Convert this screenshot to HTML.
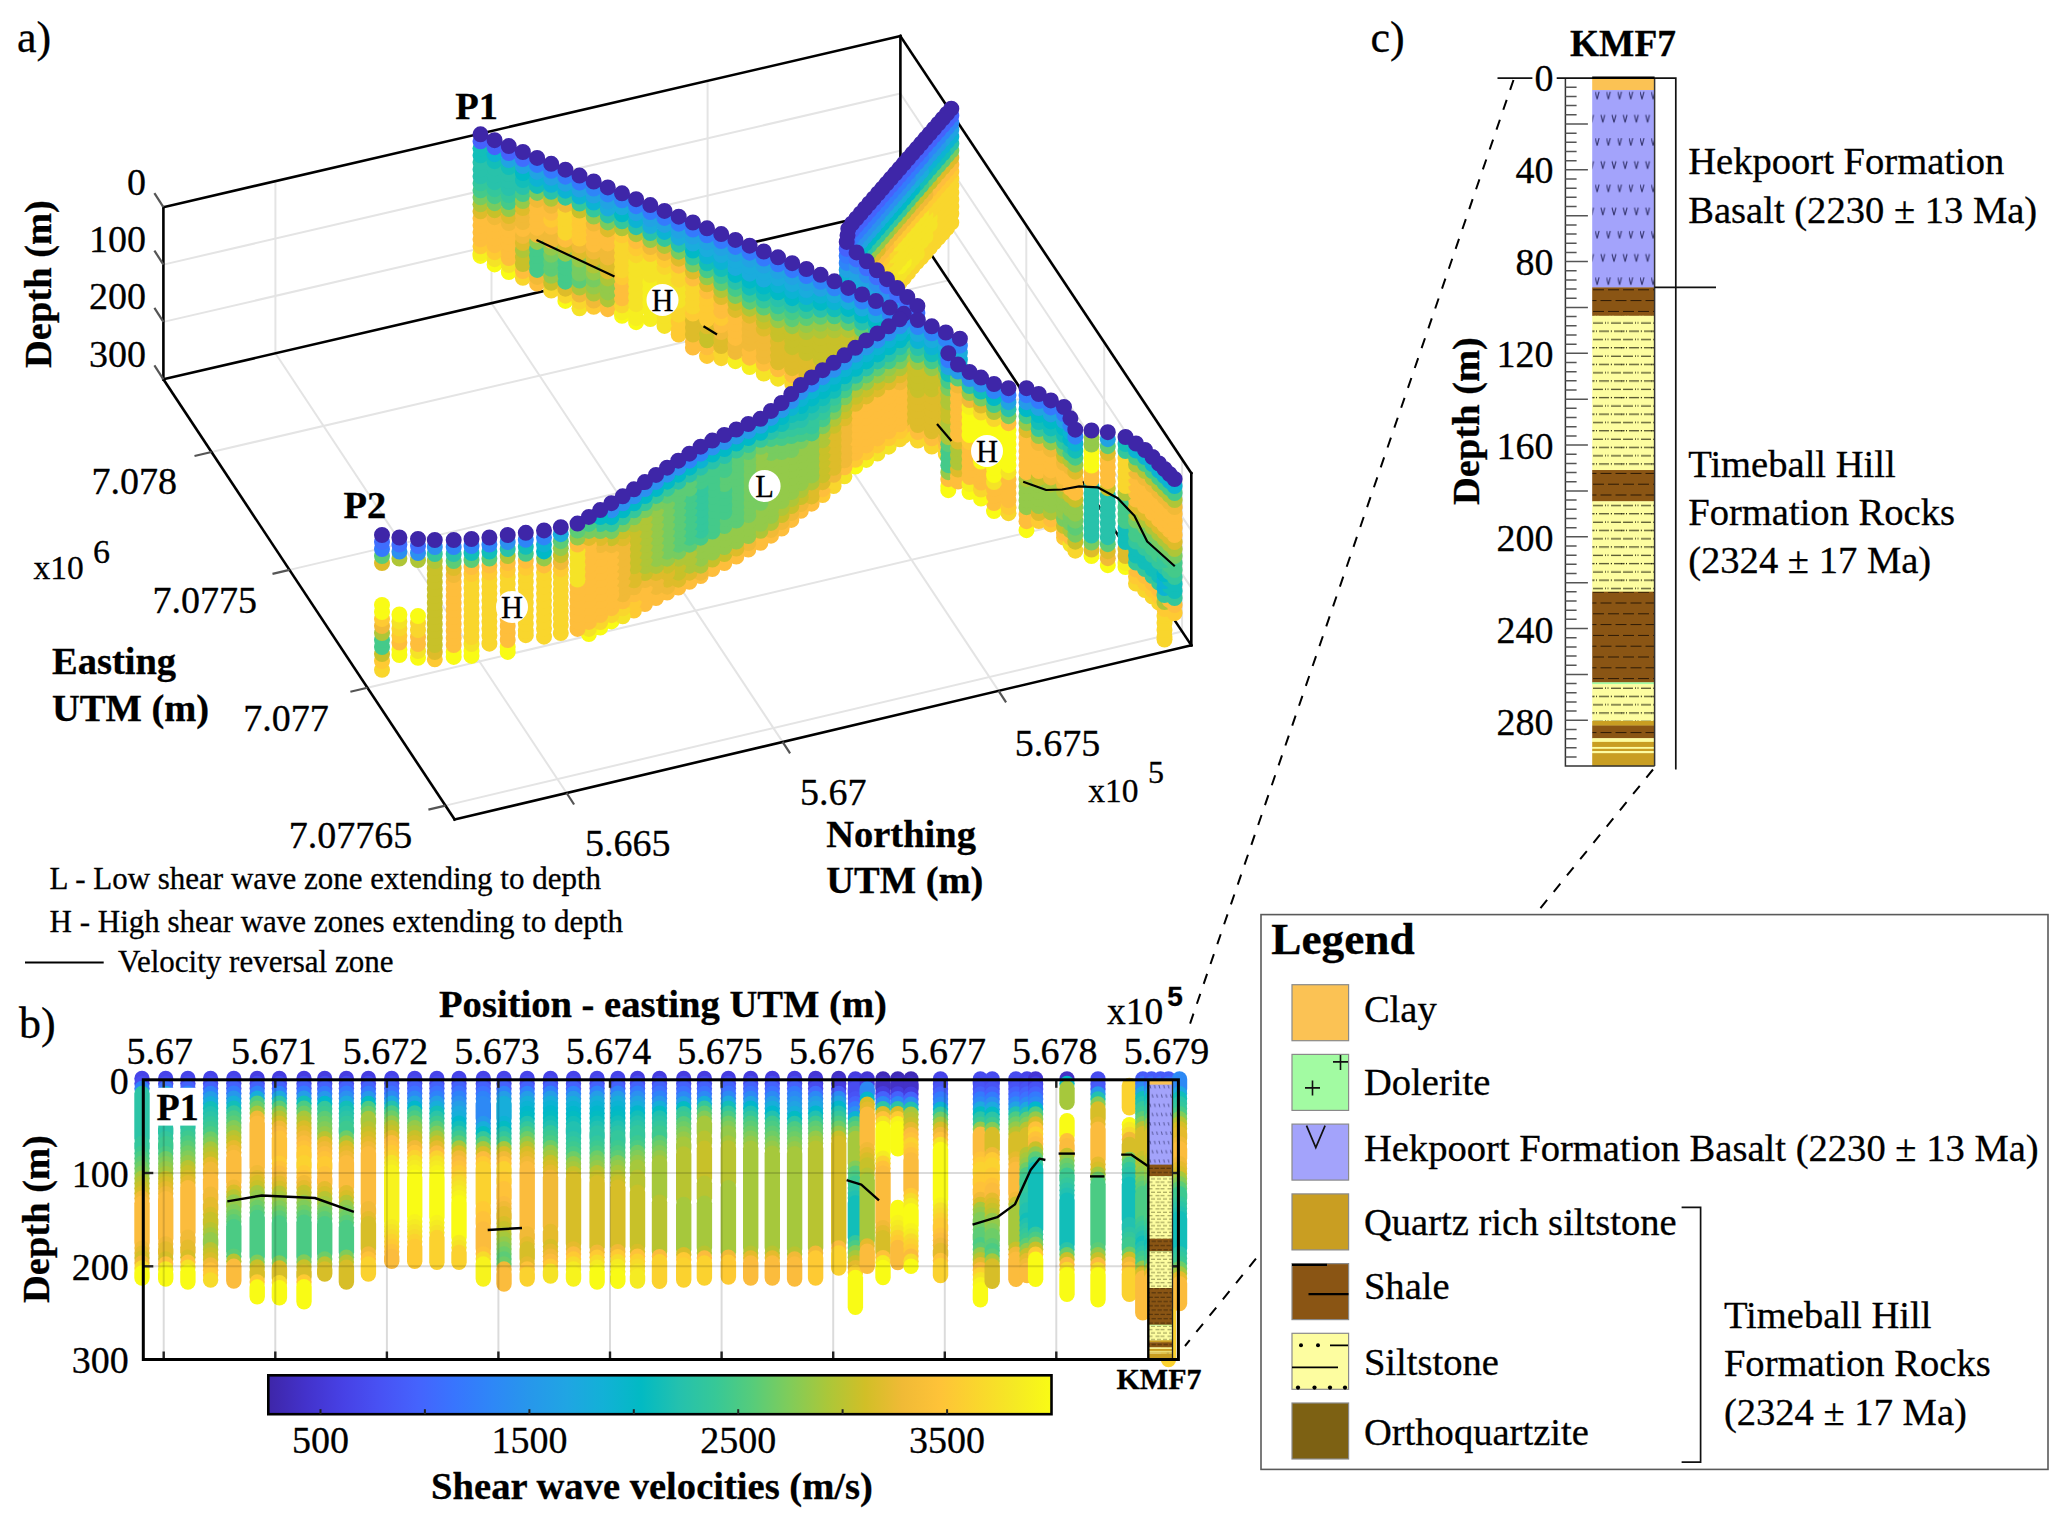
<!DOCTYPE html>
<html><head><meta charset="utf-8"><title>Figure</title>
<style>
html,body{margin:0;padding:0;background:#fff;}
svg{display:block;}
text{font-family:"Liberation Serif",serif;fill:#000;stroke:#000;stroke-width:0.3px;}
</style></head><body>
<svg width="2067" height="1524" viewBox="0 0 2067 1524">
<rect width="2067" height="1524" fill="#fff"/>
<g stroke="#e4e4e4" stroke-width="2" fill="none">
<line x1="566.6" y1="793" x2="275.4" y2="353.3" />
<line x1="275.4" y1="353.3" x2="275.4" y2="181.2" />
<line x1="782.6" y1="741.9" x2="491.5" y2="303.1" />
<line x1="491.5" y1="303.1" x2="491.5" y2="131" />
<line x1="998.6" y1="690.9" x2="707.6" y2="253" />
<line x1="707.6" y1="253" x2="707.6" y2="80.9" />
<line x1="211.5" y1="452" x2="948.5" y2="280.4" />
<line x1="948.5" y1="280.4" x2="948.5" y2="108.3" />
<line x1="289.5" y1="569.9" x2="1026.3" y2="397.4" />
<line x1="1026.3" y1="397.4" x2="1026.3" y2="225.3" />
<line x1="367.4" y1="687.7" x2="1104.2" y2="514.5" />
<line x1="1104.2" y1="514.5" x2="1104.2" y2="342.4" />
<line x1="445.4" y1="805.6" x2="1182.1" y2="631.5" />
<line x1="1182.1" y1="631.5" x2="1182.1" y2="459.4" />
<line x1="163.4" y1="321.9" x2="900.4" y2="150.8" />
<line x1="900.4" y1="150.8" x2="1191.3" y2="587.9" />
<line x1="163.4" y1="264.6" x2="900.4" y2="93.5" />
<line x1="900.4" y1="93.5" x2="1191.3" y2="530.6" />
</g>
<g stroke="#000" stroke-width="2.6" fill="none" stroke-linecap="square">
<line x1="163.4" y1="379.3" x2="163.4" y2="207.2" />
<line x1="163.4" y1="207.2" x2="900.4" y2="36.1" />
<line x1="900.4" y1="36.1" x2="1191.3" y2="473.2" />
<line x1="900.4" y1="208.2" x2="900.4" y2="36.1" />
<line x1="1191.3" y1="645.3" x2="1191.3" y2="473.2" />
<line x1="163.4" y1="379.3" x2="900.4" y2="208.2" />
<line x1="900.4" y1="208.2" x2="1191.3" y2="645.3" />
<line x1="163.4" y1="379.3" x2="454.6" y2="819.5" />
<line x1="454.6" y1="819.5" x2="1191.3" y2="645.3" />
</g>
<g stroke="#555" stroke-width="2.2" fill="none">
<line x1="566.6" y1="793" x2="574.1" y2="804.5" />
<line x1="782.6" y1="741.9" x2="790.1" y2="753.4" />
<line x1="998.6" y1="690.9" x2="1006.1" y2="702.4" />
<line x1="211.5" y1="452" x2="194.5" y2="456" />
<line x1="289.5" y1="569.9" x2="272.5" y2="573.9" />
<line x1="367.4" y1="687.7" x2="350.4" y2="691.7" />
<line x1="445.4" y1="805.6" x2="428.4" y2="809.6" />
<line x1="163.4" y1="207.2" x2="154.4" y2="193.2" />
<line x1="163.4" y1="264.6" x2="154.4" y2="250.6" />
<line x1="163.4" y1="321.9" x2="154.4" y2="307.9" />
<line x1="163.4" y1="379.3" x2="154.4" y2="365.3" />
</g>
<g fill="none" stroke-width="16" stroke-linecap="round">
<path d="M942.7 233.2h0" stroke="#f9d62d"/>
<path d="M951.3 222.6h0M947 228h0M942.7 230.7h0M938.3 237.9h0M934 242.6h0M929.7 247.6h0M925.4 252.8h0M921.1 257.6h0M916.8 262.2h0M912.4 267.2h0M908.1 272.5h0M903.8 277.8h0M899.5 282.7h0M895.2 287.5h0" stroke="#f9d62d"/>
<path d="M890.8 292.7h0M886.5 298h0M882.2 302.9h0M877.9 307.5h0M873.6 312.2h0" stroke="#feca33"/>
<path d="M869.2 317.3h0M864.9 322.5h0M860.6 327.4h0M856.3 332.1h0M852 337.3h0M848.3 343h0M847.5 349.8h0M846.7 356.1h0" stroke="#febe3c"/>
<path d="M951.3 213.7h0M947 218.7h0M942.7 223.7h0M938.3 228.7h0M934 233.7h0M929.7 238.7h0M925.4 243.6h0M921.1 248.6h0M890.8 283.6h0M886.5 288.6h0" stroke="#f9d62d"/>
<path d="M916.8 253.6h0M912.4 258.6h0M908.1 263.6h0M903.8 268.6h0M899.5 273.6h0M895.2 278.6h0" stroke="#f5e327"/>
<path d="M882.2 293.6h0M877.9 298.5h0M873.6 303.5h0" stroke="#feca33"/>
<path d="M869.2 308.5h0M864.9 313.5h0M860.6 318.5h0M856.3 323.5h0M852 328.5h0M848.3 333.8h0M847.5 340.3h0M846.7 346.9h0" stroke="#febe3c"/>
<path d="M951.3 206.7h0M947 211.7h0M942.7 216.7h0M938.3 221.7h0M934 226.7h0M929.7 231.7h0M886.5 281.6h0M882.2 286.6h0" stroke="#f9d62d"/>
<path d="M925.4 236.6h0M921.1 241.6h0M916.8 246.6h0M912.4 251.6h0M908.1 256.6h0M895.2 271.6h0M890.8 276.6h0" stroke="#f5e327"/>
<path d="M903.8 261.6h0M899.5 266.6h0" stroke="#f6ef20"/>
<path d="M877.9 291.5h0M873.6 296.5h0M869.2 301.5h0" stroke="#feca33"/>
<path d="M864.9 306.5h0M860.6 311.5h0M856.3 316.5h0M852 321.5h0M848.3 326.8h0M847.5 333.3h0M846.7 339.9h0" stroke="#febe3c"/>
<path d="M951.3 199.7h0M947 204.7h0M942.7 209.7h0M938.3 214.7h0M934 219.7h0M886.5 274.6h0M882.2 279.6h0M877.9 284.5h0" stroke="#f9d62d"/>
<path d="M929.7 224.7h0M925.4 229.6h0M921.1 234.6h0M916.8 239.6h0M912.4 244.6h0M908.1 249.6h0M903.8 254.6h0M899.5 259.6h0M895.2 264.6h0M890.8 269.6h0" stroke="#f5e327"/>
<path d="M873.6 289.5h0M869.2 294.5h0" stroke="#feca33"/>
<path d="M864.9 299.5h0M860.6 304.5h0M856.3 309.5h0M852 314.5h0M848.3 319.8h0M847.5 326.3h0M846.7 332.9h0" stroke="#febe3c"/>
<path d="M951.3 192.7h0M947 197.7h0M942.7 202.7h0M938.3 207.7h0M934 212.7h0M886.5 267.6h0M882.2 272.6h0M877.9 277.5h0" stroke="#f9d62d"/>
<path d="M929.7 217.7h0M925.4 222.6h0M921.1 227.6h0M916.8 232.6h0M912.4 237.6h0M908.1 242.6h0M903.8 247.6h0M899.5 252.6h0M895.2 257.6h0M890.8 262.6h0" stroke="#f5e327"/>
<path d="M873.6 282.5h0M869.2 287.5h0M864.9 292.5h0M860.6 297.5h0" stroke="#feca33"/>
<path d="M856.3 302.5h0M852 307.5h0M848.3 312.8h0M847.5 319.3h0M846.7 325.9h0" stroke="#febe3c"/>
<path d="M951.3 185.7h0M947 190.7h0M942.7 195.7h0M938.3 200.7h0M934 205.7h0M929.7 210.7h0M886.5 260.6h0M882.2 265.6h0M877.9 270.5h0M873.6 275.5h0" stroke="#f9d62d"/>
<path d="M925.4 215.6h0M921.1 220.6h0M916.8 225.6h0M912.4 230.6h0M908.1 235.6h0M903.8 240.6h0M899.5 245.6h0M895.2 250.6h0M890.8 255.6h0" stroke="#f5e327"/>
<path d="M869.2 280.5h0M864.9 285.5h0M860.6 290.5h0M856.3 295.5h0" stroke="#feca33"/>
<path d="M852 300.5h0M848.3 305.8h0M847.5 312.3h0M846.7 318.9h0" stroke="#febe3c"/>
<path d="M951.3 178.7h0M947 183.7h0M942.7 188.7h0M938.3 193.7h0M934 198.7h0M929.7 203.7h0M925.4 208.6h0M890.8 248.6h0M886.5 253.6h0" stroke="#f9d62d"/>
<path d="M921.1 213.6h0M916.8 218.6h0M912.4 223.6h0M908.1 228.6h0M903.8 233.6h0M899.5 238.6h0M895.2 243.6h0" stroke="#f5e327"/>
<path d="M882.2 258.6h0M877.9 263.5h0M873.6 268.5h0M869.2 273.5h0" stroke="#feca33"/>
<path d="M864.9 278.5h0M860.6 283.5h0M856.3 288.5h0M852 293.5h0M848.3 298.8h0M847.5 305.3h0M846.7 311.9h0" stroke="#febe3c"/>
<path d="M951.3 171.7h0M947 176.7h0M942.7 181.7h0M938.3 186.7h0M934 191.7h0M929.7 196.7h0M925.4 201.6h0M921.1 206.6h0M916.8 211.6h0M912.4 216.6h0M908.1 221.6h0M903.8 226.6h0M899.5 231.6h0M895.2 236.6h0M890.8 241.6h0" stroke="#feca33"/>
<path d="M886.5 246.6h0M882.2 251.6h0M877.9 256.5h0M873.6 261.5h0M869.2 266.5h0M864.9 271.5h0M860.6 276.5h0M856.3 281.5h0M852 286.5h0" stroke="#febe3c"/>
<path d="M848.3 291.8h0M847.5 298.3h0M846.7 304.9h0" stroke="#f1ba37"/>
<path d="M951.3 164.7h0M947 169.7h0M942.7 174.7h0M938.3 179.7h0M934 184.7h0M929.7 189.7h0" stroke="#febe3c"/>
<path d="M925.4 194.6h0M921.1 199.6h0M916.8 204.6h0M912.4 209.6h0M908.1 214.6h0M903.8 219.6h0M899.5 224.6h0M895.2 229.6h0M890.8 234.6h0M886.5 239.6h0M882.2 244.6h0" stroke="#f1ba37"/>
<path d="M877.9 249.5h0M873.6 254.5h0M869.2 259.5h0M864.9 264.5h0M860.6 269.5h0M856.3 274.5h0M852 279.5h0M848.3 284.8h0M847.5 291.3h0M846.7 297.9h0" stroke="#debc2a"/>
<path d="M951.3 157.7h0M947 162.7h0M942.7 167.7h0M938.3 172.7h0M934 177.7h0" stroke="#debc2a"/>
<path d="M929.7 182.7h0M925.4 187.6h0M921.1 192.6h0M916.8 197.6h0M912.4 202.6h0" stroke="#c8c129"/>
<path d="M908.1 207.6h0M903.8 212.6h0M899.5 217.6h0M895.2 222.6h0M890.8 227.6h0" stroke="#afc637"/>
<path d="M886.5 232.6h0M882.2 237.6h0M877.9 242.5h0M873.6 247.5h0M869.2 252.5h0M864.9 257.5h0M860.6 262.5h0" stroke="#94ca4a"/>
<path d="M856.3 267.5h0M852 272.5h0M848.3 277.8h0" stroke="#77cc60"/>
<path d="M847.5 284.3h0M846.7 290.9h0" stroke="#5ccc76"/>
<path d="M951.3 150.7h0M947 155.7h0" stroke="#77cc60"/>
<path d="M942.7 160.7h0M938.3 165.7h0M934 170.7h0M929.7 175.7h0M925.4 180.6h0" stroke="#5ccc76"/>
<path d="M921.1 185.6h0M916.8 190.6h0M912.4 195.6h0M908.1 200.6h0M903.8 205.6h0" stroke="#44ca8a"/>
<path d="M899.5 210.6h0M895.2 215.6h0M890.8 220.6h0M886.5 225.6h0M882.2 230.6h0M877.9 235.5h0M873.6 240.5h0M869.2 245.5h0" stroke="#34c79c"/>
<path d="M864.9 250.5h0M860.6 255.5h0M856.3 260.5h0M852 265.5h0M848.3 270.8h0" stroke="#28c2ab"/>
<path d="M847.5 277.3h0M846.7 283.9h0" stroke="#12beb9"/>
<path d="M951.3 143.7h0M947 148.7h0" stroke="#28c2ab"/>
<path d="M942.7 153.7h0M938.3 158.7h0M934 163.7h0M929.7 168.7h0M925.4 173.6h0M921.1 178.6h0M916.8 183.6h0" stroke="#12beb9"/>
<path d="M912.4 188.6h0M908.1 193.6h0M903.8 198.6h0M899.5 203.6h0M895.2 208.6h0M890.8 213.6h0M886.5 218.6h0M882.2 223.6h0M877.9 228.5h0M873.6 233.5h0M869.2 238.5h0M864.9 243.5h0M860.6 248.5h0" stroke="#01b9c6"/>
<path d="M856.3 253.5h0M852 258.5h0M848.3 263.8h0M847.5 270.3h0M846.7 276.9h0" stroke="#0cb3d3"/>
<path d="M951.3 136.7h0M947 141.7h0M942.7 146.7h0M938.3 151.7h0M934 156.7h0M929.7 161.7h0M925.4 166.6h0" stroke="#0cb3d3"/>
<path d="M921.1 171.6h0M916.8 176.6h0M912.4 181.6h0M908.1 186.6h0M903.8 191.6h0M899.5 196.6h0M895.2 201.6h0M890.8 206.6h0M886.5 211.6h0M882.2 216.6h0M877.9 221.5h0" stroke="#1aacdd"/>
<path d="M873.6 226.5h0M869.2 231.5h0M864.9 236.5h0M860.6 241.5h0M856.3 246.5h0M852 251.5h0M848.3 256.8h0M847.5 263.3h0M846.7 269.9h0" stroke="#21a3e3"/>
<path d="M951.3 129.7h0M947 134.7h0M942.7 139.7h0" stroke="#21a3e3"/>
<path d="M938.3 144.7h0M934 149.7h0M929.7 154.7h0M925.4 159.6h0M921.1 164.6h0M916.8 169.6h0M912.4 174.6h0" stroke="#269ae9"/>
<path d="M908.1 179.6h0M903.8 184.6h0M899.5 189.6h0M895.2 194.6h0M890.8 199.6h0M886.5 204.6h0M882.2 209.6h0M877.9 214.5h0M873.6 219.5h0M869.2 224.5h0M864.9 229.5h0M860.6 234.5h0M856.3 239.5h0M852 244.5h0M848.3 249.8h0M847.5 256.3h0" stroke="#2c90f0"/>
<path d="M846.7 262.9h0" stroke="#2e85f8"/>
<path d="M951.3 122.7h0M947 127.7h0M942.7 132.7h0M938.3 137.7h0M934 142.7h0M929.7 147.7h0M925.4 152.6h0" stroke="#2e85f8"/>
<path d="M921.1 157.6h0M916.8 162.6h0M912.4 167.6h0M908.1 172.6h0M903.8 177.6h0M899.5 182.6h0M895.2 187.6h0M890.8 192.6h0M886.5 197.6h0M882.2 202.6h0M877.9 207.5h0M873.6 212.5h0M869.2 217.5h0M864.9 222.5h0M860.6 227.5h0M856.3 232.5h0M852 237.5h0M848.3 242.8h0M847.5 249.3h0M846.7 255.9h0" stroke="#347afd"/>
<path d="M951.3 115.7h0M947 120.7h0M942.7 125.7h0M938.3 130.7h0M934 135.7h0M929.7 140.7h0M925.4 145.6h0M921.1 150.6h0M916.8 155.6h0M912.4 160.6h0M908.1 165.6h0M903.8 170.6h0M899.5 175.6h0M895.2 180.6h0M890.8 185.6h0M886.5 190.6h0M882.2 195.6h0M877.9 200.5h0M873.6 205.5h0M869.2 210.5h0M864.9 215.5h0M860.6 220.5h0M856.3 225.5h0M852 230.5h0M848.3 235.8h0M847.5 242.3h0M846.7 248.9h0" stroke="#4562fc"/>
<path d="M951.3 108.7h0M947 113.7h0M942.7 118.7h0M938.3 123.7h0M934 128.7h0M929.7 133.7h0M925.4 138.6h0M921.1 143.6h0M916.8 148.6h0M912.4 153.6h0M908.1 158.6h0M903.8 163.6h0M899.5 168.6h0M895.2 173.6h0M890.8 178.6h0M886.5 183.6h0M882.2 188.6h0M877.9 193.5h0M873.6 198.5h0M869.2 203.5h0M864.9 208.5h0M860.6 213.5h0M856.3 218.5h0M852 223.5h0M848.3 228.8h0M847.5 235.3h0M846.7 241.9h0" stroke="#3e26a8"/>
<path d="M866.8 377.2h0M876.9 387.2h0M887 394.4h0M917.4 420.7h0" stroke="#febe3c"/>
<path d="M856.6 365.8h0M866.8 373.3h0M876.9 382.3h0M887 391.2h0M897.2 401.6h0M907.3 410.8h0M917.4 417.9h0" stroke="#febe3c"/>
<path d="M856.6 357.4h0M866.8 366.3h0M876.9 375.3h0M887 384.2h0M897.2 393.1h0M907.3 402h0M917.4 410.9h0" stroke="#febe3c"/>
<path d="M856.6 350.4h0M866.8 359.3h0M876.9 368.3h0M887 377.2h0M897.2 386.1h0M907.3 395h0M917.4 403.9h0" stroke="#febe3c"/>
<path d="M856.6 343.4h0M866.8 352.3h0M876.9 361.3h0M887 370.2h0M897.2 379.1h0M907.3 388h0M917.4 396.9h0" stroke="#febe3c"/>
<path d="M856.6 336.4h0M866.8 345.3h0M876.9 354.3h0M887 363.2h0M897.2 372.1h0M907.3 381h0M917.4 389.9h0" stroke="#febe3c"/>
<path d="M856.6 329.4h0M866.8 338.3h0M876.9 347.3h0M887 356.2h0M897.2 365.1h0M907.3 374h0M917.4 382.9h0" stroke="#febe3c"/>
<path d="M856.6 322.4h0M866.8 331.3h0M876.9 340.3h0M887 349.2h0M897.2 358.1h0M907.3 367h0M917.4 375.9h0" stroke="#febe3c"/>
<path d="M856.6 315.4h0M866.8 324.3h0M876.9 333.3h0M887 342.2h0M897.2 351.1h0M907.3 360h0M917.4 368.9h0" stroke="#f1ba37"/>
<path d="M856.6 308.4h0M866.8 317.3h0M876.9 326.3h0M887 335.2h0M897.2 344.1h0M907.3 353h0M917.4 361.9h0" stroke="#debc2a"/>
<path d="M856.6 301.4h0M866.8 310.3h0M876.9 319.3h0M887 328.2h0M897.2 337.1h0M907.3 346h0M917.4 354.9h0" stroke="#94ca4a"/>
<path d="M856.6 294.4h0M866.8 303.3h0" stroke="#44ca8a"/>
<path d="M876.9 312.3h0M887 321.2h0M897.2 330.1h0M907.3 339h0M917.4 347.9h0" stroke="#5ccc76"/>
<path d="M856.6 287.4h0M866.8 296.3h0M876.9 305.3h0M887 314.2h0" stroke="#12beb9"/>
<path d="M897.2 323.1h0M907.3 332h0M917.4 340.9h0" stroke="#28c2ab"/>
<path d="M856.6 280.4h0M866.8 289.3h0M876.9 298.3h0M887 307.2h0M897.2 316.1h0" stroke="#1aacdd"/>
<path d="M907.3 325h0M917.4 333.9h0" stroke="#0cb3d3"/>
<path d="M856.6 273.4h0M866.8 282.3h0M876.9 291.3h0M887 300.2h0M897.2 309.1h0M907.3 318h0M917.4 326.9h0" stroke="#21a3e3"/>
<path d="M856.6 266.4h0M866.8 275.3h0M876.9 284.3h0M887 293.2h0M897.2 302.1h0" stroke="#2c90f0"/>
<path d="M907.3 311h0M917.4 319.9h0" stroke="#269ae9"/>
<path d="M856.6 259.4h0M866.8 268.3h0M876.9 277.3h0M887 286.2h0M897.2 295.1h0M907.3 304h0M917.4 312.9h0" stroke="#3f6efe"/>
<path d="M856.6 252.4h0M866.8 261.3h0M876.9 270.3h0M887 279.2h0M897.2 288.1h0M907.3 297h0M917.4 305.9h0" stroke="#3e26a8"/>
<path d="M565.4 300.9h0" stroke="#f9fb15"/>
<path d="M579.5 308.3h0" stroke="#f5e327"/>
<path d="M480.5 255.9h0M494.6 264.4h0M508.8 272h0M622 315.8h0M636.1 322.2h0" stroke="#f9fb15"/>
<path d="M522.9 277.8h0M551.2 290.6h0M565.4 295.7h0M579.5 301.6h0M721.2 358.2h0M820.6 397.8h0M834.4 405h0M848.3 410.6h0M862.1 416.4h0M875.9 423.5h0M889.8 430.6h0M903.8 435.9h0M945.8 454h0M959.9 461.1h0" stroke="#f9d62d"/>
<path d="M537.1 283.5h0M607.8 309.2h0M692.9 347.5h0" stroke="#febe3c"/>
<path d="M593.7 306.8h0M707 355.9h0" stroke="#feca33"/>
<path d="M763.8 373.5h0" stroke="#f5e327"/>
<path d="M480.5 253.3h0M622 312.3h0M636.1 318.2h0M735.4 361.2h0M749.6 367h0" stroke="#f6ef20"/>
<path d="M494.6 259.2h0M508.8 265.1h0M664.5 325.9h0M763.8 370.5h0M778 378.7h0" stroke="#f5e327"/>
<path d="M522.9 271h0M607.8 306.4h0M692.9 341.5h0M707 347.3h0" stroke="#febe3c"/>
<path d="M537.1 276.9h0M579.5 294.6h0M593.7 300.5h0" stroke="#f1ba37"/>
<path d="M551.2 282.8h0" stroke="#c8c129"/>
<path d="M565.4 288.7h0" stroke="#debc2a"/>
<path d="M678.7 334.6h0" stroke="#feca33"/>
<path d="M721.2 353.1h0M792.2 383.7h0M806.4 390.2h0M820.6 393.8h0M834.4 400.3h0M848.3 406.9h0M862.1 413.5h0M875.9 420.1h0M889.8 426.6h0M903.8 432.8h0M917.8 440.5h0M931.8 446.5h0M945.8 451.5h0M959.9 457.7h0" stroke="#f9d62d"/>
<path d="M480.5 246.3h0M494.6 252.2h0M678.7 328.7h0" stroke="#feca33"/>
<path d="M508.8 258.1h0M749.6 357.7h0M763.8 363.5h0M778 369.3h0M792.2 375.2h0M806.4 381h0M820.6 386.8h0M834.4 393.3h0M848.3 399.9h0M862.1 406.5h0M875.9 413.1h0M889.8 419.6h0M903.8 425.8h0M917.8 432h0M931.8 438.3h0M945.8 444.5h0M959.9 450.7h0" stroke="#febe3c"/>
<path d="M522.9 264h0M707 340.3h0" stroke="#c8c129"/>
<path d="M537.1 269.9h0M565.4 281.7h0" stroke="#44ca8a"/>
<path d="M551.2 275.8h0" stroke="#94ca4a"/>
<path d="M579.5 287.6h0M593.7 293.5h0M607.8 299.4h0" stroke="#afc637"/>
<path d="M622 305.3h0" stroke="#f9d62d"/>
<path d="M636.1 311.2h0M650.3 319h0" stroke="#f6ef20"/>
<path d="M664.5 322.9h0" stroke="#f5e327"/>
<path d="M692.9 334.5h0M721.2 346.1h0" stroke="#debc2a"/>
<path d="M735.4 351.9h0" stroke="#f1ba37"/>
<path d="M480.5 239.3h0M494.6 245.2h0M508.8 251.1h0M622 298.3h0M749.6 350.7h0" stroke="#febe3c"/>
<path d="M522.9 257h0M707 333.3h0" stroke="#c8c129"/>
<path d="M537.1 262.9h0M565.4 274.7h0" stroke="#44ca8a"/>
<path d="M551.2 268.8h0M579.5 280.6h0" stroke="#5ccc76"/>
<path d="M593.7 286.5h0M607.8 292.4h0" stroke="#94ca4a"/>
<path d="M636.1 304.2h0M664.5 315.9h0" stroke="#f5e327"/>
<path d="M650.3 310.1h0" stroke="#f6ef20"/>
<path d="M678.7 321.7h0" stroke="#feca33"/>
<path d="M692.9 327.5h0M721.2 339.1h0M778 362.3h0M792.2 368.2h0M806.4 374h0M820.6 379.8h0M834.4 386.3h0M848.3 392.9h0M862.1 399.5h0M875.9 406.1h0M889.8 412.6h0M903.8 418.8h0M917.8 425h0M931.8 431.3h0" stroke="#debc2a"/>
<path d="M735.4 344.9h0M763.8 356.5h0M945.8 437.5h0M959.9 443.7h0" stroke="#f1ba37"/>
<path d="M480.5 232.3h0M494.6 238.2h0M508.8 244.1h0M622 291.3h0M735.4 337.9h0" stroke="#febe3c"/>
<path d="M522.9 250h0" stroke="#afc637"/>
<path d="M537.1 255.9h0M565.4 267.7h0" stroke="#44ca8a"/>
<path d="M551.2 261.8h0" stroke="#5ccc76"/>
<path d="M579.5 273.6h0M593.7 279.5h0" stroke="#77cc60"/>
<path d="M607.8 285.4h0" stroke="#94ca4a"/>
<path d="M636.1 297.2h0M664.5 308.9h0" stroke="#f5e327"/>
<path d="M650.3 303.1h0" stroke="#f6ef20"/>
<path d="M678.7 314.7h0" stroke="#f9d62d"/>
<path d="M692.9 320.5h0M707 326.3h0M778 355.3h0M792.2 361.2h0M806.4 367h0M820.6 372.8h0M834.4 379.3h0M848.3 385.9h0M862.1 392.5h0M875.9 399.1h0M889.8 405.6h0M903.8 411.8h0M917.8 418h0M931.8 424.3h0M945.8 430.5h0M959.9 436.7h0" stroke="#debc2a"/>
<path d="M721.2 332.1h0M749.6 343.7h0M763.8 349.5h0" stroke="#f1ba37"/>
<path d="M480.5 225.3h0M494.6 231.2h0M508.8 237.1h0M622 284.3h0M721.2 325.1h0M735.4 330.9h0" stroke="#febe3c"/>
<path d="M522.9 243h0M778 348.3h0M792.2 354.2h0M806.4 360h0M820.6 365.8h0M834.4 372.3h0M848.3 378.9h0M862.1 385.5h0M875.9 392.1h0M889.8 398.6h0M903.8 404.8h0M917.8 411h0M931.8 417.3h0M945.8 423.5h0M959.9 429.7h0" stroke="#debc2a"/>
<path d="M537.1 248.9h0M565.4 260.7h0" stroke="#44ca8a"/>
<path d="M551.2 254.8h0M579.5 266.6h0" stroke="#77cc60"/>
<path d="M593.7 272.5h0" stroke="#94ca4a"/>
<path d="M607.8 278.4h0" stroke="#afc637"/>
<path d="M636.1 290.2h0M664.5 301.9h0" stroke="#f5e327"/>
<path d="M650.3 296.1h0" stroke="#f6ef20"/>
<path d="M678.7 307.7h0" stroke="#f9d62d"/>
<path d="M692.9 313.5h0M707 319.3h0" stroke="#feca33"/>
<path d="M749.6 336.7h0M763.8 342.5h0" stroke="#f1ba37"/>
<path d="M480.5 218.3h0M494.6 224.2h0M508.8 230.1h0M735.4 323.9h0" stroke="#febe3c"/>
<path d="M522.9 236h0M749.6 329.7h0M763.8 335.5h0" stroke="#f1ba37"/>
<path d="M537.1 241.9h0M551.2 247.8h0M565.4 253.7h0M579.5 259.6h0" stroke="#94ca4a"/>
<path d="M593.7 265.5h0" stroke="#afc637"/>
<path d="M607.8 271.4h0M778 341.3h0M848.3 371.9h0M862.1 378.5h0M875.9 385.1h0M889.8 391.6h0M903.8 397.8h0M917.8 404h0M931.8 410.3h0M945.8 416.5h0M959.9 422.7h0" stroke="#debc2a"/>
<path d="M622 277.3h0M707 312.3h0M721.2 318.1h0" stroke="#feca33"/>
<path d="M636.1 283.2h0M664.5 294.9h0M678.7 300.7h0" stroke="#f5e327"/>
<path d="M650.3 289.1h0" stroke="#f6ef20"/>
<path d="M692.9 306.5h0" stroke="#f9d62d"/>
<path d="M792.2 347.2h0M806.4 353h0M820.6 358.8h0M834.4 365.3h0" stroke="#c8c129"/>
<path d="M480.5 211.3h0M565.4 246.7h0M579.5 252.6h0M593.7 258.5h0M607.8 264.4h0M763.8 328.5h0M903.8 390.8h0M917.8 397h0M931.8 403.3h0M945.8 409.5h0M959.9 415.7h0" stroke="#debc2a"/>
<path d="M494.6 217.2h0M508.8 223.1h0M537.1 234.9h0M551.2 240.8h0M749.6 322.7h0" stroke="#f1ba37"/>
<path d="M522.9 229h0M721.2 311.1h0M735.4 316.9h0" stroke="#febe3c"/>
<path d="M622 270.3h0M692.9 299.5h0" stroke="#f9d62d"/>
<path d="M636.1 276.2h0M664.5 287.9h0M678.7 293.7h0" stroke="#f5e327"/>
<path d="M650.3 282.1h0" stroke="#f6ef20"/>
<path d="M707 305.3h0" stroke="#feca33"/>
<path d="M778 334.3h0M792.2 340.2h0M806.4 346h0M820.6 351.8h0M834.4 358.3h0M848.3 364.9h0M862.1 371.5h0M875.9 378.1h0M889.8 384.6h0" stroke="#c8c129"/>
<path d="M480.5 204.3h0" stroke="#afc637"/>
<path d="M494.6 210.2h0M763.8 321.5h0M778 327.3h0M792.2 333.2h0M806.4 339h0M820.6 344.8h0M834.4 351.3h0M848.3 357.9h0M862.1 364.5h0M875.9 371.1h0M889.8 377.6h0M903.8 383.8h0M917.8 390h0" stroke="#c8c129"/>
<path d="M508.8 216.1h0M735.4 309.9h0M749.6 315.7h0M931.8 396.3h0M945.8 402.5h0M959.9 408.7h0" stroke="#debc2a"/>
<path d="M522.9 222h0M551.2 233.8h0M579.5 245.6h0M593.7 251.5h0M607.8 257.4h0" stroke="#f1ba37"/>
<path d="M537.1 227.9h0M565.4 239.7h0M721.2 304.1h0" stroke="#febe3c"/>
<path d="M622 263.3h0M692.9 292.5h0" stroke="#f9d62d"/>
<path d="M636.1 269.2h0M650.3 275.1h0M664.5 280.9h0M678.7 286.7h0" stroke="#f5e327"/>
<path d="M707 298.3h0" stroke="#feca33"/>
<path d="M480.5 197.3h0M494.6 203.2h0" stroke="#77cc60"/>
<path d="M508.8 209.1h0M778 320.3h0M792.2 326.2h0" stroke="#94ca4a"/>
<path d="M522.9 215h0M607.8 250.4h0" stroke="#f1ba37"/>
<path d="M537.1 220.9h0M551.2 226.8h0M593.7 244.5h0M707 291.3h0" stroke="#febe3c"/>
<path d="M565.4 232.7h0M622 256.3h0M678.7 279.7h0M692.9 285.5h0" stroke="#f9d62d"/>
<path d="M579.5 238.6h0" stroke="#feca33"/>
<path d="M636.1 262.2h0M650.3 268.1h0M664.5 273.9h0" stroke="#f5e327"/>
<path d="M721.2 297.1h0M945.8 395.5h0M959.9 401.7h0" stroke="#debc2a"/>
<path d="M735.4 302.9h0M820.6 337.8h0M834.4 344.3h0M848.3 350.9h0M862.1 357.5h0M875.9 364.1h0M889.8 370.6h0M903.8 376.8h0M917.8 383h0M931.8 389.3h0" stroke="#c8c129"/>
<path d="M749.6 308.7h0M763.8 314.5h0M806.4 332h0" stroke="#afc637"/>
<path d="M480.5 190.3h0M494.6 196.2h0M508.8 202.1h0" stroke="#44ca8a"/>
<path d="M522.9 208h0M707 284.3h0M945.8 388.5h0M959.9 394.7h0" stroke="#debc2a"/>
<path d="M537.1 213.9h0M593.7 237.5h0M607.8 243.4h0M692.9 278.5h0" stroke="#febe3c"/>
<path d="M551.2 219.8h0M579.5 231.6h0" stroke="#feca33"/>
<path d="M565.4 225.7h0M622 249.3h0M636.1 255.2h0M664.5 266.9h0M678.7 272.7h0" stroke="#f9d62d"/>
<path d="M650.3 261.1h0" stroke="#f5e327"/>
<path d="M721.2 290.1h0M820.6 330.8h0" stroke="#afc637"/>
<path d="M735.4 295.9h0" stroke="#77cc60"/>
<path d="M749.6 301.7h0M763.8 307.5h0M778 313.3h0M792.2 319.2h0" stroke="#5ccc76"/>
<path d="M806.4 325h0" stroke="#94ca4a"/>
<path d="M834.4 337.3h0M848.3 343.9h0M862.1 350.5h0M875.9 357.1h0M889.8 363.6h0M903.8 369.8h0M917.8 376h0M931.8 382.3h0" stroke="#c8c129"/>
<path d="M480.5 183.3h0M494.6 189.2h0M508.8 195.1h0M749.6 294.7h0M763.8 300.5h0M778 306.3h0" stroke="#34c79c"/>
<path d="M522.9 201h0M707 277.3h0M820.6 323.8h0" stroke="#94ca4a"/>
<path d="M537.1 206.9h0M551.2 212.8h0M593.7 230.5h0M607.8 236.4h0M678.7 265.7h0" stroke="#febe3c"/>
<path d="M565.4 218.7h0M622 242.3h0" stroke="#f9d62d"/>
<path d="M579.5 224.6h0M636.1 248.2h0M650.3 254.1h0M664.5 259.9h0" stroke="#feca33"/>
<path d="M692.9 271.5h0" stroke="#debc2a"/>
<path d="M721.2 283.1h0M806.4 318h0" stroke="#5ccc76"/>
<path d="M735.4 288.9h0M792.2 312.2h0" stroke="#44ca8a"/>
<path d="M834.4 330.3h0" stroke="#afc637"/>
<path d="M848.3 336.9h0M862.1 343.5h0M875.9 350.1h0M889.8 356.6h0M903.8 362.8h0M917.8 369h0M931.8 375.3h0M945.8 381.5h0M959.9 387.7h0" stroke="#c8c129"/>
<path d="M480.5 176.3h0M494.6 182.2h0M508.8 188.1h0M735.4 281.9h0M778 299.3h0M792.2 305.2h0" stroke="#28c2ab"/>
<path d="M522.9 194h0M707 270.3h0" stroke="#44ca8a"/>
<path d="M537.1 199.9h0M551.2 205.8h0M593.7 223.5h0M650.3 247.1h0M664.5 252.9h0" stroke="#f1ba37"/>
<path d="M565.4 211.7h0" stroke="#f9d62d"/>
<path d="M579.5 217.6h0M622 235.3h0" stroke="#feca33"/>
<path d="M607.8 229.4h0M678.7 258.7h0" stroke="#debc2a"/>
<path d="M636.1 241.2h0" stroke="#febe3c"/>
<path d="M692.9 264.5h0" stroke="#77cc60"/>
<path d="M721.2 276.1h0M806.4 311h0" stroke="#34c79c"/>
<path d="M749.6 287.7h0M763.8 293.5h0" stroke="#12beb9"/>
<path d="M820.6 316.8h0" stroke="#5ccc76"/>
<path d="M834.4 323.3h0M889.8 349.6h0M903.8 355.8h0M917.8 362h0M931.8 368.3h0M945.8 374.5h0M959.9 380.7h0" stroke="#94ca4a"/>
<path d="M848.3 329.9h0M862.1 336.5h0M875.9 343.1h0" stroke="#afc637"/>
<path d="M480.5 169.3h0M494.6 175.2h0M508.8 181.1h0M522.9 187h0M820.6 309.8h0" stroke="#28c2ab"/>
<path d="M537.1 192.9h0M607.8 222.4h0M678.7 251.7h0" stroke="#77cc60"/>
<path d="M551.2 198.8h0M622 228.3h0M636.1 234.2h0M664.5 245.9h0" stroke="#afc637"/>
<path d="M565.4 204.7h0" stroke="#f1ba37"/>
<path d="M579.5 210.6h0" stroke="#c8c129"/>
<path d="M593.7 216.5h0M650.3 240.1h0" stroke="#94ca4a"/>
<path d="M692.9 257.5h0" stroke="#34c79c"/>
<path d="M707 263.3h0M721.2 269.1h0M806.4 304h0" stroke="#12beb9"/>
<path d="M735.4 274.9h0M749.6 280.7h0M763.8 286.5h0M778 292.3h0M792.2 298.2h0" stroke="#01b9c6"/>
<path d="M834.4 316.3h0M917.8 355h0M931.8 361.3h0M945.8 367.5h0M959.9 373.7h0" stroke="#44ca8a"/>
<path d="M848.3 322.9h0M862.1 329.5h0M875.9 336.1h0M889.8 342.6h0M903.8 348.8h0" stroke="#5ccc76"/>
<path d="M480.5 162.3h0M494.6 168.2h0M508.8 174.1h0M551.2 191.8h0M607.8 215.4h0M636.1 227.2h0M650.3 233.1h0M678.7 244.7h0M848.3 315.9h0M862.1 322.5h0M875.9 329.1h0M889.8 335.6h0M903.8 341.8h0M917.8 348h0" stroke="#28c2ab"/>
<path d="M522.9 180h0M537.1 185.9h0M834.4 309.3h0M931.8 354.3h0M945.8 360.5h0M959.9 366.7h0" stroke="#12beb9"/>
<path d="M565.4 197.7h0M579.5 203.6h0M593.7 209.5h0M622 221.3h0M664.5 238.9h0" stroke="#34c79c"/>
<path d="M692.9 250.5h0M820.6 302.8h0" stroke="#01b9c6"/>
<path d="M707 256.3h0M721.2 262.1h0M778 285.3h0M792.2 291.2h0M806.4 297h0" stroke="#0cb3d3"/>
<path d="M735.4 267.9h0M749.6 273.7h0M763.8 279.5h0" stroke="#1aacdd"/>
<path d="M480.5 155.3h0M494.6 161.2h0M508.8 167.1h0" stroke="#12beb9"/>
<path d="M522.9 173h0M622 214.3h0M848.3 308.9h0M862.1 315.5h0M875.9 322.1h0M889.8 328.6h0M903.8 334.8h0" stroke="#01b9c6"/>
<path d="M537.1 178.9h0M551.2 184.8h0M565.4 190.7h0M579.5 196.6h0M593.7 202.5h0M636.1 220.2h0M664.5 231.9h0M820.6 295.8h0M834.4 302.3h0M917.8 341h0M931.8 347.3h0M945.8 353.5h0M959.9 359.7h0" stroke="#0cb3d3"/>
<path d="M607.8 208.4h0M650.3 226.1h0M678.7 237.7h0M692.9 243.5h0M707 249.3h0M721.2 255.1h0M735.4 260.9h0M749.6 266.7h0M763.8 272.5h0M778 278.3h0M792.2 284.2h0M806.4 290h0" stroke="#1aacdd"/>
<path d="M480.5 148.3h0" stroke="#12beb9"/>
<path d="M494.6 154.2h0" stroke="#0cb3d3"/>
<path d="M508.8 160.1h0M522.9 166h0M537.1 171.9h0M551.2 177.8h0M565.4 183.7h0M579.5 189.6h0M593.7 195.5h0M607.8 201.4h0M636.1 213.2h0M650.3 219.1h0M664.5 224.9h0M678.7 230.7h0M692.9 236.5h0M707 242.3h0M721.2 248.1h0M735.4 253.9h0M749.6 259.7h0M763.8 265.5h0M778 271.3h0M792.2 277.2h0M806.4 283h0M820.6 288.8h0" stroke="#21a3e3"/>
<path d="M622 207.3h0M834.4 295.3h0M848.3 301.9h0M862.1 308.5h0M875.9 315.1h0M889.8 321.6h0M903.8 327.8h0M917.8 334h0M931.8 340.3h0M945.8 346.5h0M959.9 352.7h0" stroke="#1aacdd"/>
<path d="M480.5 141.3h0M494.6 147.2h0M508.8 153.1h0" stroke="#4562fc"/>
<path d="M522.9 159h0" stroke="#3f6efe"/>
<path d="M537.1 164.9h0M551.2 170.8h0M565.4 176.7h0M579.5 182.6h0M636.1 206.2h0M650.3 212.1h0M664.5 217.9h0M678.7 223.7h0M692.9 229.5h0M707 235.3h0M721.2 241.1h0M735.4 246.9h0M749.6 252.7h0M763.8 258.5h0M778 264.3h0M792.2 270.2h0M806.4 276h0" stroke="#347afd"/>
<path d="M593.7 188.5h0M607.8 194.4h0M622 200.3h0M820.6 281.8h0M834.4 288.3h0M848.3 294.9h0M862.1 301.5h0M875.9 308.1h0M889.8 314.6h0M903.8 320.8h0M917.8 327h0M931.8 333.3h0M945.8 339.5h0M959.9 345.7h0" stroke="#2e85f8"/>
<path d="M480.5 134.3h0M494.6 140.2h0M508.8 146.1h0M522.9 152h0M537.1 157.9h0M551.2 163.8h0M565.4 169.7h0M579.5 175.6h0M593.7 181.5h0M607.8 187.4h0M622 193.3h0M636.1 199.2h0M650.3 205.1h0M664.5 210.9h0M678.7 216.7h0M692.9 222.5h0M707 228.3h0M721.2 234.1h0M735.4 239.9h0M749.6 245.7h0M763.8 251.5h0M778 257.3h0M792.2 263.2h0M806.4 269h0M820.6 274.8h0M834.4 281.3h0M848.3 287.9h0M862.1 294.5h0M875.9 301.1h0M889.8 307.6h0M903.8 313.8h0M917.8 320h0M931.8 326.3h0M945.8 332.5h0M959.9 338.7h0" stroke="#3e26a8"/>
<path d="M382 669.8h0" stroke="#f9d62d"/>
<path d="M700.6 576.1h0M712.3 569.1h0" stroke="#febe3c"/>
<path d="M382 661h0M822.6 495h0" stroke="#feca33"/>
<path d="M644.9 604h0M656 598h0M667.1 592.6h0M678.3 587.5h0M689.4 581.8h0M712.3 566.6h0M724.3 563h0M736.3 556.5h0M748.3 549.5h0M760.4 542.8h0M771 535.7h0M781.6 528.6h0M791.3 519.9h0M800.8 510.8h0M811.6 503.7h0" stroke="#febe3c"/>
<path d="M700.6 572.7h0" stroke="#f1ba37"/>
<path d="M833.6 486h0" stroke="#f9d62d"/>
<path d="M382 654h0M712.3 559.6h0M724.3 554h0" stroke="#c8c129"/>
<path d="M399.4 655h0M418 657.8h0M453.7 656.9h0M471.5 655.9h0M507.7 651.9h0M588.9 634.1h0M600.2 627.5h0M611.4 621.4h0M855.3 466.6h0" stroke="#f9fb15"/>
<path d="M434.8 659.3h0M633.9 610.5h0" stroke="#feca33"/>
<path d="M622.7 616.3h0M844.4 476.3h0M877.4 453.6h0M888.6 446.7h0" stroke="#f5e327"/>
<path d="M644.9 601.1h0M656 593.9h0M760.4 537.8h0M822.6 489.2h0" stroke="#febe3c"/>
<path d="M667.1 586.7h0M748.3 543h0M771 529.9h0M781.6 522h0M791.3 513.1h0M800.8 504h0" stroke="#f1ba37"/>
<path d="M678.3 579.7h0M689.4 572.7h0M736.3 548.5h0M811.6 496.4h0" stroke="#debc2a"/>
<path d="M700.6 565.7h0" stroke="#afc637"/>
<path d="M833.6 481.8h0M899.7 439.3h0" stroke="#f9d62d"/>
<path d="M866.2 459.9h0" stroke="#f6ef20"/>
<path d="M382 647h0" stroke="#44ca8a"/>
<path d="M399.4 649.5h0M453.7 652h0M471.5 651h0M507.7 647h0" stroke="#f9fb15"/>
<path d="M418 651h0M588.9 628.9h0" stroke="#f5e327"/>
<path d="M434.8 652h0M667.1 579.7h0M811.6 489.4h0M822.6 482.2h0" stroke="#debc2a"/>
<path d="M600.2 622.1h0M611.4 615.2h0M622.7 608.3h0" stroke="#f9d62d"/>
<path d="M633.9 601.3h0M855.3 459.8h0M866.2 452.4h0M877.4 445.4h0M888.6 438.3h0M899.7 431.3h0" stroke="#feca33"/>
<path d="M644.9 594.1h0M844.4 467.3h0" stroke="#febe3c"/>
<path d="M656 586.9h0M833.6 474.8h0" stroke="#f1ba37"/>
<path d="M678.3 572.7h0M781.6 515h0M791.3 506.1h0M800.8 497h0" stroke="#c8c129"/>
<path d="M689.4 565.7h0M760.4 530.8h0M771 522.9h0" stroke="#afc637"/>
<path d="M700.6 558.7h0M712.3 552.6h0M724.3 547h0M736.3 541.5h0M748.3 536h0" stroke="#94ca4a"/>
<path d="M382 640h0" stroke="#44ca8a"/>
<path d="M399.4 642.5h0M418 644h0M453.7 645h0M507.7 640h0M577.5 628.9h0M588.9 621.9h0M600.2 615.1h0M611.4 608.2h0M622.7 601.3h0M633.9 594.3h0M644.9 587.1h0M855.3 452.8h0M866.2 445.4h0M877.4 438.4h0M888.6 431.3h0M899.7 424.3h0" stroke="#febe3c"/>
<path d="M434.8 645h0M678.3 565.7h0M822.6 475.2h0" stroke="#c8c129"/>
<path d="M471.5 644h0" stroke="#f5e327"/>
<path d="M489.4 643.7h0M525.8 635.2h0M544 636.7h0M560.8 633.1h0" stroke="#f9d62d"/>
<path d="M656 579.9h0M844.4 460.3h0" stroke="#f1ba37"/>
<path d="M667.1 572.7h0M833.6 467.8h0" stroke="#debc2a"/>
<path d="M689.4 558.7h0M781.6 508h0M791.3 499.1h0M800.8 490h0M811.6 482.4h0" stroke="#afc637"/>
<path d="M700.6 551.7h0M712.3 545.6h0M724.3 540h0M736.3 534.5h0M748.3 529h0M760.4 523.8h0M771 515.9h0" stroke="#94ca4a"/>
<path d="M382 633h0M678.3 558.7h0M689.4 551.7h0" stroke="#afc637"/>
<path d="M399.4 635.5h0" stroke="#feca33"/>
<path d="M418 637h0M453.7 638h0M507.7 633h0M577.5 621.6h0M588.9 614.9h0M600.2 608.1h0M611.4 601.2h0M855.3 445.8h0M866.2 438.4h0M877.4 431.4h0M888.6 424.3h0M899.7 417.3h0" stroke="#febe3c"/>
<path d="M434.8 638h0M667.1 565.7h0M822.6 468.2h0" stroke="#c8c129"/>
<path d="M471.5 637h0M489.4 635.5h0M525.8 630.8h0M544 628.4h0M560.8 625.2h0" stroke="#f9d62d"/>
<path d="M622.7 594.3h0M633.9 587.3h0M644.9 580.1h0M844.4 453.3h0" stroke="#f1ba37"/>
<path d="M656 572.9h0M833.6 460.8h0" stroke="#debc2a"/>
<path d="M700.6 544.7h0M712.3 538.6h0M724.3 533h0M736.3 527.5h0M748.3 522h0M760.4 516.8h0M771 508.9h0M781.6 501h0M791.3 492.1h0M800.8 483h0M811.6 475.4h0" stroke="#94ca4a"/>
<path d="M382 626h0M622.7 587.3h0M844.4 446.3h0" stroke="#f1ba37"/>
<path d="M399.4 628.5h0M418 630h0M471.5 630h0M489.4 628.5h0M525.8 623.8h0M544 621.4h0M560.8 618.2h0" stroke="#f9d62d"/>
<path d="M434.8 631h0M644.9 573.1h0M822.6 461.2h0" stroke="#c8c129"/>
<path d="M453.7 631h0M507.7 626h0M577.5 614.6h0M588.9 607.9h0M600.2 601.1h0M611.4 594.2h0M855.3 438.8h0M866.2 431.4h0M877.4 424.4h0M888.6 417.3h0M899.7 410.3h0" stroke="#febe3c"/>
<path d="M633.9 580.3h0M833.6 453.8h0" stroke="#debc2a"/>
<path d="M656 565.9h0" stroke="#afc637"/>
<path d="M667.1 558.7h0M760.4 509.8h0M771 501.9h0M781.6 494h0M791.3 485.1h0M800.8 476h0M811.6 468.4h0" stroke="#94ca4a"/>
<path d="M678.3 551.7h0M748.3 515h0" stroke="#77cc60"/>
<path d="M689.4 544.7h0M724.3 526h0M736.3 520.5h0" stroke="#5ccc76"/>
<path d="M700.6 537.7h0M712.3 531.6h0" stroke="#44ca8a"/>
<path d="M382 619h0" stroke="#feca33"/>
<path d="M399.4 621.5h0" stroke="#f5e327"/>
<path d="M418 623h0M471.5 623h0M489.4 621.5h0M525.8 616.8h0M544 614.4h0M560.8 611.2h0" stroke="#f9d62d"/>
<path d="M434.8 624h0M822.6 454.2h0" stroke="#c8c129"/>
<path d="M453.7 624h0M507.7 619h0M577.5 607.6h0M588.9 600.9h0M600.2 594.1h0M611.4 587.2h0M855.3 431.8h0M866.2 424.4h0M877.4 417.4h0M888.6 410.3h0M899.7 403.3h0" stroke="#febe3c"/>
<path d="M622.7 580.3h0M844.4 439.3h0" stroke="#f1ba37"/>
<path d="M633.9 573.3h0M833.6 446.8h0" stroke="#debc2a"/>
<path d="M644.9 566.1h0" stroke="#afc637"/>
<path d="M656 558.9h0M771 494.9h0M781.6 487h0M791.3 478.1h0M800.8 469h0M811.6 461.4h0" stroke="#94ca4a"/>
<path d="M667.1 551.7h0M748.3 508h0M760.4 502.8h0" stroke="#77cc60"/>
<path d="M678.3 544.7h0M724.3 519h0M736.3 513.5h0" stroke="#5ccc76"/>
<path d="M689.4 537.7h0M712.3 524.6h0" stroke="#44ca8a"/>
<path d="M700.6 530.7h0" stroke="#34c79c"/>
<path d="M382 612h0M399.4 614.5h0M418 616h0" stroke="#f9fb15"/>
<path d="M434.8 617h0M633.9 566.3h0M822.6 447.2h0" stroke="#c8c129"/>
<path d="M453.7 617h0M577.5 600.6h0M588.9 593.9h0M600.2 587.1h0M611.4 580.2h0M855.3 424.8h0M866.2 417.4h0M877.4 410.4h0M888.6 403.3h0M899.7 396.3h0" stroke="#febe3c"/>
<path d="M471.5 616h0M489.4 614.5h0M525.8 609.8h0M544 607.4h0M560.8 604.2h0" stroke="#f9d62d"/>
<path d="M507.7 612h0" stroke="#feca33"/>
<path d="M622.7 573.3h0M844.4 432.3h0" stroke="#f1ba37"/>
<path d="M644.9 559.1h0" stroke="#afc637"/>
<path d="M656 551.9h0M781.6 480h0M791.3 471.1h0M800.8 462h0M811.6 454.4h0" stroke="#94ca4a"/>
<path d="M667.1 544.7h0M748.3 501h0M760.4 495.8h0M771 487.9h0" stroke="#77cc60"/>
<path d="M678.3 537.7h0M736.3 506.5h0" stroke="#5ccc76"/>
<path d="M689.4 530.7h0M712.3 517.6h0M724.3 512h0" stroke="#44ca8a"/>
<path d="M700.6 523.7h0" stroke="#34c79c"/>
<path d="M833.6 439.8h0" stroke="#debc2a"/>
<path d="M382 605h0" stroke="#f9fb15"/>
<path d="M434.8 610h0M633.9 559.3h0" stroke="#c8c129"/>
<path d="M453.7 610h0M577.5 593.6h0M588.9 586.9h0M600.2 580.1h0M611.4 573.2h0M855.3 417.8h0M866.2 410.4h0M877.4 403.4h0M888.6 396.3h0M899.7 389.3h0" stroke="#febe3c"/>
<path d="M471.5 609h0M489.4 607.5h0M507.7 605h0M525.8 602.8h0M544 600.4h0M560.8 597.2h0" stroke="#f9d62d"/>
<path d="M622.7 566.3h0M844.4 425.3h0" stroke="#f1ba37"/>
<path d="M644.9 552.1h0M822.6 440.2h0" stroke="#afc637"/>
<path d="M656 544.9h0M771 480.9h0M781.6 473h0M791.3 464.1h0M800.8 455h0M811.6 447.4h0" stroke="#94ca4a"/>
<path d="M667.1 537.7h0M748.3 494h0M760.4 488.8h0" stroke="#77cc60"/>
<path d="M678.3 530.7h0M736.3 499.5h0" stroke="#5ccc76"/>
<path d="M689.4 523.7h0M712.3 510.6h0M724.3 505h0" stroke="#44ca8a"/>
<path d="M700.6 516.7h0" stroke="#34c79c"/>
<path d="M833.6 432.8h0" stroke="#debc2a"/>
<path d="M434.8 603h0M633.9 552.3h0M833.6 425.8h0" stroke="#c8c129"/>
<path d="M453.7 603h0M577.5 586.6h0M588.9 579.9h0M600.2 573.1h0M611.4 566.2h0M855.3 410.8h0M866.2 403.4h0M877.4 396.4h0M888.6 389.3h0" stroke="#febe3c"/>
<path d="M471.5 602h0M489.4 600.5h0M507.7 598h0M525.8 595.8h0M544 593.4h0M560.8 590.2h0" stroke="#f9d62d"/>
<path d="M622.7 559.3h0M899.7 382.3h0" stroke="#f1ba37"/>
<path d="M644.9 545.1h0M822.6 433.2h0" stroke="#afc637"/>
<path d="M656 537.9h0M760.4 481.8h0M771 473.9h0M781.6 466h0M791.3 457.1h0M800.8 448h0M811.6 440.4h0" stroke="#94ca4a"/>
<path d="M667.1 530.7h0M748.3 487h0" stroke="#77cc60"/>
<path d="M678.3 523.7h0M736.3 492.5h0" stroke="#5ccc76"/>
<path d="M689.4 516.7h0M712.3 503.6h0M724.3 498h0" stroke="#44ca8a"/>
<path d="M700.6 509.7h0" stroke="#34c79c"/>
<path d="M844.4 418.3h0" stroke="#debc2a"/>
<path d="M434.8 596h0M633.9 545.3h0M844.4 411.3h0" stroke="#c8c129"/>
<path d="M453.7 596h0M588.9 572.9h0M600.2 566.1h0M611.4 559.2h0" stroke="#febe3c"/>
<path d="M471.5 595h0M489.4 593.5h0M507.7 591h0M525.8 588.8h0M544 586.4h0M560.8 583.2h0" stroke="#f9d62d"/>
<path d="M577.5 579.6h0" stroke="#f5e327"/>
<path d="M622.7 552.3h0" stroke="#f1ba37"/>
<path d="M644.9 538.1h0M833.6 418.8h0" stroke="#afc637"/>
<path d="M656 530.9h0M760.4 474.8h0M771 466.9h0M781.6 459h0" stroke="#94ca4a"/>
<path d="M667.1 523.7h0M748.3 480h0M791.3 450.1h0M800.8 441h0M822.6 426.2h0" stroke="#77cc60"/>
<path d="M678.3 516.7h0M736.3 485.5h0" stroke="#5ccc76"/>
<path d="M689.4 509.7h0M712.3 496.6h0M724.3 491h0M811.6 433.4h0" stroke="#44ca8a"/>
<path d="M700.6 502.7h0" stroke="#34c79c"/>
<path d="M855.3 403.8h0M866.2 396.4h0M877.4 389.4h0M888.6 382.3h0M899.7 375.3h0" stroke="#debc2a"/>
<path d="M434.8 589h0M633.9 538.3h0M855.3 396.8h0M866.2 389.4h0M877.4 382.4h0" stroke="#c8c129"/>
<path d="M453.7 589h0M588.9 565.9h0M600.2 559.1h0M611.4 552.2h0" stroke="#febe3c"/>
<path d="M471.5 588h0M489.4 586.5h0M507.7 584h0M525.8 581.8h0M544 579.4h0M560.8 576.2h0" stroke="#f9d62d"/>
<path d="M577.5 572.6h0" stroke="#f5e327"/>
<path d="M622.7 545.3h0" stroke="#f1ba37"/>
<path d="M644.9 531.1h0M844.4 404.3h0M888.6 375.3h0M899.7 368.3h0" stroke="#afc637"/>
<path d="M656 523.9h0M760.4 467.8h0M771 459.9h0" stroke="#94ca4a"/>
<path d="M667.1 516.7h0M748.3 473h0M781.6 452h0M791.3 443.1h0M833.6 411.8h0" stroke="#77cc60"/>
<path d="M678.3 509.7h0M724.3 484h0M736.3 478.5h0" stroke="#5ccc76"/>
<path d="M689.4 502.7h0M712.3 489.6h0M800.8 434h0M822.6 419.2h0" stroke="#44ca8a"/>
<path d="M700.6 495.7h0M811.6 426.4h0" stroke="#34c79c"/>
<path d="M434.8 582h0M633.9 531.3h0" stroke="#c8c129"/>
<path d="M453.7 582h0M588.9 558.9h0M600.2 552.1h0" stroke="#febe3c"/>
<path d="M471.5 581h0M489.4 579.5h0M507.7 577h0M525.8 574.8h0M544 572.4h0" stroke="#f9d62d"/>
<path d="M560.8 569.2h0" stroke="#feca33"/>
<path d="M577.5 565.6h0" stroke="#f5e327"/>
<path d="M611.4 545.2h0" stroke="#f1ba37"/>
<path d="M622.7 538.3h0" stroke="#debc2a"/>
<path d="M644.9 524.1h0M855.3 389.8h0" stroke="#afc637"/>
<path d="M656 516.9h0M760.4 460.8h0M866.2 382.4h0M877.4 375.4h0M888.6 368.3h0" stroke="#94ca4a"/>
<path d="M667.1 509.7h0M748.3 466h0M771 452.9h0M781.6 445h0M844.4 397.3h0M899.7 361.3h0" stroke="#77cc60"/>
<path d="M678.3 502.7h0M724.3 477h0M736.3 471.5h0" stroke="#5ccc76"/>
<path d="M689.4 495.7h0M712.3 482.6h0M791.3 436.1h0M833.6 404.8h0" stroke="#44ca8a"/>
<path d="M700.6 488.7h0M800.8 427h0M811.6 419.4h0M822.6 412.2h0" stroke="#34c79c"/>
<path d="M434.8 575h0M611.4 538.2h0M622.7 531.3h0" stroke="#c8c129"/>
<path d="M453.7 575h0M560.8 562.2h0M600.2 545.1h0" stroke="#f1ba37"/>
<path d="M471.5 574h0M489.4 572.5h0M507.7 570h0M525.8 567.8h0" stroke="#feca33"/>
<path d="M544 565.4h0M588.9 551.9h0" stroke="#febe3c"/>
<path d="M577.5 558.6h0" stroke="#f5e327"/>
<path d="M633.9 524.3h0M644.9 517.1h0" stroke="#afc637"/>
<path d="M656 509.9h0M760.4 453.8h0" stroke="#94ca4a"/>
<path d="M667.1 502.7h0M748.3 459h0M771 445.9h0" stroke="#77cc60"/>
<path d="M678.3 495.7h0M689.4 488.7h0M736.3 464.5h0M855.3 382.8h0M866.2 375.4h0M877.4 368.4h0" stroke="#5ccc76"/>
<path d="M700.6 481.7h0M712.3 475.6h0M724.3 470h0M781.6 438h0M844.4 390.3h0M888.6 361.3h0M899.7 354.3h0" stroke="#44ca8a"/>
<path d="M791.3 429.1h0M833.6 397.8h0" stroke="#34c79c"/>
<path d="M800.8 420h0M811.6 412.4h0M822.6 405.2h0" stroke="#28c2ab"/>
<path d="M382 563h0M453.7 568h0M600.2 538.1h0" stroke="#debc2a"/>
<path d="M434.8 568h0M560.8 555.2h0" stroke="#c8c129"/>
<path d="M471.5 567h0M489.4 565.5h0M507.7 563h0M525.8 560.8h0M588.9 544.9h0" stroke="#febe3c"/>
<path d="M544 558.4h0" stroke="#94ca4a"/>
<path d="M577.5 551.6h0" stroke="#f5e327"/>
<path d="M611.4 531.2h0M622.7 524.3h0M633.9 517.3h0M644.9 510.1h0M656 502.9h0M760.4 446.8h0" stroke="#77cc60"/>
<path d="M667.1 495.7h0M678.3 488.7h0M689.4 481.7h0M736.3 457.5h0M748.3 452h0" stroke="#5ccc76"/>
<path d="M700.6 474.7h0M712.3 468.6h0M724.3 463h0M771 438.9h0" stroke="#44ca8a"/>
<path d="M781.6 431h0" stroke="#34c79c"/>
<path d="M791.3 422.1h0M844.4 383.3h0M855.3 375.8h0M866.2 368.4h0M877.4 361.4h0M888.6 354.3h0M899.7 347.3h0" stroke="#28c2ab"/>
<path d="M800.8 413h0M811.6 405.4h0M822.6 398.2h0M833.6 390.8h0" stroke="#12beb9"/>
<path d="M382 556h0M453.7 561h0M471.5 560h0M489.4 558.5h0" stroke="#5ccc76"/>
<path d="M399.4 558.5h0M418 560h0M434.8 561h0M507.7 556h0" stroke="#afc637"/>
<path d="M525.8 553.8h0" stroke="#44ca8a"/>
<path d="M544 551.4h0M800.8 406h0M811.6 398.4h0M822.6 391.2h0M833.6 383.8h0M844.4 376.3h0M855.3 368.8h0M866.2 361.4h0M877.4 354.4h0M888.6 347.3h0M899.7 340.3h0" stroke="#01b9c6"/>
<path d="M560.8 548.2h0" stroke="#94ca4a"/>
<path d="M577.5 544.6h0" stroke="#febe3c"/>
<path d="M588.9 537.9h0" stroke="#debc2a"/>
<path d="M600.2 531.1h0" stroke="#77cc60"/>
<path d="M611.4 524.2h0M622.7 517.3h0M633.9 510.3h0M644.9 503.1h0M656 495.9h0M667.1 488.7h0M736.3 450.5h0M748.3 445h0M760.4 439.8h0" stroke="#34c79c"/>
<path d="M678.3 481.7h0M689.4 474.7h0M700.6 467.7h0M712.3 461.6h0M724.3 456h0M771 431.9h0" stroke="#28c2ab"/>
<path d="M781.6 424h0M791.3 415.1h0" stroke="#12beb9"/>
<path d="M382 549h0" stroke="#347afd"/>
<path d="M399.4 551.5h0M418 553h0" stroke="#2c90f0"/>
<path d="M434.8 554h0M600.2 524.1h0" stroke="#34c79c"/>
<path d="M453.7 554h0M507.7 549h0" stroke="#28c2ab"/>
<path d="M471.5 553h0M489.4 551.5h0M525.8 546.8h0" stroke="#12beb9"/>
<path d="M544 544.4h0M700.6 460.7h0M791.3 408.1h0M800.8 399h0M811.6 391.4h0M822.6 384.2h0M833.6 376.8h0M844.4 369.3h0M855.3 361.8h0M866.2 354.4h0M877.4 347.4h0M888.6 340.3h0M899.7 333.3h0" stroke="#0cb3d3"/>
<path d="M560.8 541.2h0" stroke="#5ccc76"/>
<path d="M577.5 537.6h0" stroke="#94ca4a"/>
<path d="M588.9 530.9h0" stroke="#77cc60"/>
<path d="M611.4 517.2h0M622.7 510.3h0M633.9 503.3h0M644.9 496.1h0M656 488.9h0M667.1 481.7h0M678.3 474.7h0M689.4 467.7h0M712.3 454.6h0M724.3 449h0M736.3 443.5h0M748.3 438h0M760.4 432.8h0M771 424.9h0M781.6 417h0" stroke="#01b9c6"/>
<path d="M382 542h0M399.4 544.5h0M418 546h0" stroke="#3f6efe"/>
<path d="M434.8 547h0M507.7 542h0M611.4 510.2h0M622.7 503.3h0M633.9 496.3h0M644.9 489.1h0M656 481.9h0M667.1 474.7h0M678.3 467.7h0M712.3 447.6h0M724.3 442h0M791.3 401.1h0M800.8 392h0M822.6 377.2h0M833.6 369.8h0M844.4 362.3h0M877.4 340.4h0M888.6 333.3h0M899.7 326.3h0" stroke="#2c90f0"/>
<path d="M453.7 547h0M471.5 546h0M489.4 544.5h0M525.8 539.8h0M544 537.4h0M689.4 460.7h0M700.6 453.7h0M811.6 384.4h0" stroke="#2e85f8"/>
<path d="M560.8 534.2h0" stroke="#1aacdd"/>
<path d="M577.5 530.6h0" stroke="#5ccc76"/>
<path d="M588.9 523.9h0" stroke="#44ca8a"/>
<path d="M600.2 517.1h0" stroke="#01b9c6"/>
<path d="M736.3 436.5h0M748.3 431h0M771 417.9h0M781.6 410h0M855.3 354.8h0M866.2 347.4h0" stroke="#269ae9"/>
<path d="M760.4 425.8h0" stroke="#21a3e3"/>
<path d="M382 535h0M399.4 537.5h0M418 539h0M434.8 540h0M453.7 540h0M471.5 539h0M489.4 537.5h0M507.7 535h0M525.8 532.8h0M544 530.4h0M560.8 527.2h0M577.5 523.6h0M588.9 516.9h0M600.2 510.1h0M611.4 503.2h0M622.7 496.3h0M633.9 489.3h0M644.9 482.1h0M656 474.9h0M667.1 467.7h0M678.3 460.7h0M689.4 453.7h0M700.6 446.7h0M712.3 440.6h0M724.3 435h0M736.3 429.5h0M748.3 424h0M760.4 418.8h0M771 410.9h0M781.6 403h0M791.3 394.1h0M800.8 385h0M811.6 377.4h0M822.6 370.2h0M833.6 362.8h0M844.4 355.3h0M855.3 347.8h0M866.2 340.4h0M877.4 333.4h0M888.6 326.3h0M899.7 319.3h0" stroke="#3e26a8"/>
<path d="M1164.5 639.5h0" stroke="#f9d62d"/>
<path d="M1164.5 637h0" stroke="#f9d62d"/>
<path d="M1164.5 630h0" stroke="#f9d62d"/>
<path d="M1164.5 623h0" stroke="#f9d62d"/>
<path d="M1164.5 616h0" stroke="#f9d62d"/>
<path d="M948.3 490.2h0M1026.5 530.2h0" stroke="#f9fb15"/>
<path d="M1136 583.5h0M1145 590h0M1152.5 596.5h0M1159 602.5h0M1169.5 614h0" stroke="#f9d62d"/>
<path d="M1164.5 609h0" stroke="#feca33"/>
<path d="M948.3 486.2h0M1107.8 565.2h0M1125.5 567h0" stroke="#f9fb15"/>
<path d="M1026.5 521.2h0" stroke="#febe3c"/>
<path d="M1064 537.5h0M1136 576.5h0M1145 583h0M1152.5 590h0M1159 596.5h0M1169.5 607h0M1174.6 613h0" stroke="#feca33"/>
<path d="M1164.5 602h0" stroke="#afc637"/>
<path d="M948.3 479.2h0M1026.5 514.2h0M1064 533h0M1136 569.5h0M1145 576h0M1152.5 583h0M1159 589.5h0M1169.5 600h0M1174.6 605h0" stroke="#febe3c"/>
<path d="M994 511h0M1091.5 556h0" stroke="#f9fb15"/>
<path d="M1008.5 513.2h0" stroke="#f9d62d"/>
<path d="M1038.7 521h0M1050.9 524.4h0" stroke="#feca33"/>
<path d="M1070.4 544.3h0" stroke="#f5e327"/>
<path d="M1107.8 558.2h0" stroke="#f1ba37"/>
<path d="M1125.5 563h0" stroke="#f6ef20"/>
<path d="M1164.5 595h0" stroke="#34c79c"/>
<path d="M948.3 472.2h0M1026.5 507.2h0" stroke="#94ca4a"/>
<path d="M958 481.6h0M994 503h0M1050.9 519.4h0M1070.4 537.3h0" stroke="#febe3c"/>
<path d="M969.5 492h0M981 498.6h0" stroke="#f9fb15"/>
<path d="M1008.5 507.2h0" stroke="#feca33"/>
<path d="M1038.7 513h0M1091.5 549.5h0M1107.8 551.2h0M1125.5 556h0" stroke="#debc2a"/>
<path d="M1064 526h0" stroke="#c8c129"/>
<path d="M1075.3 550.7h0" stroke="#f9d62d"/>
<path d="M1136 562.5h0M1145 569h0M1152.5 576h0M1159 582.5h0M1169.5 593h0M1174.6 598h0" stroke="#34c79c"/>
<path d="M1164.5 588h0" stroke="#0cb3d3"/>
<path d="M948.3 465.2h0" stroke="#44ca8a"/>
<path d="M958 476.6h0M994 496h0M1008.5 500.2h0" stroke="#febe3c"/>
<path d="M969.5 484h0" stroke="#f6ef20"/>
<path d="M981 489.6h0" stroke="#f9d62d"/>
<path d="M1026.5 500.2h0M1038.7 506h0" stroke="#94ca4a"/>
<path d="M1050.9 512.4h0M1070.4 530.3h0" stroke="#afc637"/>
<path d="M1064 519h0M1091.5 542.5h0" stroke="#77cc60"/>
<path d="M1075.3 541.7h0" stroke="#c8c129"/>
<path d="M1107.8 544.2h0" stroke="#5ccc76"/>
<path d="M1125.5 549h0" stroke="#debc2a"/>
<path d="M1136 555.5h0M1145 562h0M1152.5 569h0M1159 575.5h0M1169.5 586h0M1174.6 591h0" stroke="#12beb9"/>
<path d="M1164.5 581h0" stroke="#0cb3d3"/>
<path d="M948.3 458.2h0" stroke="#44ca8a"/>
<path d="M958 469.6h0" stroke="#debc2a"/>
<path d="M969.5 477h0M981 482.6h0M994 489h0M1008.5 493.2h0" stroke="#febe3c"/>
<path d="M1026.5 493.2h0M1038.7 499h0M1050.9 505.4h0M1064 512h0" stroke="#94ca4a"/>
<path d="M1070.4 523.3h0M1075.3 534.7h0" stroke="#77cc60"/>
<path d="M1091.5 535.5h0M1107.8 537.2h0" stroke="#28c2ab"/>
<path d="M1125.5 542h0M1136 548.5h0M1145 555h0M1152.5 562h0M1159 568.5h0M1169.5 579h0M1174.6 584h0" stroke="#12beb9"/>
<path d="M1164.5 574h0" stroke="#01b9c6"/>
<path d="M948.3 451.2h0" stroke="#44ca8a"/>
<path d="M958 462.6h0" stroke="#afc637"/>
<path d="M969.5 470h0M981 475.6h0M1008.5 486.2h0" stroke="#febe3c"/>
<path d="M994 482h0" stroke="#f5e327"/>
<path d="M1026.5 486.2h0M1038.7 492h0M1050.9 498.4h0M1064 505h0" stroke="#94ca4a"/>
<path d="M1070.4 516.3h0" stroke="#77cc60"/>
<path d="M1075.3 527.7h0" stroke="#5ccc76"/>
<path d="M1091.5 528.5h0M1107.8 530.2h0M1164.5 567h0" stroke="#28c2ab"/>
<path d="M1125.5 535h0" stroke="#12beb9"/>
<path d="M1136 541.5h0M1145 548h0M1152.5 555h0M1159 561.5h0M1169.5 572h0M1174.6 577h0" stroke="#34c79c"/>
<path d="M948.3 444.2h0" stroke="#5ccc76"/>
<path d="M958 455.6h0M1026.5 479.2h0" stroke="#afc637"/>
<path d="M969.5 463h0M981 468.6h0M1008.5 479.2h0" stroke="#febe3c"/>
<path d="M994 475h0" stroke="#f9fb15"/>
<path d="M1038.7 485h0M1050.9 491.4h0M1064 498h0M1070.4 509.3h0" stroke="#94ca4a"/>
<path d="M1075.3 520.7h0" stroke="#77cc60"/>
<path d="M1091.5 521.5h0M1107.8 523.2h0" stroke="#28c2ab"/>
<path d="M1125.5 528h0" stroke="#12beb9"/>
<path d="M1136 534.5h0M1145 541h0M1152.5 548h0M1159 554.5h0M1169.5 565h0M1174.6 570h0" stroke="#44ca8a"/>
<path d="M1164.5 560h0" stroke="#34c79c"/>
<path d="M948.3 437.2h0M958 448.6h0M1050.9 484.4h0M1064 491h0" stroke="#afc637"/>
<path d="M969.5 456h0M1026.5 472.2h0" stroke="#febe3c"/>
<path d="M981 461.6h0M994 468h0" stroke="#f9fb15"/>
<path d="M1008.5 472.2h0" stroke="#f5e327"/>
<path d="M1038.7 478h0" stroke="#c8c129"/>
<path d="M1070.4 502.3h0M1075.3 513.7h0" stroke="#94ca4a"/>
<path d="M1091.5 514.5h0M1107.8 516.2h0" stroke="#28c2ab"/>
<path d="M1125.5 521h0M1136 527.5h0M1145 534h0M1152.5 541h0M1159 547.5h0M1164.5 553h0M1169.5 558h0M1174.6 563h0" stroke="#44ca8a"/>
<path d="M948.3 430.2h0" stroke="#afc637"/>
<path d="M958 441.6h0" stroke="#debc2a"/>
<path d="M969.5 449h0M1026.5 465.2h0M1038.7 471h0" stroke="#febe3c"/>
<path d="M981 454.6h0M994 461h0M1008.5 465.2h0" stroke="#f9fb15"/>
<path d="M1050.9 477.4h0M1064 484h0" stroke="#f1ba37"/>
<path d="M1070.4 495.3h0" stroke="#c8c129"/>
<path d="M1075.3 506.7h0" stroke="#94ca4a"/>
<path d="M1091.5 507.5h0M1107.8 509.2h0" stroke="#28c2ab"/>
<path d="M1125.5 514h0" stroke="#44ca8a"/>
<path d="M1136 520.5h0M1145 527h0M1152.5 534h0M1159 540.5h0M1164.5 546h0M1169.5 551h0M1174.6 556h0" stroke="#77cc60"/>
<path d="M948.3 423.2h0M1136 513.5h0M1145 520h0M1152.5 527h0M1159 533.5h0M1164.5 539h0M1169.5 544h0M1174.6 549h0" stroke="#afc637"/>
<path d="M958 434.6h0M1026.5 458.2h0M1038.7 464h0M1050.9 470.4h0M1064 477h0M1070.4 488.3h0" stroke="#febe3c"/>
<path d="M969.5 442h0" stroke="#feca33"/>
<path d="M981 447.6h0M994 454h0M1008.5 458.2h0" stroke="#f9fb15"/>
<path d="M1075.3 499.7h0" stroke="#c8c129"/>
<path d="M1091.5 500.5h0M1107.8 502.2h0" stroke="#28c2ab"/>
<path d="M1125.5 507h0" stroke="#44ca8a"/>
<path d="M948.3 416.2h0" stroke="#c8c129"/>
<path d="M958 427.6h0M1026.5 451.2h0M1038.7 457h0M1050.9 463.4h0M1064 470h0M1070.4 481.3h0M1075.3 492.7h0" stroke="#febe3c"/>
<path d="M969.5 435h0M981 440.6h0M994 447h0M1008.5 451.2h0" stroke="#f9fb15"/>
<path d="M1091.5 493.5h0M1107.8 495.2h0" stroke="#28c2ab"/>
<path d="M1125.5 500h0" stroke="#44ca8a"/>
<path d="M1136 506.5h0M1145 513h0M1152.5 520h0M1159 526.5h0M1164.5 532h0M1169.5 537h0M1174.6 542h0" stroke="#debc2a"/>
<path d="M948.3 409.2h0M1107.8 488.2h0" stroke="#c8c129"/>
<path d="M958 420.6h0M1026.5 444.2h0M1038.7 450h0M1050.9 456.4h0M1070.4 474.3h0M1075.3 485.7h0M1136 499.5h0M1145 506h0M1152.5 513h0M1159 519.5h0M1164.5 525h0M1169.5 530h0M1174.6 535h0" stroke="#febe3c"/>
<path d="M969.5 428h0M981 433.6h0M994 440h0M1008.5 444.2h0" stroke="#f9fb15"/>
<path d="M1064 463h0" stroke="#f1ba37"/>
<path d="M1091.5 486.5h0" stroke="#28c2ab"/>
<path d="M1125.5 493h0" stroke="#afc637"/>
<path d="M948.3 402.2h0" stroke="#afc637"/>
<path d="M958 413.6h0M1026.5 437.2h0M1075.3 478.7h0M1091.5 479.5h0M1107.8 481.2h0M1136 492.5h0M1145 499h0M1152.5 506h0M1159 512.5h0M1164.5 518h0M1169.5 523h0M1174.6 528h0" stroke="#febe3c"/>
<path d="M969.5 421h0M981 426.6h0M994 433h0M1008.5 437.2h0" stroke="#f9fb15"/>
<path d="M1038.7 443h0M1050.9 449.4h0M1070.4 467.3h0" stroke="#f1ba37"/>
<path d="M1064 456h0" stroke="#c8c129"/>
<path d="M1125.5 486h0" stroke="#f9d62d"/>
<path d="M948.3 395.2h0M1070.4 460.3h0" stroke="#afc637"/>
<path d="M958 406.6h0M1091.5 472.5h0M1107.8 474.2h0M1136 485.5h0M1145 492h0M1152.5 499h0M1159 505.5h0M1164.5 511h0M1169.5 516h0M1174.6 521h0" stroke="#febe3c"/>
<path d="M969.5 414h0M981 419.6h0M994 426h0M1008.5 430.2h0" stroke="#f9fb15"/>
<path d="M1026.5 430.2h0M1075.3 471.7h0" stroke="#debc2a"/>
<path d="M1038.7 436h0M1050.9 442.4h0" stroke="#94ca4a"/>
<path d="M1064 449h0" stroke="#77cc60"/>
<path d="M1125.5 479h0" stroke="#f9d62d"/>
<path d="M948.3 388.2h0" stroke="#77cc60"/>
<path d="M958 399.6h0M1008.5 423.2h0M1107.8 467.2h0M1136 478.5h0M1145 485h0M1152.5 492h0M1159 498.5h0M1164.5 504h0M1169.5 509h0M1174.6 514h0" stroke="#febe3c"/>
<path d="M969.5 407h0" stroke="#f6ef20"/>
<path d="M981 412.6h0M994 419h0M1125.5 472h0" stroke="#f9d62d"/>
<path d="M1026.5 423.2h0M1075.3 464.7h0" stroke="#94ca4a"/>
<path d="M1038.7 429h0M1050.9 435.4h0M1064 442h0" stroke="#34c79c"/>
<path d="M1070.4 453.3h0" stroke="#44ca8a"/>
<path d="M1091.5 465.5h0" stroke="#f9fb15"/>
<path d="M948.3 381.2h0M1026.5 416.2h0M1075.3 457.7h0" stroke="#44ca8a"/>
<path d="M958 392.6h0M1107.8 460.2h0" stroke="#febe3c"/>
<path d="M969.5 400h0M1136 471.5h0M1145 478h0M1152.5 485h0M1159 491.5h0M1164.5 497h0M1169.5 502h0M1174.6 507h0" stroke="#f1ba37"/>
<path d="M981 405.6h0" stroke="#debc2a"/>
<path d="M994 412h0" stroke="#afc637"/>
<path d="M1008.5 416.2h0" stroke="#77cc60"/>
<path d="M1038.7 422h0M1050.9 428.4h0M1064 435h0" stroke="#12beb9"/>
<path d="M1070.4 446.3h0" stroke="#28c2ab"/>
<path d="M1091.5 458.5h0" stroke="#f9fb15"/>
<path d="M1125.5 465h0" stroke="#f9d62d"/>
<path d="M948.3 374.2h0M1075.3 450.7h0" stroke="#12beb9"/>
<path d="M958 385.6h0" stroke="#f1ba37"/>
<path d="M969.5 393h0" stroke="#94ca4a"/>
<path d="M981 398.6h0" stroke="#77cc60"/>
<path d="M994 405h0" stroke="#44ca8a"/>
<path d="M1008.5 409.2h0" stroke="#28c2ab"/>
<path d="M1026.5 409.2h0M1038.7 415h0M1050.9 421.4h0M1064 428h0M1070.4 439.3h0" stroke="#01b9c6"/>
<path d="M1091.5 451.5h0" stroke="#f9fb15"/>
<path d="M1107.8 453.2h0" stroke="#debc2a"/>
<path d="M1125.5 458h0" stroke="#f9d62d"/>
<path d="M1136 464.5h0M1145 471h0M1152.5 478h0M1159 484.5h0M1164.5 490h0M1169.5 495h0M1174.6 500h0" stroke="#afc637"/>
<path d="M948.3 367.2h0M1008.5 402.2h0M1038.7 408h0M1050.9 414.4h0M1064 421h0" stroke="#21a3e3"/>
<path d="M958 378.6h0M1107.8 446.2h0" stroke="#5ccc76"/>
<path d="M969.5 386h0" stroke="#28c2ab"/>
<path d="M981 391.6h0" stroke="#12beb9"/>
<path d="M994 398h0" stroke="#01b9c6"/>
<path d="M1026.5 402.2h0" stroke="#269ae9"/>
<path d="M1070.4 432.3h0M1075.3 443.7h0" stroke="#0cb3d3"/>
<path d="M1091.5 444.5h0" stroke="#94ca4a"/>
<path d="M1125.5 451h0" stroke="#34c79c"/>
<path d="M1136 457.5h0M1145 464h0M1152.5 471h0M1159 477.5h0M1164.5 483h0M1169.5 488h0M1174.6 493h0" stroke="#44ca8a"/>
<path d="M948.3 360.2h0M1008.5 395.2h0M1026.5 395.2h0M1038.7 401h0M1050.9 407.4h0M1064 414h0" stroke="#347afd"/>
<path d="M958 371.6h0" stroke="#269ae9"/>
<path d="M969.5 379h0M981 384.6h0" stroke="#2c90f0"/>
<path d="M994 391h0M1070.4 425.3h0M1075.3 436.7h0" stroke="#2e85f8"/>
<path d="M1091.5 437.5h0" stroke="#94ca4a"/>
<path d="M1107.8 439.2h0" stroke="#21a3e3"/>
<path d="M1125.5 444h0" stroke="#12beb9"/>
<path d="M1136 450.5h0M1145 457h0M1152.5 464h0M1159 470.5h0M1164.5 476h0M1169.5 481h0M1174.6 486h0" stroke="#0cb3d3"/>
<path d="M948.3 353.2h0M958 364.6h0M969.5 372h0M981 377.6h0M994 384h0M1008.5 388.2h0M1026.5 388.2h0M1038.7 394h0M1050.9 400.4h0M1064 407h0M1070.4 418.3h0M1075.3 429.7h0M1091.5 430.5h0M1107.8 432.2h0M1125.5 437h0M1136 443.5h0M1145 450h0M1152.5 457h0M1159 463.5h0M1164.5 469h0M1169.5 474h0M1174.6 479h0" stroke="#3e26a8"/>
</g>
<g stroke="#000" stroke-width="2.2" fill="none" stroke-linejoin="round">
<path d="M536.5 240L614.5 276.5"/>
<path d="M703.5 326.2L717 334.5"/>
<path d="M937 424L951.5 441"/>
<path d="M1023.2 481.8L1046.2 490L1062 489.5L1079.2 486.3L1097.6 487.3L1117.8 498.3L1134.4 515.8L1147.2 541.5L1174.8 566.3"/>
</g>
<circle cx="662.5" cy="300" r="16" fill="#fff"/>
<text x="662.5" y="310.6" font-size="30.5" text-anchor="middle">H</text>
<circle cx="987" cy="451" r="16" fill="#fff"/>
<text x="987" y="461.6" font-size="30.5" text-anchor="middle">H</text>
<circle cx="764.6" cy="486" r="16" fill="#fff"/>
<text x="764.6" y="496.6" font-size="30.5" text-anchor="middle">L</text>
<circle cx="512" cy="607" r="16" fill="#fff"/>
<text x="512" y="617.6" font-size="30.5" text-anchor="middle">H</text>
<text x="17" y="51.5" font-size="44">a)</text>
<text x="455.2" y="118.8" font-size="38.5" font-weight="bold">P1</text>
<text x="343.6" y="518" font-size="38.5" font-weight="bold">P2</text>
<text x="146" y="194.5" font-size="38" text-anchor="end">0</text>
<text x="146" y="251.9" font-size="38" text-anchor="end">100</text>
<text x="146" y="309.3" font-size="38" text-anchor="end">200</text>
<text x="146" y="366.7" font-size="38" text-anchor="end">300</text>
<text transform="translate(51,284) rotate(-90)" font-size="38.5" font-weight="bold" text-anchor="middle">Depth (m)</text>
<text x="91.5" y="493.9" font-size="38">7.078</text>
<text x="152.5" y="612.7" font-size="38">7.0775</text>
<text x="243.2" y="730.6" font-size="38">7.077</text>
<text x="288.8" y="847.7" font-size="38">7.07765</text>
<text x="33.4" y="579.3" font-size="33.5">x10</text>
<text x="93" y="563" font-size="34">6</text>
<text x="52" y="673.7" font-size="38.5" font-weight="bold">Easting</text>
<text x="52" y="720.8" font-size="38.5" font-weight="bold">UTM (m)</text>
<text x="585" y="855.9" font-size="38">5.665</text>
<text x="800" y="805.2" font-size="38">5.67</text>
<text x="1014.7" y="755.6" font-size="38">5.675</text>
<text x="1088.2" y="801.5" font-size="33.5">x10</text>
<text x="1148" y="783" font-size="32">5</text>
<text x="826.2" y="846.6" font-size="38.5" font-weight="bold">Northing</text>
<text x="826.2" y="893.4" font-size="38.5" font-weight="bold">UTM (m)</text>
<text x="49.6" y="889.2" font-size="31">L - Low shear wave zone extending to depth</text>
<text x="49.6" y="932" font-size="31">H - High shear wave zones extending to depth</text>
<text x="118" y="971.8" font-size="31">Velocity reversal zone</text>
<line x1="25" y1="962.4" x2="103.7" y2="962.4" stroke="#000" stroke-width="2"/>
<g fill="none" stroke-width="15.4" stroke-linecap="round">
<path d="M142 1078.4h0" stroke="#4744e9"/>
<path d="M142 1083.4h0" stroke="#484cef"/>
<path d="M142 1088.4h0" stroke="#2f82fa"/>
<path d="M142 1093.4V1138.3" stroke="#2cc4a6"/>
<path d="M142 1143.3V1148.3" stroke="#34c79c"/>
<path d="M142 1153.3h0" stroke="#3dc990"/>
<path d="M142 1158.2h0" stroke="#4bcb84"/>
<path d="M142 1163.2h0" stroke="#5ccc76"/>
<path d="M142 1168.2h0" stroke="#6dcd67"/>
<path d="M142 1173.2h0" stroke="#81cc59"/>
<path d="M142 1178.2h0" stroke="#a6c83c"/>
<path d="M142 1183.2h0" stroke="#b8c431"/>
<path d="M142 1188.2h0" stroke="#c8c129"/>
<path d="M142 1193.2h0" stroke="#d7be28"/>
<path d="M142 1198.2h0" stroke="#f1ba37"/>
<path d="M142 1203.2V1243.1" stroke="#fbbc3d"/>
<path d="M142 1248.1h0" stroke="#f1ba37"/>
<path d="M142 1253.1h0" stroke="#e5bb2d"/>
<path d="M142 1258h0" stroke="#d7be28"/>
<path d="M142 1263h0" stroke="#f1ba37"/>
<path d="M142 1268h0" stroke="#f7db2b"/>
<path d="M142 1273V1278" stroke="#f9fb15"/>
<path d="M165.7 1078.4h0" stroke="#4744e9"/>
<path d="M165.7 1083.4h0" stroke="#484cef"/>
<path d="M165.7 1088.4h0" stroke="#3c72ff"/>
<path d="M165.7 1093.4h0" stroke="#1da9e0"/>
<path d="M165.7 1098.5h0" stroke="#0cb3d3"/>
<path d="M165.7 1103.5V1108.5" stroke="#02b7cb"/>
<path d="M165.7 1113.5h0" stroke="#03bbc2"/>
<path d="M165.7 1118.5h0" stroke="#12beb9"/>
<path d="M165.7 1123.5h0" stroke="#22c1b0"/>
<path d="M165.7 1128.6V1133.6" stroke="#2cc4a6"/>
<path d="M165.7 1138.6h0" stroke="#34c79c"/>
<path d="M165.7 1143.6V1148.6" stroke="#3dc990"/>
<path d="M165.7 1153.6h0" stroke="#4bcb84"/>
<path d="M165.7 1158.6h0" stroke="#6dcd67"/>
<path d="M165.7 1163.7h0" stroke="#81cc59"/>
<path d="M165.7 1168.7h0" stroke="#94ca4a"/>
<path d="M165.7 1173.7h0" stroke="#a6c83c"/>
<path d="M165.7 1178.7h0" stroke="#c8c129"/>
<path d="M165.7 1183.7h0" stroke="#d7be28"/>
<path d="M165.7 1188.7h0" stroke="#e5bb2d"/>
<path d="M165.7 1193.7h0" stroke="#f1ba37"/>
<path d="M165.7 1198.8V1238.9" stroke="#fbbc3d"/>
<path d="M165.7 1243.9h0" stroke="#f1ba37"/>
<path d="M165.7 1248.9V1253.9" stroke="#e5bb2d"/>
<path d="M165.7 1258.9h0" stroke="#d7be28"/>
<path d="M165.7 1264h0" stroke="#fec239"/>
<path d="M165.7 1269h0" stroke="#f5eb23"/>
<path d="M165.7 1274V1279" stroke="#f9fb15"/>
<path d="M187.9 1078.4h0" stroke="#4744e9"/>
<path d="M187.9 1083.4h0" stroke="#484cef"/>
<path d="M187.9 1088.3h0" stroke="#4562fc"/>
<path d="M187.9 1093.3h0" stroke="#2f82fa"/>
<path d="M187.9 1098.3h0" stroke="#259de7"/>
<path d="M187.9 1103.2h0" stroke="#1da9e0"/>
<path d="M187.9 1108.2h0" stroke="#02b7cb"/>
<path d="M187.9 1113.2h0" stroke="#12beb9"/>
<path d="M187.9 1118.1h0" stroke="#22c1b0"/>
<path d="M187.9 1123.1V1128.1" stroke="#2cc4a6"/>
<path d="M187.9 1133h0" stroke="#34c79c"/>
<path d="M187.9 1138h0" stroke="#3dc990"/>
<path d="M187.9 1143h0" stroke="#4bcb84"/>
<path d="M187.9 1147.9h0" stroke="#5ccc76"/>
<path d="M187.9 1152.9h0" stroke="#6dcd67"/>
<path d="M187.9 1157.9h0" stroke="#81cc59"/>
<path d="M187.9 1162.8h0" stroke="#94ca4a"/>
<path d="M187.9 1167.8h0" stroke="#b8c431"/>
<path d="M187.9 1172.8h0" stroke="#c8c129"/>
<path d="M187.9 1177.7h0" stroke="#d7be28"/>
<path d="M187.9 1182.7h0" stroke="#e5bb2d"/>
<path d="M187.9 1187.6V1232.3" stroke="#fbbc3d"/>
<path d="M187.9 1237.3V1242.3" stroke="#f1ba37"/>
<path d="M187.9 1247.2V1252.2" stroke="#e5bb2d"/>
<path d="M187.9 1257.2h0" stroke="#d7be28"/>
<path d="M187.9 1262.1h0" stroke="#fec239"/>
<path d="M187.9 1267.1h0" stroke="#f5e327"/>
<path d="M187.9 1272.1V1282" stroke="#f9fb15"/>
<path d="M210.6 1078.4h0" stroke="#4744e9"/>
<path d="M210.6 1083.4h0" stroke="#484cef"/>
<path d="M210.6 1088.5h0" stroke="#4562fc"/>
<path d="M210.6 1093.5h0" stroke="#2f82fa"/>
<path d="M210.6 1098.6h0" stroke="#259de7"/>
<path d="M210.6 1103.6h0" stroke="#17aeda"/>
<path d="M210.6 1108.6h0" stroke="#12beb9"/>
<path d="M210.6 1113.7h0" stroke="#22c1b0"/>
<path d="M210.6 1118.7h0" stroke="#2cc4a6"/>
<path d="M210.6 1123.8h0" stroke="#34c79c"/>
<path d="M210.6 1128.8h0" stroke="#3dc990"/>
<path d="M210.6 1133.8h0" stroke="#4bcb84"/>
<path d="M210.6 1138.9h0" stroke="#6dcd67"/>
<path d="M210.6 1143.9h0" stroke="#81cc59"/>
<path d="M210.6 1149h0" stroke="#a6c83c"/>
<path d="M210.6 1154h0" stroke="#b8c431"/>
<path d="M210.6 1159h0" stroke="#c8c129"/>
<path d="M210.6 1164.1h0" stroke="#e5bb2d"/>
<path d="M210.6 1169.1V1174.2" stroke="#f1ba37"/>
<path d="M210.6 1179.2V1189.3" stroke="#fbbc3d"/>
<path d="M210.6 1194.3V1199.4" stroke="#f1ba37"/>
<path d="M210.6 1204.4V1209.4" stroke="#e5bb2d"/>
<path d="M210.6 1214.5h0" stroke="#d7be28"/>
<path d="M210.6 1219.5V1224.6" stroke="#c8c129"/>
<path d="M210.6 1229.6h0" stroke="#b8c431"/>
<path d="M210.6 1234.6h0" stroke="#a6c83c"/>
<path d="M210.6 1239.7V1244.7" stroke="#94ca4a"/>
<path d="M210.6 1249.8h0" stroke="#b8c431"/>
<path d="M210.6 1254.8h0" stroke="#c8c129"/>
<path d="M210.6 1259.8h0" stroke="#d7be28"/>
<path d="M210.6 1264.9h0" stroke="#f1ba37"/>
<path d="M210.6 1269.9h0" stroke="#fec239"/>
<path d="M210.6 1275h0" stroke="#feca33"/>
<path d="M210.6 1280h0" stroke="#f7db2b"/>
<path d="M233.8 1078.4h0" stroke="#4744e9"/>
<path d="M233.8 1083.3h0" stroke="#484cef"/>
<path d="M233.8 1088.3h0" stroke="#4562fc"/>
<path d="M233.8 1093.2h0" stroke="#347afd"/>
<path d="M233.8 1098.2h0" stroke="#2797eb"/>
<path d="M233.8 1103.1h0" stroke="#17aeda"/>
<path d="M233.8 1108.1h0" stroke="#12beb9"/>
<path d="M233.8 1113h0" stroke="#34c79c"/>
<path d="M233.8 1117.9h0" stroke="#4bcb84"/>
<path d="M233.8 1122.9h0" stroke="#5ccc76"/>
<path d="M233.8 1127.8h0" stroke="#81cc59"/>
<path d="M233.8 1132.8h0" stroke="#94ca4a"/>
<path d="M233.8 1137.7h0" stroke="#b8c431"/>
<path d="M233.8 1142.6h0" stroke="#c8c129"/>
<path d="M233.8 1147.6h0" stroke="#e5bb2d"/>
<path d="M233.8 1152.5h0" stroke="#f1ba37"/>
<path d="M233.8 1157.5V1182.2" stroke="#fbbc3d"/>
<path d="M233.8 1187.1h0" stroke="#f1ba37"/>
<path d="M233.8 1192.1h0" stroke="#d7be28"/>
<path d="M233.8 1197h0" stroke="#b8c431"/>
<path d="M233.8 1201.9V1206.9" stroke="#94ca4a"/>
<path d="M233.8 1211.8h0" stroke="#81cc59"/>
<path d="M233.8 1216.8h0" stroke="#6dcd67"/>
<path d="M233.8 1221.7h0" stroke="#5ccc76"/>
<path d="M233.8 1226.6V1251.4" stroke="#4bcb84"/>
<path d="M233.8 1256.3h0" stroke="#5ccc76"/>
<path d="M233.8 1261.2h0" stroke="#b8c431"/>
<path d="M233.8 1266.2V1281" stroke="#fbbc3d"/>
<path d="M257.2 1078.4h0" stroke="#463de0"/>
<path d="M257.2 1083.4h0" stroke="#484cef"/>
<path d="M257.2 1088.3h0" stroke="#4562fc"/>
<path d="M257.2 1093.3h0" stroke="#2f82fa"/>
<path d="M257.2 1098.3h0" stroke="#17aeda"/>
<path d="M257.2 1103.2h0" stroke="#4bcb84"/>
<path d="M257.2 1108.2h0" stroke="#6dcd67"/>
<path d="M257.2 1113.1h0" stroke="#a6c83c"/>
<path d="M257.2 1118.1h0" stroke="#f1ba37"/>
<path d="M257.2 1123.1V1167.7" stroke="#fbbc3d"/>
<path d="M257.2 1172.7h0" stroke="#f1ba37"/>
<path d="M257.2 1177.7h0" stroke="#e5bb2d"/>
<path d="M257.2 1182.6h0" stroke="#d7be28"/>
<path d="M257.2 1187.6h0" stroke="#c8c129"/>
<path d="M257.2 1192.6h0" stroke="#a6c83c"/>
<path d="M257.2 1197.5h0" stroke="#94ca4a"/>
<path d="M257.2 1202.5h0" stroke="#81cc59"/>
<path d="M257.2 1207.5h0" stroke="#6dcd67"/>
<path d="M257.2 1212.4h0" stroke="#5ccc76"/>
<path d="M257.2 1217.4V1257.1" stroke="#4bcb84"/>
<path d="M257.2 1262.1h0" stroke="#81cc59"/>
<path d="M257.2 1267h0" stroke="#c8c129"/>
<path d="M257.2 1272V1276.9" stroke="#d7be28"/>
<path d="M257.2 1281.9h0" stroke="#feca33"/>
<path d="M257.2 1286.9V1296.8" stroke="#f9fb15"/>
<path d="M279.4 1078.4h0" stroke="#463de0"/>
<path d="M279.4 1083.4h0" stroke="#484cef"/>
<path d="M279.4 1088.4h0" stroke="#4562fc"/>
<path d="M279.4 1093.4h0" stroke="#2f82fa"/>
<path d="M279.4 1098.3h0" stroke="#1da9e0"/>
<path d="M279.4 1103.3h0" stroke="#2cc4a6"/>
<path d="M279.4 1108.3h0" stroke="#5ccc76"/>
<path d="M279.4 1113.3h0" stroke="#94ca4a"/>
<path d="M279.4 1118.3h0" stroke="#b8c431"/>
<path d="M279.4 1123.3h0" stroke="#d7be28"/>
<path d="M279.4 1128.3h0" stroke="#f1ba37"/>
<path d="M279.4 1133.3h0" stroke="#fbbc3d"/>
<path d="M279.4 1138.2V1158.2" stroke="#fec239"/>
<path d="M279.4 1163.2h0" stroke="#feca33"/>
<path d="M279.4 1168.2h0" stroke="#fec239"/>
<path d="M279.4 1173.1h0" stroke="#fbbc3d"/>
<path d="M279.4 1178.1h0" stroke="#f1ba37"/>
<path d="M279.4 1183.1h0" stroke="#e5bb2d"/>
<path d="M279.4 1188.1h0" stroke="#d7be28"/>
<path d="M279.4 1193.1h0" stroke="#b8c431"/>
<path d="M279.4 1198.1h0" stroke="#a6c83c"/>
<path d="M279.4 1203.1h0" stroke="#94ca4a"/>
<path d="M279.4 1208h0" stroke="#81cc59"/>
<path d="M279.4 1213h0" stroke="#6dcd67"/>
<path d="M279.4 1218h0" stroke="#5ccc76"/>
<path d="M279.4 1223V1257.9" stroke="#4bcb84"/>
<path d="M279.4 1262.9h0" stroke="#81cc59"/>
<path d="M279.4 1267.9V1277.9" stroke="#d7be28"/>
<path d="M279.4 1282.8h0" stroke="#f7db2b"/>
<path d="M279.4 1287.8V1297.8" stroke="#f9fb15"/>
<path d="M304 1078.4h0" stroke="#463de0"/>
<path d="M304 1083.4h0" stroke="#484cef"/>
<path d="M304 1088.3h0" stroke="#4562fc"/>
<path d="M304 1093.3h0" stroke="#347afd"/>
<path d="M304 1098.3h0" stroke="#259de7"/>
<path d="M304 1103.2h0" stroke="#12beb9"/>
<path d="M304 1108.2h0" stroke="#4bcb84"/>
<path d="M304 1113.1h0" stroke="#6dcd67"/>
<path d="M304 1118.1h0" stroke="#a6c83c"/>
<path d="M304 1123.1h0" stroke="#b8c431"/>
<path d="M304 1128h0" stroke="#d7be28"/>
<path d="M304 1133h0" stroke="#e5bb2d"/>
<path d="M304 1137.9h0" stroke="#f1ba37"/>
<path d="M304 1142.9h0" stroke="#fbbc3d"/>
<path d="M304 1147.9h0" stroke="#fec239"/>
<path d="M304 1152.8V1157.8" stroke="#feca33"/>
<path d="M304 1162.8V1167.7" stroke="#fbd22f"/>
<path d="M304 1172.7h0" stroke="#feca33"/>
<path d="M304 1177.6h0" stroke="#fec239"/>
<path d="M304 1182.6h0" stroke="#f1ba37"/>
<path d="M304 1187.6h0" stroke="#e5bb2d"/>
<path d="M304 1192.5h0" stroke="#c8c129"/>
<path d="M304 1197.5h0" stroke="#b8c431"/>
<path d="M304 1202.5h0" stroke="#94ca4a"/>
<path d="M304 1207.4h0" stroke="#81cc59"/>
<path d="M304 1212.4h0" stroke="#6dcd67"/>
<path d="M304 1217.3h0" stroke="#5ccc76"/>
<path d="M304 1222.3V1257" stroke="#4bcb84"/>
<path d="M304 1262h0" stroke="#81cc59"/>
<path d="M304 1267h0" stroke="#c8c129"/>
<path d="M304 1271.9V1276.9" stroke="#d7be28"/>
<path d="M304 1281.9h0" stroke="#feca33"/>
<path d="M304 1286.8V1301.7" stroke="#f9fb15"/>
<path d="M324.7 1078.4h0" stroke="#463de0"/>
<path d="M324.7 1083.4h0" stroke="#484cef"/>
<path d="M324.7 1088.4h0" stroke="#4562fc"/>
<path d="M324.7 1093.4h0" stroke="#347afd"/>
<path d="M324.7 1098.5h0" stroke="#2797eb"/>
<path d="M324.7 1103.5h0" stroke="#02b7cb"/>
<path d="M324.7 1108.5h0" stroke="#34c79c"/>
<path d="M324.7 1113.5h0" stroke="#3dc990"/>
<path d="M324.7 1118.5h0" stroke="#5ccc76"/>
<path d="M324.7 1123.5h0" stroke="#6dcd67"/>
<path d="M324.7 1128.6h0" stroke="#81cc59"/>
<path d="M324.7 1133.6h0" stroke="#94ca4a"/>
<path d="M324.7 1138.6h0" stroke="#b8c431"/>
<path d="M324.7 1143.6h0" stroke="#e5bb2d"/>
<path d="M324.7 1148.6h0" stroke="#f1ba37"/>
<path d="M324.7 1153.6h0" stroke="#fbbc3d"/>
<path d="M324.7 1158.6h0" stroke="#fec239"/>
<path d="M324.7 1163.7V1168.7" stroke="#feca33"/>
<path d="M324.7 1173.7h0" stroke="#fec239"/>
<path d="M324.7 1178.7V1183.7" stroke="#fbbc3d"/>
<path d="M324.7 1188.7h0" stroke="#e5bb2d"/>
<path d="M324.7 1193.8h0" stroke="#d7be28"/>
<path d="M324.7 1198.8h0" stroke="#b8c431"/>
<path d="M324.7 1203.8h0" stroke="#a6c83c"/>
<path d="M324.7 1208.8h0" stroke="#81cc59"/>
<path d="M324.7 1213.8h0" stroke="#6dcd67"/>
<path d="M324.7 1218.8h0" stroke="#5ccc76"/>
<path d="M324.7 1223.8V1253.9" stroke="#4bcb84"/>
<path d="M324.7 1259h0" stroke="#6dcd67"/>
<path d="M324.7 1264h0" stroke="#b8c431"/>
<path d="M324.7 1269V1274" stroke="#d7be28"/>
<path d="M346.4 1078.4h0" stroke="#463de0"/>
<path d="M346.4 1083.4h0" stroke="#484cef"/>
<path d="M346.4 1088.3h0" stroke="#4562fc"/>
<path d="M346.4 1093.3h0" stroke="#347afd"/>
<path d="M346.4 1098.3h0" stroke="#2c90f0"/>
<path d="M346.4 1103.2h0" stroke="#1da9e0"/>
<path d="M346.4 1108.2h0" stroke="#12beb9"/>
<path d="M346.4 1113.2h0" stroke="#22c1b0"/>
<path d="M346.4 1118.1h0" stroke="#2cc4a6"/>
<path d="M346.4 1123.1h0" stroke="#34c79c"/>
<path d="M346.4 1128.1V1133" stroke="#3dc990"/>
<path d="M346.4 1138h0" stroke="#6dcd67"/>
<path d="M346.4 1143h0" stroke="#a6c83c"/>
<path d="M346.4 1147.9h0" stroke="#d7be28"/>
<path d="M346.4 1152.9h0" stroke="#e5bb2d"/>
<path d="M346.4 1157.9h0" stroke="#f1ba37"/>
<path d="M346.4 1162.8V1187.6" stroke="#fbbc3d"/>
<path d="M346.4 1192.6h0" stroke="#e5bb2d"/>
<path d="M346.4 1197.6h0" stroke="#d7be28"/>
<path d="M346.4 1202.5h0" stroke="#b8c431"/>
<path d="M346.4 1207.5h0" stroke="#94ca4a"/>
<path d="M346.4 1212.5h0" stroke="#81cc59"/>
<path d="M346.4 1217.4h0" stroke="#6dcd67"/>
<path d="M346.4 1222.4h0" stroke="#5ccc76"/>
<path d="M346.4 1227.4V1252.2" stroke="#4bcb84"/>
<path d="M346.4 1257.2h0" stroke="#81cc59"/>
<path d="M346.4 1262.1h0" stroke="#b8c431"/>
<path d="M346.4 1267.1V1282" stroke="#d7be28"/>
<path d="M368.4 1078.4h0" stroke="#463de0"/>
<path d="M368.4 1083.4h0" stroke="#484cef"/>
<path d="M368.4 1088.4h0" stroke="#4562fc"/>
<path d="M368.4 1093.4h0" stroke="#347afd"/>
<path d="M368.4 1098.5h0" stroke="#2797eb"/>
<path d="M368.4 1103.5h0" stroke="#03bbc2"/>
<path d="M368.4 1108.5h0" stroke="#4bcb84"/>
<path d="M368.4 1113.5h0" stroke="#6dcd67"/>
<path d="M368.4 1118.5V1123.5" stroke="#a6c83c"/>
<path d="M368.4 1128.6h0" stroke="#b8c431"/>
<path d="M368.4 1133.6h0" stroke="#c8c129"/>
<path d="M368.4 1138.6h0" stroke="#d7be28"/>
<path d="M368.4 1143.6h0" stroke="#e5bb2d"/>
<path d="M368.4 1148.6h0" stroke="#f1ba37"/>
<path d="M368.4 1153.6V1203.8" stroke="#fbbc3d"/>
<path d="M368.4 1208.8V1213.8" stroke="#f1ba37"/>
<path d="M368.4 1218.8h0" stroke="#e5bb2d"/>
<path d="M368.4 1223.8V1248.9" stroke="#d7be28"/>
<path d="M368.4 1253.9h0" stroke="#f1ba37"/>
<path d="M368.4 1259h0" stroke="#fec239"/>
<path d="M368.4 1264V1274" stroke="#fbd22f"/>
<path d="M391.7 1078.4h0" stroke="#4744e9"/>
<path d="M391.7 1083.3h0" stroke="#484cef"/>
<path d="M391.7 1088.3h0" stroke="#4562fc"/>
<path d="M391.7 1093.2h0" stroke="#3c72ff"/>
<path d="M391.7 1098.2h0" stroke="#2d89f5"/>
<path d="M391.7 1103.1h0" stroke="#1da9e0"/>
<path d="M391.7 1108.1h0" stroke="#22c1b0"/>
<path d="M391.7 1113h0" stroke="#4bcb84"/>
<path d="M391.7 1117.9h0" stroke="#6dcd67"/>
<path d="M391.7 1122.9h0" stroke="#94ca4a"/>
<path d="M391.7 1127.8h0" stroke="#b8c431"/>
<path d="M391.7 1132.8h0" stroke="#c8c129"/>
<path d="M391.7 1137.7h0" stroke="#e5bb2d"/>
<path d="M391.7 1142.7h0" stroke="#fbbc3d"/>
<path d="M391.7 1147.6h0" stroke="#fec239"/>
<path d="M391.7 1152.5h0" stroke="#feca33"/>
<path d="M391.7 1157.5h0" stroke="#fbd22f"/>
<path d="M391.7 1162.4h0" stroke="#f5e327"/>
<path d="M391.7 1167.4h0" stroke="#f5eb23"/>
<path d="M391.7 1172.3V1221.8" stroke="#f7f31d"/>
<path d="M391.7 1226.7h0" stroke="#f5eb23"/>
<path d="M391.7 1231.6h0" stroke="#f5e327"/>
<path d="M391.7 1236.6h0" stroke="#f7db2b"/>
<path d="M391.7 1241.5h0" stroke="#fbd22f"/>
<path d="M391.7 1246.5h0" stroke="#feca33"/>
<path d="M391.7 1251.4h0" stroke="#fec239"/>
<path d="M391.7 1256.4V1261.3" stroke="#fbbc3d"/>
<path d="M414.7 1078.4h0" stroke="#4744e9"/>
<path d="M414.7 1083.3h0" stroke="#484cef"/>
<path d="M414.7 1088.3h0" stroke="#4562fc"/>
<path d="M414.7 1093.2h0" stroke="#3c72ff"/>
<path d="M414.7 1098.2h0" stroke="#2d89f5"/>
<path d="M414.7 1103.1h0" stroke="#21a3e3"/>
<path d="M414.7 1108.1h0" stroke="#02b7cb"/>
<path d="M414.7 1113h0" stroke="#34c79c"/>
<path d="M414.7 1117.9h0" stroke="#4bcb84"/>
<path d="M414.7 1122.9h0" stroke="#6dcd67"/>
<path d="M414.7 1127.8h0" stroke="#94ca4a"/>
<path d="M414.7 1132.8h0" stroke="#a6c83c"/>
<path d="M414.7 1137.7h0" stroke="#c8c129"/>
<path d="M414.7 1142.7h0" stroke="#d7be28"/>
<path d="M414.7 1147.6h0" stroke="#f1ba37"/>
<path d="M414.7 1152.5h0" stroke="#fec239"/>
<path d="M414.7 1157.5h0" stroke="#fbd22f"/>
<path d="M414.7 1162.4h0" stroke="#f5e327"/>
<path d="M414.7 1167.4h0" stroke="#f5eb23"/>
<path d="M414.7 1172.3h0" stroke="#f7f31d"/>
<path d="M414.7 1177.3V1216.8" stroke="#f9fb15"/>
<path d="M414.7 1221.8h0" stroke="#f7f31d"/>
<path d="M414.7 1226.7h0" stroke="#f5eb23"/>
<path d="M414.7 1231.6h0" stroke="#f5e327"/>
<path d="M414.7 1236.6h0" stroke="#f7db2b"/>
<path d="M414.7 1241.5h0" stroke="#fbd22f"/>
<path d="M414.7 1246.5V1261.3" stroke="#feca33"/>
<path d="M436.9 1078.4h0" stroke="#4744e9"/>
<path d="M436.9 1083.4h0" stroke="#484cef"/>
<path d="M436.9 1088.3h0" stroke="#4562fc"/>
<path d="M436.9 1093.3h0" stroke="#3c72ff"/>
<path d="M436.9 1098.3h0" stroke="#2f82fa"/>
<path d="M436.9 1103.3h0" stroke="#259de7"/>
<path d="M436.9 1108.2h0" stroke="#17aeda"/>
<path d="M436.9 1113.2h0" stroke="#12beb9"/>
<path d="M436.9 1118.2h0" stroke="#2cc4a6"/>
<path d="M436.9 1123.1h0" stroke="#3dc990"/>
<path d="M436.9 1128.1h0" stroke="#5ccc76"/>
<path d="M436.9 1133.1h0" stroke="#81cc59"/>
<path d="M436.9 1138h0" stroke="#a6c83c"/>
<path d="M436.9 1143h0" stroke="#c8c129"/>
<path d="M436.9 1148h0" stroke="#e5bb2d"/>
<path d="M436.9 1153h0" stroke="#fbbc3d"/>
<path d="M436.9 1157.9h0" stroke="#fbd22f"/>
<path d="M436.9 1162.9h0" stroke="#f5e327"/>
<path d="M436.9 1167.9h0" stroke="#f5eb23"/>
<path d="M436.9 1172.8h0" stroke="#f7f31d"/>
<path d="M436.9 1177.8V1217.6" stroke="#f9fb15"/>
<path d="M436.9 1222.5h0" stroke="#f7f31d"/>
<path d="M436.9 1227.5h0" stroke="#f5eb23"/>
<path d="M436.9 1232.5h0" stroke="#f5e327"/>
<path d="M436.9 1237.4V1262.3" stroke="#fbd22f"/>
<path d="M459 1078.4h0" stroke="#4744e9"/>
<path d="M459 1083.4h0" stroke="#484cef"/>
<path d="M459 1088.3h0" stroke="#4562fc"/>
<path d="M459 1093.3h0" stroke="#3c72ff"/>
<path d="M459 1098.3h0" stroke="#2f82fa"/>
<path d="M459 1103.3h0" stroke="#2c90f0"/>
<path d="M459 1108.2h0" stroke="#259de7"/>
<path d="M459 1113.2h0" stroke="#1da9e0"/>
<path d="M459 1118.2h0" stroke="#17aeda"/>
<path d="M459 1123.1h0" stroke="#02b7cb"/>
<path d="M459 1128.1h0" stroke="#12beb9"/>
<path d="M459 1133.1h0" stroke="#2cc4a6"/>
<path d="M459 1138h0" stroke="#3dc990"/>
<path d="M459 1143h0" stroke="#5ccc76"/>
<path d="M459 1148h0" stroke="#a6c83c"/>
<path d="M459 1153h0" stroke="#d7be28"/>
<path d="M459 1157.9h0" stroke="#f1ba37"/>
<path d="M459 1162.9h0" stroke="#fbbc3d"/>
<path d="M459 1167.9h0" stroke="#fec239"/>
<path d="M459 1172.8h0" stroke="#feca33"/>
<path d="M459 1177.8h0" stroke="#fbd22f"/>
<path d="M459 1182.8h0" stroke="#f7db2b"/>
<path d="M459 1187.7h0" stroke="#f5e327"/>
<path d="M459 1192.7h0" stroke="#f5eb23"/>
<path d="M459 1197.7h0" stroke="#f7f31d"/>
<path d="M459 1202.7V1237.4" stroke="#f9fb15"/>
<path d="M459 1242.4h0" stroke="#f5eb23"/>
<path d="M459 1247.4h0" stroke="#f5e327"/>
<path d="M459 1252.4V1262.3" stroke="#fbd22f"/>
<path d="M483.3 1078.4h0" stroke="#4744e9"/>
<path d="M483.3 1083.4h0" stroke="#484cef"/>
<path d="M483.3 1088.4h0" stroke="#4562fc"/>
<path d="M483.3 1093.4h0" stroke="#3c72ff"/>
<path d="M483.3 1098.5h0" stroke="#2f82fa"/>
<path d="M483.3 1103.5V1118.5" stroke="#2d89f5"/>
<path d="M483.3 1123.5h0" stroke="#2797eb"/>
<path d="M483.3 1128.6h0" stroke="#17aeda"/>
<path d="M483.3 1133.6h0" stroke="#03bbc2"/>
<path d="M483.3 1138.6h0" stroke="#34c79c"/>
<path d="M483.3 1143.6h0" stroke="#5ccc76"/>
<path d="M483.3 1148.6h0" stroke="#a6c83c"/>
<path d="M483.3 1153.6h0" stroke="#d7be28"/>
<path d="M483.3 1158.6h0" stroke="#fbbc3d"/>
<path d="M483.3 1163.7h0" stroke="#feca33"/>
<path d="M483.3 1168.7V1203.8" stroke="#fbd22f"/>
<path d="M483.3 1208.8V1213.8" stroke="#feca33"/>
<path d="M483.3 1218.8V1223.8" stroke="#fec239"/>
<path d="M483.3 1228.9V1248.9" stroke="#fbbc3d"/>
<path d="M483.3 1253.9h0" stroke="#fec239"/>
<path d="M483.3 1258.9h0" stroke="#f7db2b"/>
<path d="M483.3 1264V1279" stroke="#f7f31d"/>
<path d="M504 1078.4h0" stroke="#4744e9"/>
<path d="M504 1083.4h0" stroke="#484cef"/>
<path d="M504 1088.4h0" stroke="#4562fc"/>
<path d="M504 1093.4h0" stroke="#2f82fa"/>
<path d="M504 1098.5h0" stroke="#259de7"/>
<path d="M504 1103.5V1118.5" stroke="#17aeda"/>
<path d="M504 1123.5h0" stroke="#0cb3d3"/>
<path d="M504 1128.5h0" stroke="#03bbc2"/>
<path d="M504 1133.6h0" stroke="#22c1b0"/>
<path d="M504 1138.6h0" stroke="#34c79c"/>
<path d="M504 1143.6h0" stroke="#4bcb84"/>
<path d="M504 1148.6h0" stroke="#a6c83c"/>
<path d="M504 1153.6h0" stroke="#d7be28"/>
<path d="M504 1158.6h0" stroke="#f1ba37"/>
<path d="M504 1163.6h0" stroke="#fec239"/>
<path d="M504 1168.7V1173.7" stroke="#fbd22f"/>
<path d="M504 1178.7V1183.7" stroke="#feca33"/>
<path d="M504 1188.7V1198.8" stroke="#fec239"/>
<path d="M504 1203.8h0" stroke="#fbbc3d"/>
<path d="M504 1208.8h0" stroke="#f1ba37"/>
<path d="M504 1213.8V1218.8" stroke="#e5bb2d"/>
<path d="M504 1223.8h0" stroke="#d7be28"/>
<path d="M504 1228.8h0" stroke="#c8c129"/>
<path d="M504 1233.9h0" stroke="#b8c431"/>
<path d="M504 1238.9h0" stroke="#a6c83c"/>
<path d="M504 1243.9h0" stroke="#94ca4a"/>
<path d="M504 1248.9h0" stroke="#81cc59"/>
<path d="M504 1253.9h0" stroke="#6dcd67"/>
<path d="M504 1258.9h0" stroke="#5ccc76"/>
<path d="M504 1263.9h0" stroke="#6dcd67"/>
<path d="M504 1269h0" stroke="#f1ba37"/>
<path d="M504 1274V1284" stroke="#fbbc3d"/>
<path d="M527.2 1078.4h0" stroke="#4744e9"/>
<path d="M527.2 1083.4h0" stroke="#484cef"/>
<path d="M527.2 1088.4h0" stroke="#4562fc"/>
<path d="M527.2 1093.4h0" stroke="#2f82fa"/>
<path d="M527.2 1098.5h0" stroke="#259de7"/>
<path d="M527.2 1103.5h0" stroke="#17aeda"/>
<path d="M527.2 1108.5h0" stroke="#0cb3d3"/>
<path d="M527.2 1113.5h0" stroke="#02b7cb"/>
<path d="M527.2 1118.5h0" stroke="#03bbc2"/>
<path d="M527.2 1123.5h0" stroke="#22c1b0"/>
<path d="M527.2 1128.6h0" stroke="#34c79c"/>
<path d="M527.2 1133.6h0" stroke="#4bcb84"/>
<path d="M527.2 1138.6h0" stroke="#6dcd67"/>
<path d="M527.2 1143.6h0" stroke="#94ca4a"/>
<path d="M527.2 1148.6h0" stroke="#b8c431"/>
<path d="M527.2 1153.6h0" stroke="#d7be28"/>
<path d="M527.2 1158.6h0" stroke="#e5bb2d"/>
<path d="M527.2 1163.7h0" stroke="#f1ba37"/>
<path d="M527.2 1168.7V1228.9" stroke="#fbbc3d"/>
<path d="M527.2 1233.9V1238.9" stroke="#f1ba37"/>
<path d="M527.2 1243.9h0" stroke="#e5bb2d"/>
<path d="M527.2 1248.9V1258.9" stroke="#d7be28"/>
<path d="M527.2 1264h0" stroke="#e5bb2d"/>
<path d="M527.2 1269h0" stroke="#fec239"/>
<path d="M527.2 1274V1279" stroke="#fbd22f"/>
<path d="M550.5 1078.4h0" stroke="#4744e9"/>
<path d="M550.5 1083.3h0" stroke="#484cef"/>
<path d="M550.5 1088.3h0" stroke="#4562fc"/>
<path d="M550.5 1093.2h0" stroke="#2f82fa"/>
<path d="M550.5 1098.2h0" stroke="#259de7"/>
<path d="M550.5 1103.1h0" stroke="#17aeda"/>
<path d="M550.5 1108h0" stroke="#0cb3d3"/>
<path d="M550.5 1113h0" stroke="#02b7cb"/>
<path d="M550.5 1117.9h0" stroke="#03bbc2"/>
<path d="M550.5 1122.9h0" stroke="#12beb9"/>
<path d="M550.5 1127.8h0" stroke="#22c1b0"/>
<path d="M550.5 1132.7h0" stroke="#34c79c"/>
<path d="M550.5 1137.7h0" stroke="#3dc990"/>
<path d="M550.5 1142.6h0" stroke="#4bcb84"/>
<path d="M550.5 1147.6h0" stroke="#6dcd67"/>
<path d="M550.5 1152.5h0" stroke="#94ca4a"/>
<path d="M550.5 1157.4h0" stroke="#a6c83c"/>
<path d="M550.5 1162.4h0" stroke="#c8c129"/>
<path d="M550.5 1167.3h0" stroke="#d7be28"/>
<path d="M550.5 1172.3h0" stroke="#e5bb2d"/>
<path d="M550.5 1177.2V1226.6" stroke="#f1ba37"/>
<path d="M550.5 1231.5V1241.4" stroke="#e5bb2d"/>
<path d="M550.5 1246.4h0" stroke="#d7be28"/>
<path d="M550.5 1251.3h0" stroke="#e5bb2d"/>
<path d="M550.5 1256.2h0" stroke="#f1ba37"/>
<path d="M550.5 1261.2h0" stroke="#fbbc3d"/>
<path d="M550.5 1266.1h0" stroke="#feca33"/>
<path d="M550.5 1271.1V1276" stroke="#f5e327"/>
<path d="M573.5 1078.4h0" stroke="#4744e9"/>
<path d="M573.5 1083.4h0" stroke="#484cef"/>
<path d="M573.5 1088.4h0" stroke="#4562fc"/>
<path d="M573.5 1093.4h0" stroke="#2f82fa"/>
<path d="M573.5 1098.5h0" stroke="#259de7"/>
<path d="M573.5 1103.5h0" stroke="#17aeda"/>
<path d="M573.5 1108.5h0" stroke="#0cb3d3"/>
<path d="M573.5 1113.5h0" stroke="#02b7cb"/>
<path d="M573.5 1118.5h0" stroke="#03bbc2"/>
<path d="M573.5 1123.5h0" stroke="#12beb9"/>
<path d="M573.5 1128.6V1133.6" stroke="#22c1b0"/>
<path d="M573.5 1138.6h0" stroke="#2cc4a6"/>
<path d="M573.5 1143.6h0" stroke="#34c79c"/>
<path d="M573.5 1148.6h0" stroke="#3dc990"/>
<path d="M573.5 1153.6h0" stroke="#4bcb84"/>
<path d="M573.5 1158.6h0" stroke="#6dcd67"/>
<path d="M573.5 1163.7h0" stroke="#94ca4a"/>
<path d="M573.5 1168.7h0" stroke="#a6c83c"/>
<path d="M573.5 1173.7h0" stroke="#c8c129"/>
<path d="M573.5 1178.7V1243.9" stroke="#d7be28"/>
<path d="M573.5 1248.9h0" stroke="#e5bb2d"/>
<path d="M573.5 1253.9h0" stroke="#fbbc3d"/>
<path d="M573.5 1258.9h0" stroke="#feca33"/>
<path d="M573.5 1264h0" stroke="#f7db2b"/>
<path d="M573.5 1269h0" stroke="#f5eb23"/>
<path d="M573.5 1274V1279" stroke="#f7f31d"/>
<path d="M597.1 1078.4h0" stroke="#4744e9"/>
<path d="M597.1 1083.4h0" stroke="#484cef"/>
<path d="M597.1 1088.3h0" stroke="#4562fc"/>
<path d="M597.1 1093.3h0" stroke="#2f82fa"/>
<path d="M597.1 1098.3h0" stroke="#259de7"/>
<path d="M597.1 1103.2h0" stroke="#17aeda"/>
<path d="M597.1 1108.2h0" stroke="#0cb3d3"/>
<path d="M597.1 1113.2h0" stroke="#02b7cb"/>
<path d="M597.1 1118.1h0" stroke="#03bbc2"/>
<path d="M597.1 1123.1h0" stroke="#12beb9"/>
<path d="M597.1 1128.1h0" stroke="#22c1b0"/>
<path d="M597.1 1133V1138" stroke="#2cc4a6"/>
<path d="M597.1 1143h0" stroke="#34c79c"/>
<path d="M597.1 1147.9h0" stroke="#3dc990"/>
<path d="M597.1 1152.9h0" stroke="#4bcb84"/>
<path d="M597.1 1157.9h0" stroke="#6dcd67"/>
<path d="M597.1 1162.8h0" stroke="#81cc59"/>
<path d="M597.1 1167.8h0" stroke="#94ca4a"/>
<path d="M597.1 1172.8h0" stroke="#b8c431"/>
<path d="M597.1 1177.7h0" stroke="#c8c129"/>
<path d="M597.1 1182.7V1247.2" stroke="#d7be28"/>
<path d="M597.1 1252.2h0" stroke="#f1ba37"/>
<path d="M597.1 1257.2h0" stroke="#feca33"/>
<path d="M597.1 1262.1h0" stroke="#f7db2b"/>
<path d="M597.1 1267.1h0" stroke="#f5eb23"/>
<path d="M597.1 1272.1V1282" stroke="#f9fb15"/>
<path d="M617.8 1078.4h0" stroke="#4744e9"/>
<path d="M617.8 1083.4h0" stroke="#484cef"/>
<path d="M617.8 1088.3h0" stroke="#4562fc"/>
<path d="M617.8 1093.3h0" stroke="#2f82fa"/>
<path d="M617.8 1098.2h0" stroke="#259de7"/>
<path d="M617.8 1103.2h0" stroke="#17aeda"/>
<path d="M617.8 1108.1h0" stroke="#0cb3d3"/>
<path d="M617.8 1113.1h0" stroke="#02b7cb"/>
<path d="M617.8 1118h0" stroke="#03bbc2"/>
<path d="M617.8 1123h0" stroke="#12beb9"/>
<path d="M617.8 1127.9h0" stroke="#22c1b0"/>
<path d="M617.8 1132.9h0" stroke="#2cc4a6"/>
<path d="M617.8 1137.8V1142.8" stroke="#34c79c"/>
<path d="M617.8 1147.7h0" stroke="#3dc990"/>
<path d="M617.8 1152.7h0" stroke="#4bcb84"/>
<path d="M617.8 1157.6h0" stroke="#5ccc76"/>
<path d="M617.8 1162.6h0" stroke="#81cc59"/>
<path d="M617.8 1167.5h0" stroke="#94ca4a"/>
<path d="M617.8 1172.5h0" stroke="#a6c83c"/>
<path d="M617.8 1177.4h0" stroke="#b8c431"/>
<path d="M617.8 1182.4h0" stroke="#c8c129"/>
<path d="M617.8 1187.3V1246.7" stroke="#d7be28"/>
<path d="M617.8 1251.7h0" stroke="#f1ba37"/>
<path d="M617.8 1256.6h0" stroke="#feca33"/>
<path d="M617.8 1261.6h0" stroke="#f7db2b"/>
<path d="M617.8 1266.5h0" stroke="#f5eb23"/>
<path d="M617.8 1271.5h0" stroke="#f7f31d"/>
<path d="M617.8 1276.4V1281.4" stroke="#f9fb15"/>
<path d="M637.5 1078.4h0" stroke="#463de0"/>
<path d="M637.5 1083.3h0" stroke="#484cef"/>
<path d="M637.5 1088.3h0" stroke="#4562fc"/>
<path d="M637.5 1093.2h0" stroke="#347afd"/>
<path d="M637.5 1098.2h0" stroke="#2c90f0"/>
<path d="M637.5 1103.1h0" stroke="#21a3e3"/>
<path d="M637.5 1108.1h0" stroke="#17aeda"/>
<path d="M637.5 1113h0" stroke="#02b7cb"/>
<path d="M637.5 1117.9h0" stroke="#12beb9"/>
<path d="M637.5 1122.9h0" stroke="#22c1b0"/>
<path d="M637.5 1127.8h0" stroke="#2cc4a6"/>
<path d="M637.5 1132.8V1137.7" stroke="#34c79c"/>
<path d="M637.5 1142.6h0" stroke="#3dc990"/>
<path d="M637.5 1147.6h0" stroke="#4bcb84"/>
<path d="M637.5 1152.5h0" stroke="#6dcd67"/>
<path d="M637.5 1157.5h0" stroke="#81cc59"/>
<path d="M637.5 1162.4h0" stroke="#94ca4a"/>
<path d="M637.5 1167.3V1172.3" stroke="#a6c83c"/>
<path d="M637.5 1177.2V1187.1" stroke="#b8c431"/>
<path d="M637.5 1192.1V1246.4" stroke="#c8c129"/>
<path d="M637.5 1251.4h0" stroke="#d7be28"/>
<path d="M637.5 1256.3h0" stroke="#fec239"/>
<path d="M637.5 1261.2h0" stroke="#fbd22f"/>
<path d="M637.5 1266.2h0" stroke="#f7db2b"/>
<path d="M637.5 1271.1h0" stroke="#f5e327"/>
<path d="M637.5 1276.1V1281" stroke="#f5eb23"/>
<path d="M659.5 1078.4h0" stroke="#463de0"/>
<path d="M659.5 1083.4h0" stroke="#484cef"/>
<path d="M659.5 1088.3h0" stroke="#4562fc"/>
<path d="M659.5 1093.3h0" stroke="#3c72ff"/>
<path d="M659.5 1098.2h0" stroke="#2f82fa"/>
<path d="M659.5 1103.2h0" stroke="#2797eb"/>
<path d="M659.5 1108.1h0" stroke="#17aeda"/>
<path d="M659.5 1113.1h0" stroke="#03bbc2"/>
<path d="M659.5 1118h0" stroke="#22c1b0"/>
<path d="M659.5 1123h0" stroke="#2cc4a6"/>
<path d="M659.5 1127.9h0" stroke="#34c79c"/>
<path d="M659.5 1132.9V1137.8" stroke="#3dc990"/>
<path d="M659.5 1142.8h0" stroke="#5ccc76"/>
<path d="M659.5 1147.7h0" stroke="#6dcd67"/>
<path d="M659.5 1152.7h0" stroke="#81cc59"/>
<path d="M659.5 1157.6h0" stroke="#94ca4a"/>
<path d="M659.5 1162.6V1197.2" stroke="#a6c83c"/>
<path d="M659.5 1202.2V1251.7" stroke="#b8c431"/>
<path d="M659.5 1256.6h0" stroke="#fbbc3d"/>
<path d="M659.5 1261.6V1281.4" stroke="#fbd22f"/>
<path d="M683.7 1078.4h0" stroke="#463de0"/>
<path d="M683.7 1083.4h0" stroke="#484cef"/>
<path d="M683.7 1088.5h0" stroke="#4562fc"/>
<path d="M683.7 1093.5h0" stroke="#3c72ff"/>
<path d="M683.7 1098.6h0" stroke="#2d89f5"/>
<path d="M683.7 1103.6h0" stroke="#21a3e3"/>
<path d="M683.7 1108.6h0" stroke="#03bbc2"/>
<path d="M683.7 1113.7h0" stroke="#34c79c"/>
<path d="M683.7 1118.7h0" stroke="#3dc990"/>
<path d="M683.7 1123.8h0" stroke="#5ccc76"/>
<path d="M683.7 1128.8h0" stroke="#6dcd67"/>
<path d="M683.7 1133.8h0" stroke="#81cc59"/>
<path d="M683.7 1138.9h0" stroke="#94ca4a"/>
<path d="M683.7 1143.9V1149" stroke="#a6c83c"/>
<path d="M683.7 1154V1199.4" stroke="#b8c431"/>
<path d="M683.7 1204.4V1249.8" stroke="#a6c83c"/>
<path d="M683.7 1254.8h0" stroke="#d7be28"/>
<path d="M683.7 1259.8h0" stroke="#feca33"/>
<path d="M683.7 1264.9V1280" stroke="#fbd22f"/>
<path d="M704.4 1078.4h0" stroke="#463de0"/>
<path d="M704.4 1083.4h0" stroke="#484cef"/>
<path d="M704.4 1088.4h0" stroke="#4562fc"/>
<path d="M704.4 1093.4h0" stroke="#3c72ff"/>
<path d="M704.4 1098.4h0" stroke="#2d89f5"/>
<path d="M704.4 1103.4h0" stroke="#17aeda"/>
<path d="M704.4 1108.3h0" stroke="#34c79c"/>
<path d="M704.4 1113.3h0" stroke="#5ccc76"/>
<path d="M704.4 1118.3h0" stroke="#81cc59"/>
<path d="M704.4 1123.3V1133.3" stroke="#a6c83c"/>
<path d="M704.4 1138.3V1143.3" stroke="#b8c431"/>
<path d="M704.4 1148.3V1178.2" stroke="#c8c129"/>
<path d="M704.4 1183.2V1198.2" stroke="#b8c431"/>
<path d="M704.4 1203.2V1248.1" stroke="#a6c83c"/>
<path d="M704.4 1253.1h0" stroke="#b8c431"/>
<path d="M704.4 1258h0" stroke="#fbbc3d"/>
<path d="M704.4 1263V1278" stroke="#fbd22f"/>
<path d="M728.4 1078.4h0" stroke="#463de0"/>
<path d="M728.4 1083.4h0" stroke="#484cef"/>
<path d="M728.4 1088.3h0" stroke="#4562fc"/>
<path d="M728.4 1093.3h0" stroke="#3c72ff"/>
<path d="M728.4 1098.3h0" stroke="#2d89f5"/>
<path d="M728.4 1103.2h0" stroke="#1da9e0"/>
<path d="M728.4 1108.2h0" stroke="#12beb9"/>
<path d="M728.4 1113.2h0" stroke="#34c79c"/>
<path d="M728.4 1118.1h0" stroke="#4bcb84"/>
<path d="M728.4 1123.1h0" stroke="#6dcd67"/>
<path d="M728.4 1128.1h0" stroke="#81cc59"/>
<path d="M728.4 1133V1138" stroke="#94ca4a"/>
<path d="M728.4 1142.9h0" stroke="#a6c83c"/>
<path d="M728.4 1147.9V1182.7" stroke="#b8c431"/>
<path d="M728.4 1187.6V1252.2" stroke="#a6c83c"/>
<path d="M728.4 1257.1h0" stroke="#f1ba37"/>
<path d="M728.4 1262.1V1277" stroke="#feca33"/>
<path d="M750.7 1078.4h0" stroke="#463de0"/>
<path d="M750.7 1083.4h0" stroke="#484cef"/>
<path d="M750.7 1088.4h0" stroke="#4562fc"/>
<path d="M750.7 1093.4h0" stroke="#3c72ff"/>
<path d="M750.7 1098.4h0" stroke="#2d89f5"/>
<path d="M750.7 1103.4h0" stroke="#21a3e3"/>
<path d="M750.7 1108.3h0" stroke="#02b7cb"/>
<path d="M750.7 1113.3h0" stroke="#22c1b0"/>
<path d="M750.7 1118.3h0" stroke="#34c79c"/>
<path d="M750.7 1123.3h0" stroke="#4bcb84"/>
<path d="M750.7 1128.3h0" stroke="#5ccc76"/>
<path d="M750.7 1133.3h0" stroke="#6dcd67"/>
<path d="M750.7 1138.3h0" stroke="#81cc59"/>
<path d="M750.7 1143.3h0" stroke="#94ca4a"/>
<path d="M750.7 1148.3V1248.1" stroke="#a6c83c"/>
<path d="M750.7 1253.1h0" stroke="#b8c431"/>
<path d="M750.7 1258h0" stroke="#e5bb2d"/>
<path d="M750.7 1263V1278" stroke="#fbbc3d"/>
<path d="M772.3 1078.4h0" stroke="#463de0"/>
<path d="M772.3 1083.4h0" stroke="#484cef"/>
<path d="M772.3 1088.4h0" stroke="#4562fc"/>
<path d="M772.3 1093.4h0" stroke="#3c72ff"/>
<path d="M772.3 1098.4h0" stroke="#2d89f5"/>
<path d="M772.3 1103.4h0" stroke="#259de7"/>
<path d="M772.3 1108.3h0" stroke="#17aeda"/>
<path d="M772.3 1113.3h0" stroke="#02b7cb"/>
<path d="M772.3 1118.3h0" stroke="#22c1b0"/>
<path d="M772.3 1123.3h0" stroke="#3dc990"/>
<path d="M772.3 1128.3h0" stroke="#4bcb84"/>
<path d="M772.3 1133.3h0" stroke="#5ccc76"/>
<path d="M772.3 1138.3h0" stroke="#6dcd67"/>
<path d="M772.3 1143.3h0" stroke="#81cc59"/>
<path d="M772.3 1148.3h0" stroke="#94ca4a"/>
<path d="M772.3 1153.3V1248.1" stroke="#a6c83c"/>
<path d="M772.3 1253.1h0" stroke="#b8c431"/>
<path d="M772.3 1258h0" stroke="#e5bb2d"/>
<path d="M772.3 1263V1278" stroke="#fbbc3d"/>
<path d="M794.6 1078.4h0" stroke="#463de0"/>
<path d="M794.6 1083.4h0" stroke="#484cef"/>
<path d="M794.6 1088.4h0" stroke="#4562fc"/>
<path d="M794.6 1093.4h0" stroke="#347afd"/>
<path d="M794.6 1098.5h0" stroke="#2d89f5"/>
<path d="M794.6 1103.5h0" stroke="#2797eb"/>
<path d="M794.6 1108.5h0" stroke="#21a3e3"/>
<path d="M794.6 1113.5h0" stroke="#17aeda"/>
<path d="M794.6 1118.5h0" stroke="#03bbc2"/>
<path d="M794.6 1123.5h0" stroke="#2cc4a6"/>
<path d="M794.6 1128.6h0" stroke="#4bcb84"/>
<path d="M794.6 1133.6h0" stroke="#5ccc76"/>
<path d="M794.6 1138.6h0" stroke="#6dcd67"/>
<path d="M794.6 1143.6h0" stroke="#81cc59"/>
<path d="M794.6 1148.6h0" stroke="#94ca4a"/>
<path d="M794.6 1153.6V1248.9" stroke="#a6c83c"/>
<path d="M794.6 1253.9h0" stroke="#b8c431"/>
<path d="M794.6 1258.9h0" stroke="#f1ba37"/>
<path d="M794.6 1264V1279" stroke="#fbbc3d"/>
<path d="M815.6 1078.4h0" stroke="#4536d5"/>
<path d="M815.6 1083.4h0" stroke="#463de0"/>
<path d="M815.6 1088.4h0" stroke="#484cef"/>
<path d="M815.6 1093.4h0" stroke="#426afe"/>
<path d="M815.6 1098.4h0" stroke="#2d89f5"/>
<path d="M815.6 1103.4h0" stroke="#259de7"/>
<path d="M815.6 1108.3h0" stroke="#1da9e0"/>
<path d="M815.6 1113.3h0" stroke="#02b7cb"/>
<path d="M815.6 1118.3h0" stroke="#22c1b0"/>
<path d="M815.6 1123.3h0" stroke="#3dc990"/>
<path d="M815.6 1128.3h0" stroke="#5ccc76"/>
<path d="M815.6 1133.3h0" stroke="#6dcd67"/>
<path d="M815.6 1138.3h0" stroke="#94ca4a"/>
<path d="M815.6 1143.3h0" stroke="#a6c83c"/>
<path d="M815.6 1148.3V1248.1" stroke="#b8c431"/>
<path d="M815.6 1253.1h0" stroke="#f1ba37"/>
<path d="M815.6 1258V1278" stroke="#feca33"/>
<path d="M838.7 1078.4h0" stroke="#4331c7"/>
<path d="M838.7 1083.4h0" stroke="#4536d5"/>
<path d="M838.7 1088.4h0" stroke="#463de0"/>
<path d="M838.7 1093.4h0" stroke="#475bf9"/>
<path d="M838.7 1098.4h0" stroke="#2d89f5"/>
<path d="M838.7 1103.3h0" stroke="#21a3e3"/>
<path d="M838.7 1108.3h0" stroke="#02b7cb"/>
<path d="M838.7 1113.3h0" stroke="#22c1b0"/>
<path d="M838.7 1118.3h0" stroke="#34c79c"/>
<path d="M838.7 1123.3h0" stroke="#4bcb84"/>
<path d="M838.7 1128.3h0" stroke="#6dcd67"/>
<path d="M838.7 1133.3h0" stroke="#94ca4a"/>
<path d="M838.7 1138.3h0" stroke="#c8c129"/>
<path d="M838.7 1143.3V1243.1" stroke="#d7be28"/>
<path d="M838.7 1248h0" stroke="#fbbc3d"/>
<path d="M838.7 1253V1268" stroke="#fbd22f"/>
<path d="M855.4 1078.9h0" stroke="#463de0"/>
<path d="M855.4 1083.8h0" stroke="#4744e9"/>
<path d="M855.4 1088.8V1093.8" stroke="#484cef"/>
<path d="M855.4 1098.7h0" stroke="#4853f5"/>
<path d="M855.4 1103.7h0" stroke="#4562fc"/>
<path d="M855.4 1108.7h0" stroke="#347afd"/>
<path d="M855.4 1113.6h0" stroke="#2c90f0"/>
<path d="M855.4 1118.6h0" stroke="#0cb3d3"/>
<path d="M855.4 1123.6h0" stroke="#3dc990"/>
<path d="M855.4 1128.5h0" stroke="#5ccc76"/>
<path d="M855.4 1133.5h0" stroke="#81cc59"/>
<path d="M855.4 1138.5V1163.3" stroke="#a6c83c"/>
<path d="M855.4 1168.3h0" stroke="#81cc59"/>
<path d="M855.4 1173.2h0" stroke="#5ccc76"/>
<path d="M855.4 1178.2h0" stroke="#4bcb84"/>
<path d="M855.4 1183.1h0" stroke="#3dc990"/>
<path d="M855.4 1188.1h0" stroke="#34c79c"/>
<path d="M855.4 1193.1h0" stroke="#2cc4a6"/>
<path d="M855.4 1198h0" stroke="#22c1b0"/>
<path d="M855.4 1203V1237.8" stroke="#12beb9"/>
<path d="M855.4 1242.7h0" stroke="#34c79c"/>
<path d="M855.4 1247.7h0" stroke="#4bcb84"/>
<path d="M855.4 1252.7h0" stroke="#81cc59"/>
<path d="M855.4 1257.6h0" stroke="#a6c83c"/>
<path d="M855.4 1262.6h0" stroke="#c8c129"/>
<path d="M855.4 1267.6h0" stroke="#e5bb2d"/>
<path d="M855.4 1272.5h0" stroke="#fbd22f"/>
<path d="M855.4 1277.5V1307.3" stroke="#f9fb15"/>
<path d="M867.2 1078.9h0" stroke="#4536d5"/>
<path d="M867.2 1083.9h0" stroke="#463de0"/>
<path d="M867.2 1089V1094.1" stroke="#2d89f5"/>
<path d="M867.2 1099.1h0" stroke="#02b7cb"/>
<path d="M867.2 1104.2h0" stroke="#d7be28"/>
<path d="M867.2 1109.3h0" stroke="#e5bb2d"/>
<path d="M867.2 1114.3V1144.7" stroke="#fbbc3d"/>
<path d="M867.2 1149.8h0" stroke="#f1ba37"/>
<path d="M867.2 1154.8h0" stroke="#e5bb2d"/>
<path d="M867.2 1159.9h0" stroke="#d7be28"/>
<path d="M867.2 1165V1170" stroke="#c8c129"/>
<path d="M867.2 1175.1h0" stroke="#b8c431"/>
<path d="M867.2 1180.2V1240.9" stroke="#a6c83c"/>
<path d="M867.2 1246h0" stroke="#e5bb2d"/>
<path d="M867.2 1251.1V1266.3" stroke="#fbbc3d"/>
<path d="M883 1078.9h0" stroke="#402bb8"/>
<path d="M883 1083.8V1088.8" stroke="#4331c7"/>
<path d="M883 1093.8h0" stroke="#463de0"/>
<path d="M883 1098.7h0" stroke="#4562fc"/>
<path d="M883 1103.7h0" stroke="#2d89f5"/>
<path d="M883 1108.7h0" stroke="#2cc4a6"/>
<path d="M883 1113.6h0" stroke="#d7be28"/>
<path d="M883 1118.6h0" stroke="#fec239"/>
<path d="M883 1123.5h0" stroke="#f5e327"/>
<path d="M883 1128.5V1153.3" stroke="#f9fb15"/>
<path d="M883 1158.3h0" stroke="#f5eb23"/>
<path d="M883 1163.3h0" stroke="#fbd22f"/>
<path d="M883 1168.2h0" stroke="#fec239"/>
<path d="M883 1173.2V1222.8" stroke="#fbbc3d"/>
<path d="M883 1227.8h0" stroke="#f1ba37"/>
<path d="M883 1232.8h0" stroke="#e5bb2d"/>
<path d="M883 1237.7V1252.6" stroke="#d7be28"/>
<path d="M883 1257.6h0" stroke="#fec239"/>
<path d="M883 1262.6h0" stroke="#f5eb23"/>
<path d="M883 1267.5V1277.5" stroke="#f9fb15"/>
<path d="M897.8 1078.9h0" stroke="#402bb8"/>
<path d="M897.8 1083.9V1088.9" stroke="#4331c7"/>
<path d="M897.8 1093.9h0" stroke="#463de0"/>
<path d="M897.8 1098.8h0" stroke="#4562fc"/>
<path d="M897.8 1103.8h0" stroke="#2d89f5"/>
<path d="M897.8 1108.8h0" stroke="#2cc4a6"/>
<path d="M897.8 1113.8h0" stroke="#d7be28"/>
<path d="M897.8 1118.8h0" stroke="#feca33"/>
<path d="M897.8 1123.8h0" stroke="#f7f31d"/>
<path d="M897.8 1128.8V1148.8" stroke="#f9fb15"/>
<path d="M897.8 1207.5V1217.5" stroke="#f9fb15"/>
<path d="M897.8 1222.5h0" stroke="#f7f31d"/>
<path d="M897.8 1227.5h0" stroke="#f5eb23"/>
<path d="M897.8 1232.5h0" stroke="#f5e327"/>
<path d="M897.8 1237.5h0" stroke="#fbd22f"/>
<path d="M897.8 1242.5h0" stroke="#feca33"/>
<path d="M897.8 1247.5V1262.5" stroke="#fbbc3d"/>
<path d="M911 1078.9h0" stroke="#402bb8"/>
<path d="M911 1083.9V1089" stroke="#4331c7"/>
<path d="M911 1094.1h0" stroke="#463de0"/>
<path d="M911 1099.1h0" stroke="#4562fc"/>
<path d="M911 1104.2h0" stroke="#2c90f0"/>
<path d="M911 1109.3h0" stroke="#22c1b0"/>
<path d="M911 1114.3h0" stroke="#a6c83c"/>
<path d="M911 1119.4h0" stroke="#b8c431"/>
<path d="M911 1124.5h0" stroke="#c8c129"/>
<path d="M911 1129.5h0" stroke="#e5bb2d"/>
<path d="M911 1134.6h0" stroke="#fbbc3d"/>
<path d="M911 1139.6h0" stroke="#fec239"/>
<path d="M911 1144.7h0" stroke="#fbd22f"/>
<path d="M911 1149.8h0" stroke="#feca33"/>
<path d="M911 1154.8h0" stroke="#fec239"/>
<path d="M911 1159.9V1190.3" stroke="#fbbc3d"/>
<path d="M911 1195.4h0" stroke="#feca33"/>
<path d="M911 1200.4h0" stroke="#f7db2b"/>
<path d="M911 1205.5h0" stroke="#f5eb23"/>
<path d="M911 1210.6V1225.7" stroke="#f9fb15"/>
<path d="M911 1230.8h0" stroke="#f7f31d"/>
<path d="M911 1235.9h0" stroke="#f5eb23"/>
<path d="M911 1240.9h0" stroke="#f7db2b"/>
<path d="M911 1246h0" stroke="#fbd22f"/>
<path d="M911 1251.1h0" stroke="#feca33"/>
<path d="M911 1256.1h0" stroke="#fbbc3d"/>
<path d="M911 1261.2h0" stroke="#f7db2b"/>
<path d="M911 1266.3h0" stroke="#f9fb15"/>
<path d="M940.5 1078.9h0" stroke="#4744e9"/>
<path d="M940.5 1083.9h0" stroke="#484cef"/>
<path d="M940.5 1089h0" stroke="#4853f5"/>
<path d="M940.5 1094h0" stroke="#4562fc"/>
<path d="M940.5 1099h0" stroke="#347afd"/>
<path d="M940.5 1104.1h0" stroke="#2d89f5"/>
<path d="M940.5 1109.1h0" stroke="#0cb3d3"/>
<path d="M940.5 1114.2h0" stroke="#34c79c"/>
<path d="M940.5 1119.2h0" stroke="#6dcd67"/>
<path d="M940.5 1124.3h0" stroke="#a6c83c"/>
<path d="M940.5 1129.3h0" stroke="#d7be28"/>
<path d="M940.5 1134.4h0" stroke="#f1ba37"/>
<path d="M940.5 1139.4h0" stroke="#fec239"/>
<path d="M940.5 1144.4h0" stroke="#f5e327"/>
<path d="M940.5 1149.5V1199.9" stroke="#f9fb15"/>
<path d="M940.5 1205h0" stroke="#f7f31d"/>
<path d="M940.5 1210h0" stroke="#f5e327"/>
<path d="M940.5 1215.1h0" stroke="#f7db2b"/>
<path d="M940.5 1220.1h0" stroke="#fbd22f"/>
<path d="M940.5 1225.1V1230.2" stroke="#feca33"/>
<path d="M940.5 1235.2h0" stroke="#fec239"/>
<path d="M940.5 1240.3h0" stroke="#fbbc3d"/>
<path d="M940.5 1245.3h0" stroke="#f1ba37"/>
<path d="M940.5 1250.4V1255.4" stroke="#e5bb2d"/>
<path d="M940.5 1260.5h0" stroke="#fec239"/>
<path d="M940.5 1265.5V1275.6" stroke="#fbd22f"/>
<path d="M980.4 1078.9V1083.9" stroke="#484cef"/>
<path d="M980.4 1088.9h0" stroke="#4853f5"/>
<path d="M980.4 1093.9h0" stroke="#4562fc"/>
<path d="M980.4 1099h0" stroke="#347afd"/>
<path d="M980.4 1104h0" stroke="#2d89f5"/>
<path d="M980.4 1109h0" stroke="#1da9e0"/>
<path d="M980.4 1114h0" stroke="#03bbc2"/>
<path d="M980.4 1119h0" stroke="#2cc4a6"/>
<path d="M980.4 1124.1h0" stroke="#3dc990"/>
<path d="M980.4 1129.1h0" stroke="#94ca4a"/>
<path d="M980.4 1134.1V1154.2" stroke="#fbbc3d"/>
<path d="M980.4 1159.2h0" stroke="#fec239"/>
<path d="M980.4 1164.2h0" stroke="#feca33"/>
<path d="M980.4 1169.3V1174.3" stroke="#fbd22f"/>
<path d="M980.4 1179.3V1184.3" stroke="#feca33"/>
<path d="M980.4 1189.3V1194.4" stroke="#fec239"/>
<path d="M980.4 1199.4h0" stroke="#f1ba37"/>
<path d="M980.4 1204.4h0" stroke="#d7be28"/>
<path d="M980.4 1209.4h0" stroke="#a6c83c"/>
<path d="M980.4 1214.5h0" stroke="#94ca4a"/>
<path d="M980.4 1219.5V1224.5" stroke="#81cc59"/>
<path d="M980.4 1229.5h0" stroke="#6dcd67"/>
<path d="M980.4 1234.5V1239.6" stroke="#5ccc76"/>
<path d="M980.4 1244.6h0" stroke="#4bcb84"/>
<path d="M980.4 1249.6h0" stroke="#5ccc76"/>
<path d="M980.4 1254.6h0" stroke="#94ca4a"/>
<path d="M980.4 1259.7h0" stroke="#b8c431"/>
<path d="M980.4 1264.7h0" stroke="#e5bb2d"/>
<path d="M980.4 1269.7h0" stroke="#fbbc3d"/>
<path d="M980.4 1274.7h0" stroke="#fbd22f"/>
<path d="M980.4 1279.7h0" stroke="#f5e327"/>
<path d="M980.4 1284.8h0" stroke="#f7f31d"/>
<path d="M980.4 1289.8V1299.8" stroke="#f9fb15"/>
<path d="M992.2 1078.9V1083.9" stroke="#484cef"/>
<path d="M992.2 1089h0" stroke="#4853f5"/>
<path d="M992.2 1094h0" stroke="#4562fc"/>
<path d="M992.2 1099.1h0" stroke="#347afd"/>
<path d="M992.2 1104.2h0" stroke="#2c90f0"/>
<path d="M992.2 1109.2h0" stroke="#1da9e0"/>
<path d="M992.2 1114.3h0" stroke="#03bbc2"/>
<path d="M992.2 1119.3h0" stroke="#2cc4a6"/>
<path d="M992.2 1124.4h0" stroke="#3dc990"/>
<path d="M992.2 1129.4h0" stroke="#81cc59"/>
<path d="M992.2 1134.5V1149.7" stroke="#d7be28"/>
<path d="M992.2 1154.7h0" stroke="#f1ba37"/>
<path d="M992.2 1159.8h0" stroke="#feca33"/>
<path d="M992.2 1164.9V1169.9" stroke="#fbd22f"/>
<path d="M992.2 1175V1180" stroke="#feca33"/>
<path d="M992.2 1185.1h0" stroke="#fec239"/>
<path d="M992.2 1190.1V1195.2" stroke="#fbbc3d"/>
<path d="M992.2 1200.3h0" stroke="#e5bb2d"/>
<path d="M992.2 1205.3h0" stroke="#d7be28"/>
<path d="M992.2 1210.4h0" stroke="#c8c129"/>
<path d="M992.2 1215.4h0" stroke="#b8c431"/>
<path d="M992.2 1220.5V1225.5" stroke="#94ca4a"/>
<path d="M992.2 1230.6h0" stroke="#81cc59"/>
<path d="M992.2 1235.7V1240.7" stroke="#6dcd67"/>
<path d="M992.2 1245.8h0" stroke="#5ccc76"/>
<path d="M992.2 1250.8h0" stroke="#4bcb84"/>
<path d="M992.2 1255.9h0" stroke="#5ccc76"/>
<path d="M992.2 1261h0" stroke="#a6c83c"/>
<path d="M992.2 1266V1281.2" stroke="#d7be28"/>
<path d="M1015.9 1078.9V1083.9" stroke="#484cef"/>
<path d="M1015.9 1088.9h0" stroke="#4853f5"/>
<path d="M1015.9 1093.9h0" stroke="#4562fc"/>
<path d="M1015.9 1098.9h0" stroke="#3c72ff"/>
<path d="M1015.9 1103.9h0" stroke="#2d89f5"/>
<path d="M1015.9 1108.9h0" stroke="#21a3e3"/>
<path d="M1015.9 1113.9h0" stroke="#22c1b0"/>
<path d="M1015.9 1119h0" stroke="#4bcb84"/>
<path d="M1015.9 1124h0" stroke="#6dcd67"/>
<path d="M1015.9 1129h0" stroke="#94ca4a"/>
<path d="M1015.9 1134h0" stroke="#b8c431"/>
<path d="M1015.9 1139V1154" stroke="#d7be28"/>
<path d="M1015.9 1159h0" stroke="#e5bb2d"/>
<path d="M1015.9 1164.1h0" stroke="#f1ba37"/>
<path d="M1015.9 1169.1V1194.1" stroke="#fbbc3d"/>
<path d="M1015.9 1199.1h0" stroke="#f1ba37"/>
<path d="M1015.9 1204.1h0" stroke="#c8c129"/>
<path d="M1015.9 1209.2V1244.2" stroke="#a6c83c"/>
<path d="M1015.9 1249.3h0" stroke="#c8c129"/>
<path d="M1015.9 1254.3h0" stroke="#f1ba37"/>
<path d="M1015.9 1259.3V1279.3" stroke="#fbbc3d"/>
<path d="M1027 1078.9h0" stroke="#4744e9"/>
<path d="M1027 1083.9h0" stroke="#484cef"/>
<path d="M1027 1089h0" stroke="#4853f5"/>
<path d="M1027 1094h0" stroke="#4562fc"/>
<path d="M1027 1099h0" stroke="#3c72ff"/>
<path d="M1027 1104.1h0" stroke="#2d89f5"/>
<path d="M1027 1109.1h0" stroke="#1da9e0"/>
<path d="M1027 1114.2h0" stroke="#22c1b0"/>
<path d="M1027 1119.2h0" stroke="#5ccc76"/>
<path d="M1027 1124.3h0" stroke="#81cc59"/>
<path d="M1027 1129.3h0" stroke="#b8c431"/>
<path d="M1027 1134.4V1149.5" stroke="#d7be28"/>
<path d="M1027 1154.5h0" stroke="#b8c431"/>
<path d="M1027 1159.6h0" stroke="#a6c83c"/>
<path d="M1027 1164.6h0" stroke="#94ca4a"/>
<path d="M1027 1169.7h0" stroke="#6dcd67"/>
<path d="M1027 1174.7h0" stroke="#4bcb84"/>
<path d="M1027 1179.8V1184.8" stroke="#3dc990"/>
<path d="M1027 1189.8V1194.9" stroke="#34c79c"/>
<path d="M1027 1199.9V1205" stroke="#2cc4a6"/>
<path d="M1027 1210V1215.1" stroke="#22c1b0"/>
<path d="M1027 1220.1h0" stroke="#12beb9"/>
<path d="M1027 1225.1h0" stroke="#22c1b0"/>
<path d="M1027 1230.2h0" stroke="#2cc4a6"/>
<path d="M1027 1235.2h0" stroke="#34c79c"/>
<path d="M1027 1240.3h0" stroke="#3dc990"/>
<path d="M1027 1245.3h0" stroke="#5ccc76"/>
<path d="M1027 1250.4h0" stroke="#94ca4a"/>
<path d="M1027 1255.4h0" stroke="#c8c129"/>
<path d="M1027 1260.5h0" stroke="#e5bb2d"/>
<path d="M1027 1265.5h0" stroke="#f1ba37"/>
<path d="M1027 1270.5V1275.6" stroke="#fbbc3d"/>
<path d="M1035.6 1078.9h0" stroke="#4536d5"/>
<path d="M1035.6 1083.9h0" stroke="#4744e9"/>
<path d="M1035.6 1088.9h0" stroke="#4853f5"/>
<path d="M1035.6 1093.9h0" stroke="#4562fc"/>
<path d="M1035.6 1098.9h0" stroke="#347afd"/>
<path d="M1035.6 1103.9h0" stroke="#2d89f5"/>
<path d="M1035.6 1108.9h0" stroke="#02b7cb"/>
<path d="M1035.6 1113.9h0" stroke="#4bcb84"/>
<path d="M1035.6 1119h0" stroke="#94ca4a"/>
<path d="M1035.6 1124h0" stroke="#d7be28"/>
<path d="M1035.6 1129h0" stroke="#fec239"/>
<path d="M1035.6 1134h0" stroke="#fbd22f"/>
<path d="M1035.6 1139h0" stroke="#fec239"/>
<path d="M1035.6 1144h0" stroke="#fbbc3d"/>
<path d="M1035.6 1149h0" stroke="#c8c129"/>
<path d="M1035.6 1154h0" stroke="#94ca4a"/>
<path d="M1035.6 1159h0" stroke="#5ccc76"/>
<path d="M1035.6 1164.1h0" stroke="#34c79c"/>
<path d="M1035.6 1169.1V1229.2" stroke="#12beb9"/>
<path d="M1035.6 1234.2h0" stroke="#34c79c"/>
<path d="M1035.6 1239.2h0" stroke="#4bcb84"/>
<path d="M1035.6 1244.2h0" stroke="#81cc59"/>
<path d="M1035.6 1249.3h0" stroke="#c8c129"/>
<path d="M1035.6 1254.3h0" stroke="#feca33"/>
<path d="M1035.6 1259.3V1279.3" stroke="#f9fb15"/>
<path d="M1067 1078.9h0" stroke="#4331c7"/>
<path d="M1067 1083.5h0" stroke="#03bbc2"/>
<path d="M1067 1088.2V1102.2" stroke="#a6c83c"/>
<path d="M1067 1120.8V1135.7" stroke="#f9fb15"/>
<path d="M1067 1140.6h0" stroke="#fec239"/>
<path d="M1067 1145.6V1150.6" stroke="#fbbc3d"/>
<path d="M1067 1155.5h0" stroke="#c8c129"/>
<path d="M1067 1160.5h0" stroke="#94ca4a"/>
<path d="M1067 1165.4h0" stroke="#6dcd67"/>
<path d="M1067 1170.4h0" stroke="#5ccc76"/>
<path d="M1067 1175.3V1180.3" stroke="#3dc990"/>
<path d="M1067 1185.2h0" stroke="#34c79c"/>
<path d="M1067 1190.2h0" stroke="#2cc4a6"/>
<path d="M1067 1195.1h0" stroke="#22c1b0"/>
<path d="M1067 1200.1V1244.7" stroke="#12beb9"/>
<path d="M1067 1249.6h0" stroke="#2cc4a6"/>
<path d="M1067 1254.6h0" stroke="#6dcd67"/>
<path d="M1067 1259.6h0" stroke="#c8c129"/>
<path d="M1067 1264.5h0" stroke="#fbbc3d"/>
<path d="M1067 1269.5h0" stroke="#f7db2b"/>
<path d="M1067 1274.4V1294.2" stroke="#f9fb15"/>
<path d="M1098 1078.9h0" stroke="#484cef"/>
<path d="M1098 1083.9h0" stroke="#4853f5"/>
<path d="M1098 1088.9h0" stroke="#475bf9"/>
<path d="M1098 1093.9h0" stroke="#2797eb"/>
<path d="M1098 1099h0" stroke="#22c1b0"/>
<path d="M1098 1104h0" stroke="#81cc59"/>
<path d="M1098 1109V1119" stroke="#d7be28"/>
<path d="M1098 1124.1h0" stroke="#e5bb2d"/>
<path d="M1098 1129.1V1159.2" stroke="#fbbc3d"/>
<path d="M1098 1164.2h0" stroke="#e5bb2d"/>
<path d="M1098 1169.3h0" stroke="#d7be28"/>
<path d="M1098 1174.3h0" stroke="#a6c83c"/>
<path d="M1098 1179.3h0" stroke="#6dcd67"/>
<path d="M1098 1184.3V1244.6" stroke="#4bcb84"/>
<path d="M1098 1249.6h0" stroke="#5ccc76"/>
<path d="M1098 1254.6h0" stroke="#94ca4a"/>
<path d="M1098 1259.7h0" stroke="#c8c129"/>
<path d="M1098 1264.7h0" stroke="#fbbc3d"/>
<path d="M1098 1269.7h0" stroke="#f7db2b"/>
<path d="M1098 1274.7V1299.8" stroke="#f9fb15"/>
<path d="M1129.4 1085.4V1107.8" stroke="#fbd22f"/>
<path d="M1129.4 1124.6h0" stroke="#f9fb15"/>
<path d="M1129.4 1129.5h0" stroke="#f5eb23"/>
<path d="M1129.4 1134.5h0" stroke="#f7db2b"/>
<path d="M1129.4 1139.5h0" stroke="#f1ba37"/>
<path d="M1129.4 1144.5V1154.5" stroke="#d7be28"/>
<path d="M1129.4 1159.5h0" stroke="#81cc59"/>
<path d="M1129.4 1164.5h0" stroke="#4bcb84"/>
<path d="M1129.4 1169.5h0" stroke="#34c79c"/>
<path d="M1129.4 1174.5h0" stroke="#2cc4a6"/>
<path d="M1129.4 1179.4h0" stroke="#22c1b0"/>
<path d="M1129.4 1184.4V1219.4" stroke="#12beb9"/>
<path d="M1129.4 1224.4V1229.4" stroke="#22c1b0"/>
<path d="M1129.4 1234.3h0" stroke="#2cc4a6"/>
<path d="M1129.4 1239.3h0" stroke="#34c79c"/>
<path d="M1129.4 1244.3V1249.3" stroke="#3dc990"/>
<path d="M1129.4 1254.3h0" stroke="#6dcd67"/>
<path d="M1129.4 1259.3h0" stroke="#c8c129"/>
<path d="M1129.4 1264.3h0" stroke="#f1ba37"/>
<path d="M1129.4 1269.3h0" stroke="#fec239"/>
<path d="M1129.4 1274.3V1294.2" stroke="#fbd22f"/>
<path d="M1142.8 1078.9h0" stroke="#475bf9"/>
<path d="M1142.8 1083.8h0" stroke="#3c72ff"/>
<path d="M1142.8 1088.8h0" stroke="#2d89f5"/>
<path d="M1142.8 1093.8h0" stroke="#1da9e0"/>
<path d="M1142.8 1098.8h0" stroke="#12beb9"/>
<path d="M1142.8 1103.8h0" stroke="#22c1b0"/>
<path d="M1142.8 1108.7h0" stroke="#34c79c"/>
<path d="M1142.8 1113.7h0" stroke="#3dc990"/>
<path d="M1142.8 1118.7h0" stroke="#5ccc76"/>
<path d="M1142.8 1123.7h0" stroke="#81cc59"/>
<path d="M1142.8 1128.7h0" stroke="#b8c431"/>
<path d="M1142.8 1133.6V1153.6" stroke="#d7be28"/>
<path d="M1142.8 1158.5h0" stroke="#c8c129"/>
<path d="M1142.8 1163.5h0" stroke="#b8c431"/>
<path d="M1142.8 1168.5h0" stroke="#a6c83c"/>
<path d="M1142.8 1173.5h0" stroke="#94ca4a"/>
<path d="M1142.8 1178.4h0" stroke="#81cc59"/>
<path d="M1142.8 1183.4h0" stroke="#6dcd67"/>
<path d="M1142.8 1188.4h0" stroke="#5ccc76"/>
<path d="M1142.8 1193.4V1218.3" stroke="#4bcb84"/>
<path d="M1142.8 1223.3h0" stroke="#3dc990"/>
<path d="M1142.8 1228.2h0" stroke="#34c79c"/>
<path d="M1142.8 1233.2h0" stroke="#2cc4a6"/>
<path d="M1142.8 1238.2h0" stroke="#22c1b0"/>
<path d="M1142.8 1243.2h0" stroke="#12beb9"/>
<path d="M1142.8 1248.2h0" stroke="#22c1b0"/>
<path d="M1142.8 1253.1h0" stroke="#2cc4a6"/>
<path d="M1142.8 1258.1h0" stroke="#3dc990"/>
<path d="M1142.8 1263.1h0" stroke="#4bcb84"/>
<path d="M1142.8 1268.1h0" stroke="#94ca4a"/>
<path d="M1142.8 1273.1h0" stroke="#d7be28"/>
<path d="M1142.8 1278V1312.9" stroke="#fbbc3d"/>
<path d="M1151.5 1078.9h0" stroke="#475bf9"/>
<path d="M1151.5 1083.9h0" stroke="#3c72ff"/>
<path d="M1151.5 1088.9h0" stroke="#2d89f5"/>
<path d="M1151.5 1093.9h0" stroke="#1da9e0"/>
<path d="M1151.5 1098.9h0" stroke="#12beb9"/>
<path d="M1151.5 1103.9h0" stroke="#22c1b0"/>
<path d="M1151.5 1108.9h0" stroke="#34c79c"/>
<path d="M1151.5 1113.9h0" stroke="#3dc990"/>
<path d="M1151.5 1118.9h0" stroke="#5ccc76"/>
<path d="M1151.5 1123.9h0" stroke="#94ca4a"/>
<path d="M1151.5 1128.9h0" stroke="#b8c431"/>
<path d="M1151.5 1133.9V1154" stroke="#d7be28"/>
<path d="M1151.5 1159h0" stroke="#c8c129"/>
<path d="M1151.5 1164h0" stroke="#b8c431"/>
<path d="M1151.5 1169h0" stroke="#a6c83c"/>
<path d="M1151.5 1174h0" stroke="#94ca4a"/>
<path d="M1151.5 1179h0" stroke="#81cc59"/>
<path d="M1151.5 1184h0" stroke="#6dcd67"/>
<path d="M1151.5 1189V1219" stroke="#4bcb84"/>
<path d="M1151.5 1224h0" stroke="#3dc990"/>
<path d="M1151.5 1229.1h0" stroke="#34c79c"/>
<path d="M1151.5 1234.1h0" stroke="#2cc4a6"/>
<path d="M1151.5 1239.1h0" stroke="#22c1b0"/>
<path d="M1151.5 1244.1h0" stroke="#12beb9"/>
<path d="M1151.5 1249.1h0" stroke="#22c1b0"/>
<path d="M1151.5 1254.1h0" stroke="#34c79c"/>
<path d="M1151.5 1259.1h0" stroke="#3dc990"/>
<path d="M1151.5 1264.1h0" stroke="#5ccc76"/>
<path d="M1151.5 1269.1h0" stroke="#a6c83c"/>
<path d="M1151.5 1274.1h0" stroke="#e5bb2d"/>
<path d="M1151.5 1279.1V1309.2" stroke="#fbbc3d"/>
<path d="M1160.5 1078.9h0" stroke="#475bf9"/>
<path d="M1160.5 1083.9h0" stroke="#3c72ff"/>
<path d="M1160.5 1088.9h0" stroke="#2d89f5"/>
<path d="M1160.5 1093.9h0" stroke="#1da9e0"/>
<path d="M1160.5 1098.9h0" stroke="#12beb9"/>
<path d="M1160.5 1103.9h0" stroke="#22c1b0"/>
<path d="M1160.5 1108.9h0" stroke="#34c79c"/>
<path d="M1160.5 1113.9h0" stroke="#3dc990"/>
<path d="M1160.5 1118.9h0" stroke="#5ccc76"/>
<path d="M1160.5 1123.9h0" stroke="#94ca4a"/>
<path d="M1160.5 1128.9h0" stroke="#b8c431"/>
<path d="M1160.5 1133.9V1154" stroke="#d7be28"/>
<path d="M1160.5 1159h0" stroke="#c8c129"/>
<path d="M1160.5 1164h0" stroke="#b8c431"/>
<path d="M1160.5 1169h0" stroke="#a6c83c"/>
<path d="M1160.5 1174h0" stroke="#94ca4a"/>
<path d="M1160.5 1179h0" stroke="#81cc59"/>
<path d="M1160.5 1184h0" stroke="#6dcd67"/>
<path d="M1160.5 1189V1219" stroke="#4bcb84"/>
<path d="M1160.5 1224h0" stroke="#3dc990"/>
<path d="M1160.5 1229.1h0" stroke="#34c79c"/>
<path d="M1160.5 1234.1h0" stroke="#2cc4a6"/>
<path d="M1160.5 1239.1h0" stroke="#22c1b0"/>
<path d="M1160.5 1244.1h0" stroke="#12beb9"/>
<path d="M1160.5 1249.1h0" stroke="#22c1b0"/>
<path d="M1160.5 1254.1h0" stroke="#34c79c"/>
<path d="M1160.5 1259.1h0" stroke="#3dc990"/>
<path d="M1160.5 1264.1h0" stroke="#5ccc76"/>
<path d="M1160.5 1269.1h0" stroke="#a6c83c"/>
<path d="M1160.5 1274.1h0" stroke="#e5bb2d"/>
<path d="M1160.5 1279.1V1309.2" stroke="#fbbc3d"/>
<path d="M1168.5 1078.9h0" stroke="#475bf9"/>
<path d="M1168.5 1083.9h0" stroke="#3c72ff"/>
<path d="M1168.5 1088.9h0" stroke="#2d89f5"/>
<path d="M1168.5 1093.9h0" stroke="#2797eb"/>
<path d="M1168.5 1098.9h0" stroke="#259de7"/>
<path d="M1168.5 1103.9h0" stroke="#1da9e0"/>
<path d="M1168.5 1108.9V1174.1" stroke="#17aeda"/>
<path d="M1168.5 1179.1V1189.1" stroke="#0cb3d3"/>
<path d="M1168.5 1194.1V1199.1" stroke="#02b7cb"/>
<path d="M1168.5 1204.1V1209.2" stroke="#03bbc2"/>
<path d="M1168.5 1214.2V1264.3" stroke="#12beb9"/>
<path d="M1168.5 1269.3h0" stroke="#4bcb84"/>
<path d="M1168.5 1274.3h0" stroke="#e5bb2d"/>
<path d="M1168.5 1279.3V1359.5" stroke="#fbd22f"/>
<path d="M1179.5 1078.9V1088.9" stroke="#2d89f5"/>
<path d="M1179.5 1093.8h0" stroke="#1da9e0"/>
<path d="M1179.5 1098.8h0" stroke="#12beb9"/>
<path d="M1179.5 1103.8h0" stroke="#2cc4a6"/>
<path d="M1179.5 1108.8h0" stroke="#34c79c"/>
<path d="M1179.5 1113.8h0" stroke="#4bcb84"/>
<path d="M1179.5 1118.8h0" stroke="#81cc59"/>
<path d="M1179.5 1123.8h0" stroke="#b8c431"/>
<path d="M1179.5 1128.8h0" stroke="#d7be28"/>
<path d="M1179.5 1133.8V1138.8" stroke="#e5bb2d"/>
<path d="M1179.5 1143.8h0" stroke="#f1ba37"/>
<path d="M1179.5 1148.8V1158.8" stroke="#fbbc3d"/>
<path d="M1179.5 1163.8h0" stroke="#f1ba37"/>
<path d="M1179.5 1168.7h0" stroke="#e5bb2d"/>
<path d="M1179.5 1173.7h0" stroke="#d7be28"/>
<path d="M1179.5 1178.7h0" stroke="#a6c83c"/>
<path d="M1179.5 1183.7h0" stroke="#81cc59"/>
<path d="M1179.5 1188.7h0" stroke="#5ccc76"/>
<path d="M1179.5 1193.7V1198.7" stroke="#3dc990"/>
<path d="M1179.5 1203.7h0" stroke="#34c79c"/>
<path d="M1179.5 1208.7h0" stroke="#2cc4a6"/>
<path d="M1179.5 1213.7h0" stroke="#22c1b0"/>
<path d="M1179.5 1218.7V1248.6" stroke="#12beb9"/>
<path d="M1179.5 1253.6h0" stroke="#2cc4a6"/>
<path d="M1179.5 1258.6h0" stroke="#34c79c"/>
<path d="M1179.5 1263.6h0" stroke="#3dc990"/>
<path d="M1179.5 1268.6h0" stroke="#6dcd67"/>
<path d="M1179.5 1273.6h0" stroke="#a6c83c"/>
<path d="M1179.5 1278.6h0" stroke="#e5bb2d"/>
<path d="M1179.5 1283.6V1303.6" stroke="#fbbc3d"/>
</g>
<g stroke="#000" stroke-opacity="0.14" stroke-width="2">
<line x1="163.7" y1="1079.8" x2="163.7" y2="1359.5"/>
<line x1="275.3" y1="1079.8" x2="275.3" y2="1359.5"/>
<line x1="386.9" y1="1079.8" x2="386.9" y2="1359.5"/>
<line x1="498.4" y1="1079.8" x2="498.4" y2="1359.5"/>
<line x1="610" y1="1079.8" x2="610" y2="1359.5"/>
<line x1="721.6" y1="1079.8" x2="721.6" y2="1359.5"/>
<line x1="833.2" y1="1079.8" x2="833.2" y2="1359.5"/>
<line x1="944.8" y1="1079.8" x2="944.8" y2="1359.5"/>
<line x1="1056.3" y1="1079.8" x2="1056.3" y2="1359.5"/>
<line x1="1167.9" y1="1079.8" x2="1167.9" y2="1359.5"/>
<line x1="143.3" y1="1173" x2="1178.4" y2="1173"/>
<line x1="143.3" y1="1266.3" x2="1178.4" y2="1266.3"/>
</g>
<g stroke="#222" stroke-width="2.4">
<line x1="163.7" y1="1079.8" x2="163.7" y2="1087.8"/>
<line x1="163.7" y1="1359.5" x2="163.7" y2="1351.5"/>
<line x1="275.3" y1="1079.8" x2="275.3" y2="1087.8"/>
<line x1="275.3" y1="1359.5" x2="275.3" y2="1351.5"/>
<line x1="386.9" y1="1079.8" x2="386.9" y2="1087.8"/>
<line x1="386.9" y1="1359.5" x2="386.9" y2="1351.5"/>
<line x1="498.4" y1="1079.8" x2="498.4" y2="1087.8"/>
<line x1="498.4" y1="1359.5" x2="498.4" y2="1351.5"/>
<line x1="610" y1="1079.8" x2="610" y2="1087.8"/>
<line x1="610" y1="1359.5" x2="610" y2="1351.5"/>
<line x1="721.6" y1="1079.8" x2="721.6" y2="1087.8"/>
<line x1="721.6" y1="1359.5" x2="721.6" y2="1351.5"/>
<line x1="833.2" y1="1079.8" x2="833.2" y2="1087.8"/>
<line x1="833.2" y1="1359.5" x2="833.2" y2="1351.5"/>
<line x1="944.8" y1="1079.8" x2="944.8" y2="1087.8"/>
<line x1="944.8" y1="1359.5" x2="944.8" y2="1351.5"/>
<line x1="1056.3" y1="1079.8" x2="1056.3" y2="1087.8"/>
<line x1="1056.3" y1="1359.5" x2="1056.3" y2="1351.5"/>
<line x1="1167.9" y1="1079.8" x2="1167.9" y2="1087.8"/>
<line x1="1167.9" y1="1359.5" x2="1167.9" y2="1351.5"/>
<line x1="143.3" y1="1173" x2="153.3" y2="1173"/>
<line x1="1178.4" y1="1173" x2="1168.4" y2="1173"/>
<line x1="143.3" y1="1266.3" x2="153.3" y2="1266.3"/>
<line x1="1178.4" y1="1266.3" x2="1168.4" y2="1266.3"/>
</g>
<rect x="1148.3" y="1079.80" width="24.2" height="5.15" fill="#fbc254"/>
<rect x="1148.3" y="1084.65" width="24.2" height="80.29" fill="url(#pBasS)"/>
<rect x="1148.3" y="1164.64" width="24.2" height="11.77" fill="url(#pShaS)"/>
<rect x="1148.3" y="1176.11" width="24.2" height="62.86" fill="url(#pSilS)"/>
<rect x="1148.3" y="1238.67" width="24.2" height="12.98" fill="url(#pShaS)"/>
<rect x="1148.3" y="1251.35" width="24.2" height="36.94" fill="url(#pSilS)"/>
<rect x="1148.3" y="1287.99" width="24.2" height="37.03" fill="url(#pShaS)"/>
<rect x="1148.3" y="1324.72" width="24.2" height="1.05" fill="#a2fba2"/>
<rect x="1148.3" y="1325.47" width="24.2" height="15.22" fill="url(#pSilS)"/>
<rect x="1148.3" y="1340.39" width="24.2" height="2.16" fill="#c99e22"/>
<rect x="1148.3" y="1342.25" width="24.2" height="5.43" fill="url(#pShaS)"/>
<rect x="1148.3" y="1347.38" width="24.2" height="1.79" fill="#fdfda0"/>
<rect x="1148.3" y="1348.87" width="24.2" height="2.35" fill="#c99e22"/>
<rect x="1148.3" y="1350.92" width="24.2" height="1.05" fill="#fdfda0"/>
<rect x="1148.3" y="1351.67" width="24.2" height="1.23" fill="#c99e22"/>
<rect x="1148.3" y="1352.60" width="24.2" height="1.14" fill="#fdfda0"/>
<rect x="1148.3" y="1353.44" width="24.2" height="5.52" fill="#c99e22"/>
<path d="M1148.3 1079.8V1358.7" stroke="#000" stroke-width="2.4" fill="none"/>
<path d="M1172.5 1079.8V1358.7" stroke="#222" stroke-width="1.3" fill="none"/>
<rect x="143.3" y="1079.8" width="1035.1" height="279.7" fill="none" stroke="#000" stroke-width="3"/>
<g stroke="#000" stroke-width="2.4" fill="none" stroke-linejoin="round">
<path d="M227.3 1201.4L261.7 1195.5L314.9 1198L353.9 1211.9"/>
<path d="M487.7 1230L522 1228"/>
<path d="M846.6 1180.2L861.3 1184.7L879 1200.4"/>
<path d="M972.6 1224.6L997.2 1217.2L1014.9 1204.4L1030.6 1169.9L1039.5 1158.7L1045.4 1160"/>
<path d="M1058.6 1153.6H1074.9"/>
<path d="M1090 1176.4H1104.4"/>
<path d="M1121.2 1154.6H1131L1147.8 1166"/>
</g>
<rect x="150.6" y="1087.8" width="51.2" height="37.8" fill="#fff"/>
<text x="156.5" y="1120.3" font-size="38" font-weight="bold">P1</text>
<text x="18.9" y="1038.3" font-size="44">b)</text>
<text x="663" y="1016.5" font-size="38.6" text-anchor="middle" font-weight="bold">Position - easting UTM (m)</text>
<text x="159.7" y="1063.8" font-size="38" text-anchor="middle">5.67</text>
<text x="273.8" y="1063.8" font-size="38" text-anchor="middle">5.671</text>
<text x="385.4" y="1063.8" font-size="38" text-anchor="middle">5.672</text>
<text x="496.9" y="1063.8" font-size="38" text-anchor="middle">5.673</text>
<text x="608.5" y="1063.8" font-size="38" text-anchor="middle">5.674</text>
<text x="720.1" y="1063.8" font-size="38" text-anchor="middle">5.675</text>
<text x="831.7" y="1063.8" font-size="38" text-anchor="middle">5.676</text>
<text x="943.3" y="1063.8" font-size="38" text-anchor="middle">5.677</text>
<text x="1054.8" y="1063.8" font-size="38" text-anchor="middle">5.678</text>
<text x="1166.4" y="1063.8" font-size="38" text-anchor="middle">5.679</text>
<text x="128.8" y="1093.7" font-size="38" text-anchor="end">0</text>
<text x="128.8" y="1186.9" font-size="38" text-anchor="end">100</text>
<text x="128.8" y="1280.2" font-size="38" text-anchor="end">200</text>
<text x="128.8" y="1373.4" font-size="38" text-anchor="end">300</text>
<text transform="translate(48.5,1219) rotate(-90)" font-size="38.5" font-weight="bold" text-anchor="middle">Depth (m)</text>
<text x="1107" y="1023.8" font-size="37.5">x10</text>
<text x="1167.3" y="1006.3" font-size="28" font-weight="bold" style="font-family:'Liberation Sans',sans-serif">5</text>
<text x="1159" y="1388.8" font-size="30" text-anchor="middle" font-weight="bold">KMF7</text>
<defs><linearGradient id="cbar" x1="0" y1="0" x2="1" y2="0"><stop offset="0.0000" stop-color="#3e26a8"/><stop offset="0.0476" stop-color="#4332cb"/><stop offset="0.0952" stop-color="#4741e5"/><stop offset="0.1429" stop-color="#4852f4"/><stop offset="0.1905" stop-color="#4563fd"/><stop offset="0.2381" stop-color="#3875fe"/><stop offset="0.2857" stop-color="#2e87f7"/><stop offset="0.3333" stop-color="#2797eb"/><stop offset="0.3810" stop-color="#20a5e3"/><stop offset="0.4286" stop-color="#12b1d6"/><stop offset="0.4762" stop-color="#02bac3"/><stop offset="0.5238" stop-color="#24c1ae"/><stop offset="0.5714" stop-color="#37c897"/><stop offset="0.6190" stop-color="#57cc7a"/><stop offset="0.6667" stop-color="#81cc59"/><stop offset="0.7143" stop-color="#abc739"/><stop offset="0.7619" stop-color="#d1bf27"/><stop offset="0.8095" stop-color="#f0ba36"/><stop offset="0.8571" stop-color="#fec338"/><stop offset="0.9048" stop-color="#fad62d"/><stop offset="0.9524" stop-color="#f5e924"/><stop offset="1.0000" stop-color="#f9fb15"/><stop offset="1" stop-color="#f9fb15"/></linearGradient></defs>
<rect x="268.3" y="1375.3" width="783.2" height="38.9" fill="url(#cbar)" stroke="#000" stroke-width="2.6"/>
<g stroke="#222" stroke-width="2">
<line x1="320.5" y1="1414.2" x2="320.5" y2="1409.2"/>
<line x1="424.9" y1="1414.2" x2="424.9" y2="1409.2"/>
<line x1="529.4" y1="1414.2" x2="529.4" y2="1409.2"/>
<line x1="633.8" y1="1414.2" x2="633.8" y2="1409.2"/>
<line x1="738.2" y1="1414.2" x2="738.2" y2="1409.2"/>
<line x1="842.6" y1="1414.2" x2="842.6" y2="1409.2"/>
<line x1="947.1" y1="1414.2" x2="947.1" y2="1409.2"/>
</g>
<text x="320.5" y="1452.7" font-size="38" text-anchor="middle">500</text>
<text x="529.4" y="1452.7" font-size="38" text-anchor="middle">1500</text>
<text x="738.2" y="1452.7" font-size="38" text-anchor="middle">2500</text>
<text x="947.1" y="1452.7" font-size="38" text-anchor="middle">3500</text>
<text x="652" y="1498.5" font-size="38.6" text-anchor="middle" font-weight="bold">Shear wave velocities (m/s)</text>
<defs><pattern id="pBas" patternUnits="userSpaceOnUse" x="1595.3" y="91.7" width="11.2" height="46.4"><rect width="11.2" height="46.4" fill="#a3a3fb"/><path d="M0 0l1.9 7.6l1.9 -7.6M5.6 23.2l1.9 7.6l1.9 -7.6M-5.6 23.2l1.9 7.6l1.9 -7.6" stroke="#34346e" stroke-width="1.1" fill="none"/></pattern><pattern id="pSha" patternUnits="userSpaceOnUse" x="1592" y="90" width="30" height="21.6"><rect width="30" height="21.6" fill="#8a5514"/><path d="M1 5.4h11M16 5.4h11M-6.5 16.2h11M8.5 16.2h11M23.5 16.2h11" stroke="#2a1804" stroke-width="1.1" fill="none"/></pattern><pattern id="pSil" patternUnits="userSpaceOnUse" x="1592" y="103" width="30" height="16.6"><rect width="30" height="16.6" fill="#fdfda0"/><path d="M1 4.1h10M19 4.1h10M-8 12.4h10M7 12.4h10M22 12.4h10" stroke="#1c1c08" stroke-width="1.1" fill="none"/><path d="M13 4.1h1M15.5 4.1h1M-1 12.4h1M1.5 12.4h1M4 12.4h1M18.8 12.4h1.2M29 12.4h1" stroke="#1c1c08" stroke-width="1.3" fill="none"/></pattern><pattern id="pBasS" patternUnits="userSpaceOnUse" x="1149" y="1084" width="4.6" height="18.6"><rect width="4.6" height="18.6" fill="#a3a3fb"/><path d="M0.8 1l0.9 3.4M3.1 10.3l0.9 3.4" stroke="#4a4a8a" stroke-width="0.9" fill="none"/></pattern><pattern id="pShaS" patternUnits="userSpaceOnUse" x="1148" y="1080" width="12" height="8.6"><rect width="12" height="8.6" fill="#8a5514"/><path d="M0.5 2.2h4.4M6.5 2.2h4.4M-2.5 6.5h4.4M3.5 6.5h4.4M9.5 6.5h4.4" stroke="#3a2206" stroke-width="0.8" fill="none"/></pattern><pattern id="pSilS" patternUnits="userSpaceOnUse" x="1148" y="1080" width="12" height="6.7"><rect width="12" height="6.7" fill="#fdfda0"/><path d="M0.5 1.7h4M7.5 1.7h4M-3 5h4M3 5h4M9 5h4" stroke="#77773a" stroke-width="0.8" fill="none"/></pattern></defs>
<g stroke="#000" stroke-width="2" stroke-dasharray="10.5 10.5" fill="none">
<line x1="1513.5" y1="80" x2="1189.6" y2="1025"/>
<line x1="1653" y1="769.5" x2="1185" y2="1346"/>
</g>
<rect x="1261" y="914.6" width="787" height="554.8" fill="#fff" stroke="#5a5a5a" stroke-width="1.6"/>
<rect x="1592.2" y="78.10" width="62.4" height="12.26" fill="#fbc254"/>
<rect x="1592.2" y="90.06" width="62.4" height="197.64" fill="url(#pBas)"/>
<rect x="1592.2" y="287.40" width="62.4" height="28.59" fill="url(#pSha)"/>
<rect x="1592.2" y="315.69" width="62.4" height="154.63" fill="url(#pSil)"/>
<rect x="1592.2" y="470.02" width="62.4" height="31.58" fill="url(#pSha)"/>
<rect x="1592.2" y="501.30" width="62.4" height="90.69" fill="url(#pSil)"/>
<rect x="1592.2" y="591.69" width="62.4" height="90.92" fill="url(#pSha)"/>
<rect x="1592.2" y="682.31" width="62.4" height="2.14" fill="#a2fba2"/>
<rect x="1592.2" y="684.15" width="62.4" height="37.10" fill="url(#pSil)"/>
<rect x="1592.2" y="720.95" width="62.4" height="4.90" fill="#c99e22"/>
<rect x="1592.2" y="725.55" width="62.4" height="12.95" fill="url(#pSha)"/>
<rect x="1592.2" y="738.20" width="62.4" height="3.98" fill="#fdfda0"/>
<rect x="1592.2" y="741.88" width="62.4" height="5.36" fill="#c99e22"/>
<rect x="1592.2" y="746.94" width="62.4" height="2.14" fill="#fdfda0"/>
<rect x="1592.2" y="748.78" width="62.4" height="2.60" fill="#c99e22"/>
<rect x="1592.2" y="751.08" width="62.4" height="2.37" fill="#fdfda0"/>
<rect x="1592.2" y="753.15" width="62.4" height="13.18" fill="#c99e22"/>
<g stroke="#333" stroke-width="1.5" fill="none">
<path d="M1565.4 78.1V766H1654.6"/>
<path d="M1654.6 78.1V766"/>
<path d="M1565.4 87.27h11.2M1565.4 96.45h11.2M1565.4 105.62h11.2M1565.4 114.80h11.2M1565.4 123.97h22.5M1565.4 133.14h11.2M1565.4 142.32h11.2M1565.4 151.49h11.2M1565.4 160.67h11.2M1565.4 169.84h22.5M1565.4 179.01h11.2M1565.4 188.19h11.2M1565.4 197.36h11.2M1565.4 206.54h11.2M1565.4 215.71h22.5M1565.4 224.88h11.2M1565.4 234.06h11.2M1565.4 243.23h11.2M1565.4 252.41h11.2M1565.4 261.58h22.5M1565.4 270.75h11.2M1565.4 279.93h11.2M1565.4 289.10h11.2M1565.4 298.28h11.2M1565.4 307.45h22.5M1565.4 316.62h11.2M1565.4 325.80h11.2M1565.4 334.97h11.2M1565.4 344.15h11.2M1565.4 353.32h22.5M1565.4 362.49h11.2M1565.4 371.67h11.2M1565.4 380.84h11.2M1565.4 390.02h11.2M1565.4 399.19h22.5M1565.4 408.36h11.2M1565.4 417.54h11.2M1565.4 426.71h11.2M1565.4 435.89h11.2M1565.4 445.06h22.5M1565.4 454.23h11.2M1565.4 463.41h11.2M1565.4 472.58h11.2M1565.4 481.76h11.2M1565.4 490.93h22.5M1565.4 500.10h11.2M1565.4 509.28h11.2M1565.4 518.45h11.2M1565.4 527.63h11.2M1565.4 536.80h22.5M1565.4 545.97h11.2M1565.4 555.15h11.2M1565.4 564.32h11.2M1565.4 573.50h11.2M1565.4 582.67h22.5M1565.4 591.84h11.2M1565.4 601.02h11.2M1565.4 610.19h11.2M1565.4 619.37h11.2M1565.4 628.54h22.5M1565.4 637.71h11.2M1565.4 646.89h11.2M1565.4 656.06h11.2M1565.4 665.24h11.2M1565.4 674.41h22.5M1565.4 683.58h11.2M1565.4 692.76h11.2M1565.4 701.93h11.2M1565.4 711.11h11.2M1565.4 720.28h22.5M1565.4 729.45h11.2M1565.4 738.63h11.2M1565.4 747.80h11.2M1565.4 756.98h11.2" stroke="#555"/>
</g>
<g stroke="#111" stroke-width="1.7" fill="none">
<path d="M1497.5 78.1H1532.4M1556.7 78.1H1675.8V769.4"/>
<path d="M1654.6 287.3H1716"/>
</g>
<path d="M1592.2 77.8H1654.6" stroke="#000" stroke-width="2.4"/>
<text x="1370.5" y="52" font-size="44">c)</text>
<text x="1623" y="55.5" font-size="37.4" text-anchor="middle" font-weight="bold">KMF7</text>
<text x="1553.5" y="90.5" font-size="38" text-anchor="end">0</text>
<text x="1553.5" y="182.5" font-size="38" text-anchor="end">40</text>
<text x="1553.5" y="274.5" font-size="38" text-anchor="end">80</text>
<text x="1553.5" y="366.5" font-size="38" text-anchor="end">120</text>
<text x="1553.5" y="458.5" font-size="38" text-anchor="end">160</text>
<text x="1553.5" y="550.5" font-size="38" text-anchor="end">200</text>
<text x="1553.5" y="642.5" font-size="38" text-anchor="end">240</text>
<text x="1553.5" y="734.5" font-size="38" text-anchor="end">280</text>
<text transform="translate(1478.5,421) rotate(-90)" font-size="38.5" font-weight="bold" text-anchor="middle">Depth (m)</text>
<text x="1688.2" y="174.3" font-size="38.6">Hekpoort Formation</text>
<text x="1688.2" y="222.8" font-size="38.6">Basalt (2230 ± 13 Ma)</text>
<text x="1688.2" y="477" font-size="38.6">Timeball Hill</text>
<text x="1688.2" y="525" font-size="38.6">Formation Rocks</text>
<text x="1688.2" y="573.4" font-size="38.6">(2324 ± 17 Ma)</text>
<text x="1271.2" y="954" font-size="45.3" font-weight="bold">Legend</text>
<rect x="1292" y="984.7" width="56.6" height="56" fill="#fbc254" stroke="#8a8a8a" stroke-width="1.2"/>
<text x="1363.9" y="1021.5" font-size="38.6">Clay</text>
<rect x="1292" y="1054.4" width="56.6" height="56" fill="#a2fba2" stroke="#8a8a8a" stroke-width="1.2"/>
<text x="1363.9" y="1094.6" font-size="38.6">Dolerite</text>
<rect x="1292" y="1124.1" width="56.6" height="56" fill="#a3a3fb" stroke="#8a8a8a" stroke-width="1.2"/>
<text x="1363.9" y="1161" font-size="38.6">Hekpoort Formation Basalt (2230 ± 13 Ma)</text>
<rect x="1292" y="1193.9" width="56.6" height="56" fill="#c99e22" stroke="#8a8a8a" stroke-width="1.2"/>
<text x="1363.9" y="1234.9" font-size="38.6">Quartz rich siltstone</text>
<rect x="1292" y="1263.6" width="56.6" height="56" fill="#8a5514" stroke="#8a8a8a" stroke-width="1.2"/>
<text x="1363.9" y="1299" font-size="38.6">Shale</text>
<rect x="1292" y="1333.3" width="56.6" height="56" fill="#fdfda0" stroke="#8a8a8a" stroke-width="1.2"/>
<text x="1363.9" y="1375" font-size="38.6">Siltstone</text>
<rect x="1292" y="1403" width="56.6" height="56" fill="#7d6113" stroke="#8a8a8a" stroke-width="1.2"/>
<text x="1363.9" y="1445.3" font-size="38.6">Orthoquartzite</text>
<path d="M1305 1087.9h15M1312.5 1080.4v15M1333 1061.9h15M1340.5 1054.9v15" stroke="#111" stroke-width="1.6" fill="none"/>
<path d="M1306.5 1125.6l9.3 22l9.3 -22" stroke="#111" stroke-width="1.7" fill="none"/>
<path d="M1292 1264.8h35M1308.5 1294.1h40" stroke="#000" stroke-width="2.2" fill="none"/>
<path d="M1330 1345.3h18M1292 1367.3h46" stroke="#000" stroke-width="1.8" fill="none"/>
<g fill="#000"><circle cx="1301" cy="1345.3" r="2"/><circle cx="1318" cy="1345.3" r="2"/>
<circle cx="1298" cy="1387.6" r="2.1"/>
<circle cx="1314.5" cy="1387.6" r="2.1"/>
<circle cx="1330" cy="1387.6" r="2.1"/>
<circle cx="1345" cy="1387.6" r="2.1"/>
</g>
<path d="M1681.6 1207.4H1700.6V1462.2H1681.6" stroke="#111" stroke-width="1.7" fill="none"/>
<text x="1723.9" y="1327.8" font-size="38.6">Timeball Hill</text>
<text x="1723.9" y="1376.4" font-size="38.6">Formation Rocks</text>
<text x="1723.9" y="1425" font-size="38.6">(2324 ± 17 Ma)</text>
</svg>
</body></html>
